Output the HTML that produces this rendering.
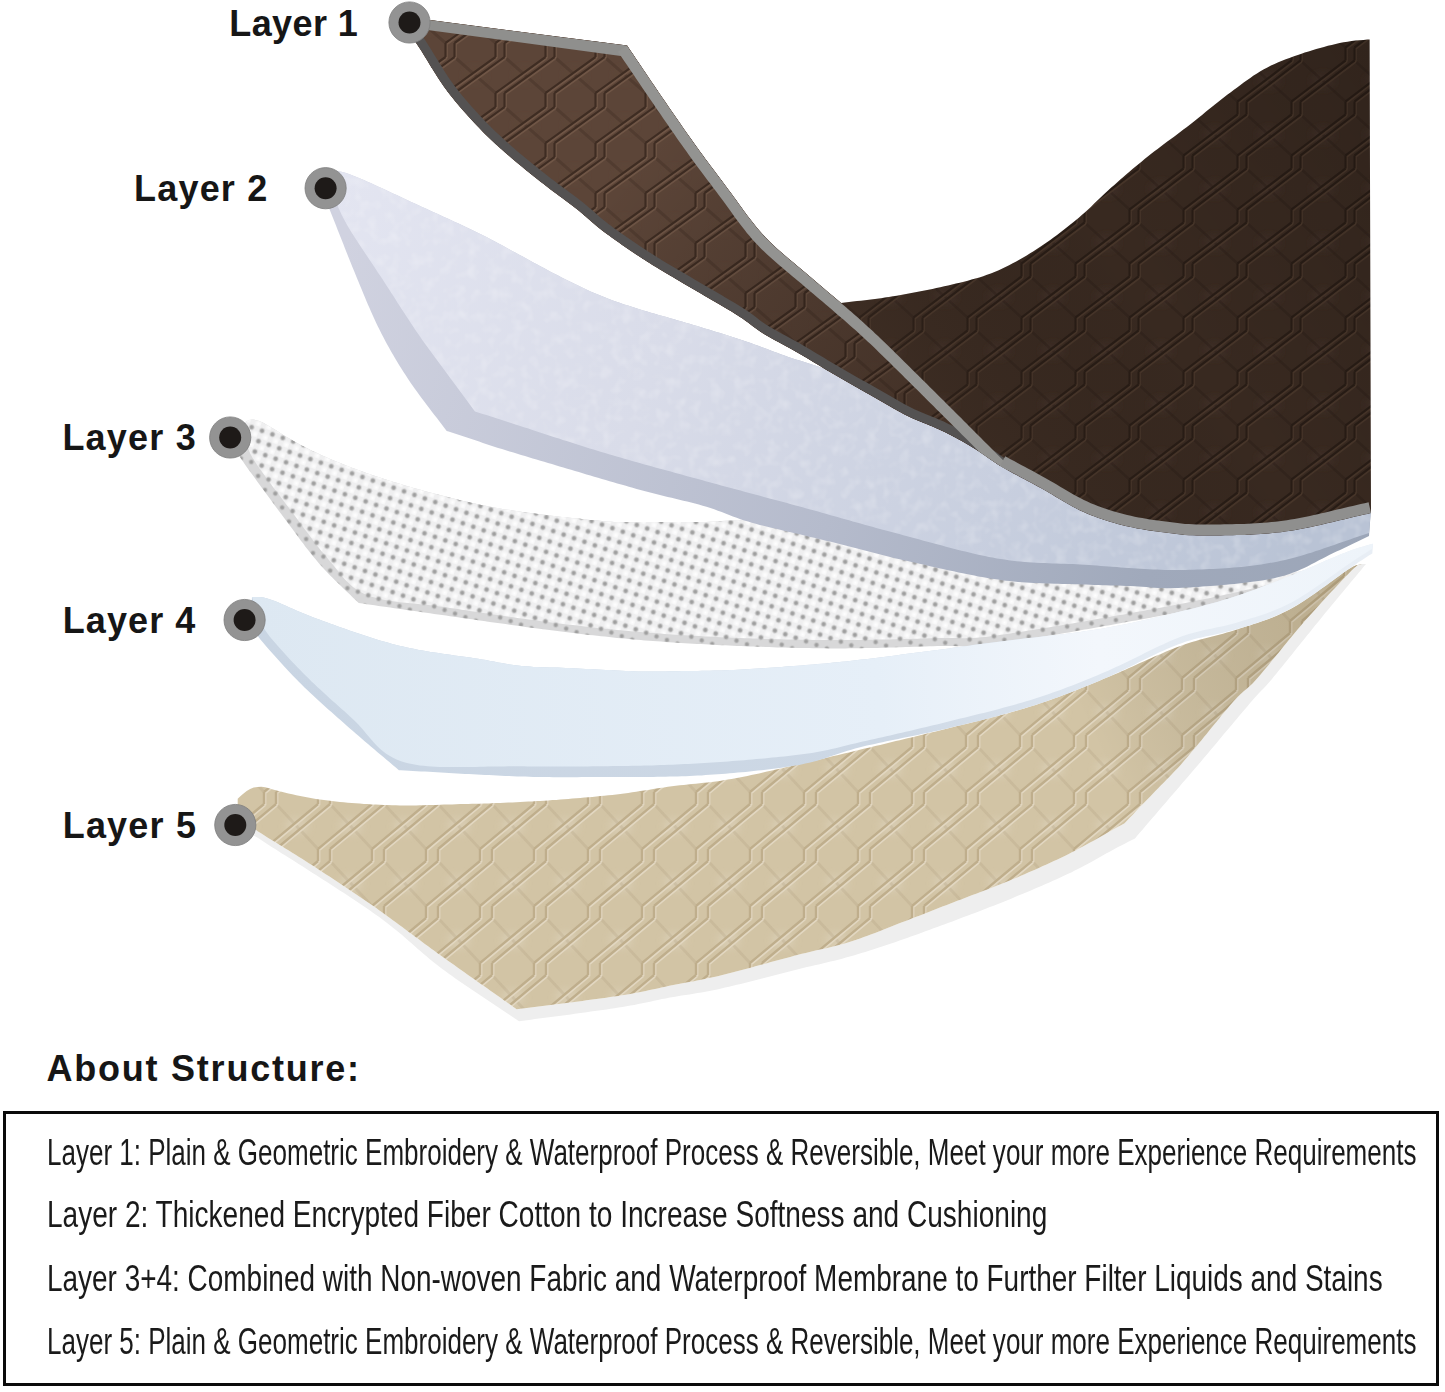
<!DOCTYPE html>
<html><head><meta charset="utf-8"><style>
html,body{margin:0;padding:0;background:#fff;width:1445px;height:1392px;overflow:hidden;position:relative}
.lab{position:absolute;font-family:"Liberation Sans",sans-serif;font-weight:bold;font-size:36px;letter-spacing:0.5px;color:#161616;line-height:1;white-space:nowrap}
.ttl{position:absolute;left:46.5px;top:1050.5px;font-family:"Liberation Sans",sans-serif;font-weight:bold;font-size:36px;letter-spacing:1.77px;color:#161616;line-height:1;white-space:nowrap}
.box{position:absolute;left:2.9px;top:1111.1px;width:1430.5px;height:269.3px;border:3.8px solid #0a0a0a;}
.ln{position:absolute;left:47px;font-family:"Liberation Sans",sans-serif;font-size:36px;color:#1a1a1a;line-height:1;white-space:nowrap;transform-origin:0 0}
</style></head><body>
<svg width="1445" height="1392" viewBox="0 0 1445 1392" style="position:absolute;left:0;top:0"><defs><filter id="blur3" x="-50%" y="-50%" width="200%" height="200%"><feGaussianBlur stdDeviation="3"/></filter><pattern id="qb" width="54" height="54" patternUnits="userSpaceOnUse"><rect width="54" height="54" fill="#382920"/><ellipse cx="27.0" cy="27.0" rx="11.9" ry="8.6" fill="#43322a" opacity="0.5" filter="url(#blur3)"/><path d="M-49.5,-47.5 L-4.5,-6.5 M-49.5,6.5 L-4.5,47.5 M-49.5,60.5 L-4.5,101.5 M4.5,-47.5 L49.5,-6.5 M4.5,6.5 L49.5,47.5 M4.5,60.5 L49.5,101.5 M58.5,-47.5 L103.5,-6.5 M58.5,6.5 L103.5,47.5 M58.5,60.5 L103.5,101.5" stroke="#1e140e" stroke-opacity="0.25" stroke-width="3" fill="none"/><path d="M-58.5,-6.5 L-4.5,-47.5 M-58.5,-60.5 L-58.5,-47.5 M-49.5,-6.5 L4.5,-47.5 M-49.5,-60.5 L-49.5,-47.5 M-58.5,47.5 L-4.5,6.5 M-58.5,-6.5 L-58.5,6.5 M-49.5,47.5 L4.5,6.5 M-49.5,-6.5 L-49.5,6.5 M-58.5,101.5 L-4.5,60.5 M-58.5,47.5 L-58.5,60.5 M-49.5,101.5 L4.5,60.5 M-49.5,47.5 L-49.5,60.5 M-4.5,-6.5 L49.5,-47.5 M-4.5,-60.5 L-4.5,-47.5 M4.5,-6.5 L58.5,-47.5 M4.5,-60.5 L4.5,-47.5 M-4.5,47.5 L49.5,6.5 M-4.5,-6.5 L-4.5,6.5 M4.5,47.5 L58.5,6.5 M4.5,-6.5 L4.5,6.5 M-4.5,101.5 L49.5,60.5 M-4.5,47.5 L-4.5,60.5 M4.5,101.5 L58.5,60.5 M4.5,47.5 L4.5,60.5 M49.5,-6.5 L103.5,-47.5 M49.5,-60.5 L49.5,-47.5 M58.5,-6.5 L112.5,-47.5 M58.5,-60.5 L58.5,-47.5 M49.5,47.5 L103.5,6.5 M49.5,-6.5 L49.5,6.5 M58.5,47.5 L112.5,6.5 M58.5,-6.5 L58.5,6.5 M49.5,101.5 L103.5,60.5 M49.5,47.5 L49.5,60.5 M58.5,101.5 L112.5,60.5 M58.5,47.5 L58.5,60.5" stroke="#473529" stroke-width="2.2" fill="none" transform="translate(1.2,1.2)"/><path d="M-58.5,-6.5 L-4.5,-47.5 M-58.5,-60.5 L-58.5,-47.5 M-49.5,-6.5 L4.5,-47.5 M-49.5,-60.5 L-49.5,-47.5 M-58.5,47.5 L-4.5,6.5 M-58.5,-6.5 L-58.5,6.5 M-49.5,47.5 L4.5,6.5 M-49.5,-6.5 L-49.5,6.5 M-58.5,101.5 L-4.5,60.5 M-58.5,47.5 L-58.5,60.5 M-49.5,101.5 L4.5,60.5 M-49.5,47.5 L-49.5,60.5 M-4.5,-6.5 L49.5,-47.5 M-4.5,-60.5 L-4.5,-47.5 M4.5,-6.5 L58.5,-47.5 M4.5,-60.5 L4.5,-47.5 M-4.5,47.5 L49.5,6.5 M-4.5,-6.5 L-4.5,6.5 M4.5,47.5 L58.5,6.5 M4.5,-6.5 L4.5,6.5 M-4.5,101.5 L49.5,60.5 M-4.5,47.5 L-4.5,60.5 M4.5,101.5 L58.5,60.5 M4.5,47.5 L4.5,60.5 M49.5,-6.5 L103.5,-47.5 M49.5,-60.5 L49.5,-47.5 M58.5,-6.5 L112.5,-47.5 M58.5,-60.5 L58.5,-47.5 M49.5,47.5 L103.5,6.5 M49.5,-6.5 L49.5,6.5 M58.5,47.5 L112.5,6.5 M58.5,-6.5 L58.5,6.5 M49.5,101.5 L103.5,60.5 M49.5,47.5 L49.5,60.5 M58.5,101.5 L112.5,60.5 M58.5,47.5 L58.5,60.5" stroke="#281c15" stroke-width="2.2" fill="none"/></pattern><pattern id="qbn" width="50" height="50" patternUnits="userSpaceOnUse"><rect width="50" height="50" fill="#5c4538"/><ellipse cx="25.0" cy="25.0" rx="11.0" ry="8.0" fill="#5e4637" opacity="0.5" filter="url(#blur3)"/><path d="M-45.5,-43.0 L-4.5,-7.0 M-45.5,7.0 L-4.5,43.0 M-45.5,57.0 L-4.5,93.0 M4.5,-43.0 L45.5,-7.0 M4.5,7.0 L45.5,43.0 M4.5,57.0 L45.5,93.0 M54.5,-43.0 L95.5,-7.0 M54.5,7.0 L95.5,43.0 M54.5,57.0 L95.5,93.0" stroke="#2e2018" stroke-opacity="0.25" stroke-width="3" fill="none"/><path d="M-54.5,-7.0 L-4.5,-43.0 M-54.5,-57.0 L-54.5,-43.0 M-45.5,-7.0 L4.5,-43.0 M-45.5,-57.0 L-45.5,-43.0 M-54.5,43.0 L-4.5,7.0 M-54.5,-7.0 L-54.5,7.0 M-45.5,43.0 L4.5,7.0 M-45.5,-7.0 L-45.5,7.0 M-54.5,93.0 L-4.5,57.0 M-54.5,43.0 L-54.5,57.0 M-45.5,93.0 L4.5,57.0 M-45.5,43.0 L-45.5,57.0 M-4.5,-7.0 L45.5,-43.0 M-4.5,-57.0 L-4.5,-43.0 M4.5,-7.0 L54.5,-43.0 M4.5,-57.0 L4.5,-43.0 M-4.5,43.0 L45.5,7.0 M-4.5,-7.0 L-4.5,7.0 M4.5,43.0 L54.5,7.0 M4.5,-7.0 L4.5,7.0 M-4.5,93.0 L45.5,57.0 M-4.5,43.0 L-4.5,57.0 M4.5,93.0 L54.5,57.0 M4.5,43.0 L4.5,57.0 M45.5,-7.0 L95.5,-43.0 M45.5,-57.0 L45.5,-43.0 M54.5,-7.0 L104.5,-43.0 M54.5,-57.0 L54.5,-43.0 M45.5,43.0 L95.5,7.0 M45.5,-7.0 L45.5,7.0 M54.5,43.0 L104.5,7.0 M54.5,-7.0 L54.5,7.0 M45.5,93.0 L95.5,57.0 M45.5,43.0 L45.5,57.0 M54.5,93.0 L104.5,57.0 M54.5,43.0 L54.5,57.0" stroke="#705646" stroke-width="2.2" fill="none" transform="translate(1.2,1.2)"/><path d="M-54.5,-7.0 L-4.5,-43.0 M-54.5,-57.0 L-54.5,-43.0 M-45.5,-7.0 L4.5,-43.0 M-45.5,-57.0 L-45.5,-43.0 M-54.5,43.0 L-4.5,7.0 M-54.5,-7.0 L-54.5,7.0 M-45.5,43.0 L4.5,7.0 M-45.5,-7.0 L-45.5,7.0 M-54.5,93.0 L-4.5,57.0 M-54.5,43.0 L-54.5,57.0 M-45.5,93.0 L4.5,57.0 M-45.5,43.0 L-45.5,57.0 M-4.5,-7.0 L45.5,-43.0 M-4.5,-57.0 L-4.5,-43.0 M4.5,-7.0 L54.5,-43.0 M4.5,-57.0 L4.5,-43.0 M-4.5,43.0 L45.5,7.0 M-4.5,-7.0 L-4.5,7.0 M4.5,43.0 L54.5,7.0 M4.5,-7.0 L4.5,7.0 M-4.5,93.0 L45.5,57.0 M-4.5,43.0 L-4.5,57.0 M4.5,93.0 L54.5,57.0 M4.5,43.0 L4.5,57.0 M45.5,-7.0 L95.5,-43.0 M45.5,-57.0 L45.5,-43.0 M54.5,-7.0 L104.5,-43.0 M54.5,-57.0 L54.5,-43.0 M45.5,43.0 L95.5,7.0 M45.5,-7.0 L45.5,7.0 M54.5,43.0 L104.5,7.0 M54.5,-7.0 L54.5,7.0 M45.5,93.0 L95.5,57.0 M45.5,43.0 L45.5,57.0 M54.5,93.0 L104.5,57.0 M54.5,43.0 L54.5,57.0" stroke="#3e2c22" stroke-width="2.2" fill="none"/></pattern><pattern id="qt" width="54" height="57" patternUnits="userSpaceOnUse"><rect width="54" height="57" fill="#d2c4a5"/><ellipse cx="27.0" cy="28.5" rx="11.9" ry="9.1" fill="#ddd2bb" opacity="0.5" filter="url(#blur3)"/><path d="M-48.0,-51.0 L-6.0,-6.0 M-48.0,6.0 L-6.0,51.0 M-48.0,63.0 L-6.0,108.0 M6.0,-51.0 L48.0,-6.0 M6.0,6.0 L48.0,51.0 M6.0,63.0 L48.0,108.0 M60.0,-51.0 L102.0,-6.0 M60.0,6.0 L102.0,51.0 M60.0,63.0 L102.0,108.0" stroke="#9c8b6a" stroke-opacity="0.16" stroke-width="3" fill="none"/><path d="M-60.0,-6.0 L-6.0,-51.0 M-60.0,-63.0 L-60.0,-51.0 M-48.0,-6.0 L6.0,-51.0 M-48.0,-63.0 L-48.0,-51.0 M-60.0,51.0 L-6.0,6.0 M-60.0,-6.0 L-60.0,6.0 M-48.0,51.0 L6.0,6.0 M-48.0,-6.0 L-48.0,6.0 M-60.0,108.0 L-6.0,63.0 M-60.0,51.0 L-60.0,63.0 M-48.0,108.0 L6.0,63.0 M-48.0,51.0 L-48.0,63.0 M-6.0,-6.0 L48.0,-51.0 M-6.0,-63.0 L-6.0,-51.0 M6.0,-6.0 L60.0,-51.0 M6.0,-63.0 L6.0,-51.0 M-6.0,51.0 L48.0,6.0 M-6.0,-6.0 L-6.0,6.0 M6.0,51.0 L60.0,6.0 M6.0,-6.0 L6.0,6.0 M-6.0,108.0 L48.0,63.0 M-6.0,51.0 L-6.0,63.0 M6.0,108.0 L60.0,63.0 M6.0,51.0 L6.0,63.0 M48.0,-6.0 L102.0,-51.0 M48.0,-63.0 L48.0,-51.0 M60.0,-6.0 L114.0,-51.0 M60.0,-63.0 L60.0,-51.0 M48.0,51.0 L102.0,6.0 M48.0,-6.0 L48.0,6.0 M60.0,51.0 L114.0,6.0 M60.0,-6.0 L60.0,6.0 M48.0,108.0 L102.0,63.0 M48.0,51.0 L48.0,63.0 M60.0,108.0 L114.0,63.0 M60.0,51.0 L60.0,63.0" stroke="#e2d7c1" stroke-width="2.4" fill="none" transform="translate(1.2,1.2)"/><path d="M-60.0,-6.0 L-6.0,-51.0 M-60.0,-63.0 L-60.0,-51.0 M-48.0,-6.0 L6.0,-51.0 M-48.0,-63.0 L-48.0,-51.0 M-60.0,51.0 L-6.0,6.0 M-60.0,-6.0 L-60.0,6.0 M-48.0,51.0 L6.0,6.0 M-48.0,-6.0 L-48.0,6.0 M-60.0,108.0 L-6.0,63.0 M-60.0,51.0 L-60.0,63.0 M-48.0,108.0 L6.0,63.0 M-48.0,51.0 L-48.0,63.0 M-6.0,-6.0 L48.0,-51.0 M-6.0,-63.0 L-6.0,-51.0 M6.0,-6.0 L60.0,-51.0 M6.0,-63.0 L6.0,-51.0 M-6.0,51.0 L48.0,6.0 M-6.0,-6.0 L-6.0,6.0 M6.0,51.0 L60.0,6.0 M6.0,-6.0 L6.0,6.0 M-6.0,108.0 L48.0,63.0 M-6.0,51.0 L-6.0,63.0 M6.0,108.0 L60.0,63.0 M6.0,51.0 L6.0,63.0 M48.0,-6.0 L102.0,-51.0 M48.0,-63.0 L48.0,-51.0 M60.0,-6.0 L114.0,-51.0 M60.0,-63.0 L60.0,-51.0 M48.0,51.0 L102.0,6.0 M48.0,-6.0 L48.0,6.0 M60.0,51.0 L114.0,6.0 M60.0,-6.0 L60.0,6.0 M48.0,108.0 L102.0,63.0 M48.0,51.0 L48.0,63.0 M60.0,108.0 L114.0,63.0 M60.0,51.0 L60.0,63.0" stroke="#bfae8c" stroke-width="2.4" fill="none"/></pattern><radialGradient id="dotg"><stop offset="0" stop-color="#949494"/><stop offset="0.5" stop-color="#adadad"/><stop offset="1" stop-color="#e0e0e0" stop-opacity="0"/></radialGradient><radialGradient id="hig"><stop offset="0" stop-color="#ffffff"/><stop offset="1" stop-color="#ffffff" stop-opacity="0"/></radialGradient><pattern id="perf" width="11" height="11" patternUnits="userSpaceOnUse" patternTransform="rotate(19)"><rect width="11" height="11" fill="#efeff0"/><circle cx="8.5" cy="8.5" r="4.5" fill="url(#hig)"/><circle cx="3" cy="3" r="3.6" fill="url(#dotg)"/></pattern><pattern id="perf2" width="11" height="11" patternUnits="userSpaceOnUse" patternTransform="rotate(19)"><rect width="11" height="11" fill="#d8d8d9"/><circle cx="3" cy="3" r="3.6" fill="url(#dotg)"/></pattern><clipPath id="c1"><path d="M405.0,16.8 L429.5,20.0 L627.1,45.6 L629.4,48.9 L631.6,52.3 L633.9,55.6 L636.1,59.0 L638.4,62.3 L640.6,65.6 L642.9,69.0 L645.2,72.3 L647.4,75.7 L649.7,79.0 L651.9,82.4 L654.2,85.7 L656.5,89.0 L658.7,92.4 L661.0,95.7 L663.3,99.0 L665.6,102.3 L667.8,105.7 L670.1,109.0 L672.4,112.3 L674.7,115.6 L677.0,119.0 L679.3,122.3 L681.6,125.6 L683.9,128.9 L686.2,132.2 L688.5,135.5 L690.9,138.8 L693.2,142.1 L695.5,145.3 L697.9,148.6 L700.3,151.9 L702.7,155.1 L705.0,158.4 L707.4,161.6 L709.8,164.9 L712.3,168.1 L714.7,171.3 L717.1,174.5 L719.5,177.8 L722.0,181.0 L724.4,184.2 L726.8,187.4 L729.2,190.7 L731.6,193.9 L734.0,197.2 L736.4,200.4 L738.7,203.7 L741.1,207.0 L743.4,210.2 L745.8,213.5 L748.2,216.7 L750.7,219.9 L753.2,223.1 L755.7,226.3 L758.3,229.4 L760.9,232.4 L763.6,235.4 L766.4,238.3 L769.2,241.2 L772.1,244.0 L775.0,246.8 L778.0,249.5 L781.0,252.2 L784.1,254.8 L787.1,257.4 L790.2,260.0 L793.3,262.6 L796.4,265.2 L799.5,267.8 L802.6,270.4 L805.7,273.0 L808.7,275.6 L811.8,278.2 L814.8,280.8 L817.9,283.5 L821.0,286.1 L824.1,288.7 L827.1,291.3 L830.2,293.9 L833.3,296.5 L836.4,299.1 L839.5,301.7 L841.0,303.0 L845.0,302.5 L849.0,302.1 L853.0,301.6 L857.0,301.1 L861.0,300.7 L865.0,300.2 L869.0,299.7 L873.0,299.2 L877.0,298.7 L881.0,298.2 L885.0,297.6 L888.9,297.0 L892.9,296.3 L896.9,295.7 L900.8,295.0 L904.8,294.3 L908.8,293.5 L912.7,292.8 L916.7,292.0 L920.6,291.3 L924.6,290.5 L928.5,289.7 L932.5,288.9 L936.4,288.1 L940.3,287.2 L944.3,286.3 L948.2,285.5 L952.1,284.5 L956.0,283.6 L959.9,282.7 L963.9,281.7 L967.8,280.7 L971.6,279.6 L975.5,278.6 L979.4,277.4 L983.2,276.2 L987.0,274.8 L990.8,273.4 L994.5,271.9 L998.2,270.4 L1001.9,268.7 L1005.5,267.0 L1009.1,265.2 L1012.7,263.3 L1016.2,261.4 L1019.7,259.5 L1023.2,257.5 L1026.7,255.4 L1030.1,253.3 L1033.5,251.2 L1036.9,249.0 L1040.3,246.8 L1043.6,244.5 L1046.9,242.3 L1050.2,239.9 L1053.5,237.6 L1056.7,235.2 L1059.9,232.7 L1063.1,230.3 L1066.3,227.8 L1069.4,225.3 L1072.6,222.8 L1075.7,220.2 L1078.8,217.7 L1081.8,215.0 L1084.8,212.4 L1087.8,209.7 L1090.8,206.9 L1093.7,204.1 L1096.6,201.3 L1099.5,198.5 L1102.4,195.8 L1105.3,193.0 L1108.3,190.3 L1111.2,187.6 L1114.3,184.9 L1117.3,182.2 L1120.3,179.6 L1123.3,176.9 L1126.4,174.3 L1129.4,171.7 L1132.5,169.1 L1135.6,166.5 L1138.7,163.9 L1141.8,161.4 L1144.9,158.8 L1148.1,156.3 L1151.2,153.8 L1154.4,151.3 L1157.6,148.9 L1160.8,146.4 L1164.0,144.0 L1167.3,141.6 L1170.5,139.3 L1173.7,136.9 L1177.0,134.5 L1180.2,132.1 L1183.4,129.6 L1186.6,127.2 L1189.8,124.7 L1193.0,122.2 L1196.1,119.7 L1199.2,117.2 L1202.4,114.7 L1205.5,112.1 L1208.6,109.6 L1211.8,107.1 L1214.9,104.6 L1218.1,102.0 L1221.2,99.6 L1224.4,97.1 L1227.6,94.6 L1230.8,92.2 L1234.0,89.8 L1237.2,87.4 L1240.5,84.9 L1243.7,82.6 L1247.0,80.2 L1250.3,77.9 L1253.6,75.6 L1257.0,73.5 L1260.4,71.3 L1263.9,69.3 L1267.4,67.4 L1271.0,65.6 L1274.6,63.9 L1278.3,62.2 L1282.0,60.7 L1285.8,59.3 L1289.5,57.9 L1293.3,56.5 L1297.1,55.2 L1300.9,53.9 L1304.8,52.6 L1308.6,51.4 L1312.4,50.2 L1316.3,49.1 L1320.2,47.9 L1324.0,46.9 L1327.9,45.8 L1331.8,44.9 L1335.7,43.9 L1339.7,43.1 L1343.6,42.3 L1347.6,41.7 L1351.6,41.1 L1355.6,40.6 L1359.6,40.2 L1363.6,39.9 L1367.6,39.6 L1369.6,39.4 L1371.0,513.0 L1367.1,513.9 L1363.2,514.8 L1359.3,515.7 L1355.4,516.6 L1351.5,517.5 L1347.6,518.4 L1343.7,519.4 L1339.8,520.3 L1335.9,521.3 L1332.0,522.2 L1328.1,523.1 L1324.2,524.0 L1320.3,524.9 L1316.4,525.8 L1312.4,526.7 L1308.5,527.5 L1304.6,528.3 L1300.7,529.0 L1296.7,529.8 L1292.8,530.4 L1288.8,531.1 L1284.8,531.6 L1280.9,532.2 L1276.9,532.6 L1272.9,533.0 L1268.9,533.4 L1264.9,533.7 L1260.9,534.0 L1256.9,534.3 L1252.9,534.5 L1248.9,534.7 L1244.9,534.9 L1240.9,535.0 L1236.9,535.1 L1232.9,535.2 L1228.9,535.3 L1224.9,535.3 L1220.9,535.4 L1216.8,535.4 L1212.8,535.4 L1208.8,535.5 L1204.8,535.5 L1200.8,535.5 L1196.8,535.4 L1192.8,535.3 L1188.8,535.2 L1184.8,534.9 L1180.8,534.6 L1176.8,534.1 L1172.8,533.6 L1168.9,533.1 L1164.9,532.6 L1160.9,532.0 L1157.0,531.5 L1153.0,530.9 L1149.0,530.4 L1145.1,529.7 L1141.1,529.1 L1137.2,528.4 L1133.2,527.6 L1129.3,526.8 L1125.4,525.9 L1121.5,524.9 L1117.6,523.9 L1113.8,522.8 L1109.9,521.7 L1106.1,520.5 L1102.3,519.3 L1098.5,518.0 L1094.7,516.6 L1091.0,515.2 L1087.3,513.7 L1083.6,512.1 L1080.0,510.4 L1076.4,508.6 L1072.9,506.7 L1069.4,504.8 L1065.9,502.8 L1062.4,500.8 L1059.0,498.7 L1055.5,496.7 L1052.1,494.6 L1048.6,492.6 L1045.2,490.6 L1041.7,488.6 L1038.2,486.7 L1034.7,484.7 L1031.1,482.8 L1027.6,481.0 L1024.0,479.1 L1020.5,477.2 L1017.0,475.3 L1013.4,473.4 L1009.9,471.5 L1006.4,469.5 L1002.9,467.5 L999.5,465.5 L996.1,463.3 L992.8,461.1 L989.5,458.8 L986.2,456.5 L982.9,454.2 L979.6,452.0 L976.3,449.8 L972.9,447.6 L969.5,445.5 L966.0,443.5 L962.6,441.5 L959.1,439.5 L955.5,437.6 L952.0,435.7 L948.4,433.9 L944.9,432.1 L941.2,430.4 L937.6,428.7 L933.9,427.1 L930.2,425.6 L926.5,424.1 L922.8,422.6 L919.1,421.1 L915.4,419.6 L911.7,417.9 L908.1,416.2 L904.5,414.4 L901.0,412.5 L897.5,410.6 L894.0,408.6 L890.5,406.6 L887.0,404.6 L883.6,402.6 L880.1,400.6 L876.6,398.6 L873.1,396.6 L869.7,394.6 L866.2,392.7 L862.7,390.7 L859.2,388.7 L855.7,386.8 L852.2,384.8 L848.7,382.8 L845.2,380.8 L841.7,378.8 L838.3,376.8 L834.8,374.8 L831.4,372.8 L827.9,370.7 L824.5,368.7 L821.0,366.6 L817.6,364.5 L814.2,362.4 L810.8,360.4 L807.3,358.3 L803.9,356.3 L800.4,354.2 L796.9,352.2 L793.5,350.3 L789.9,348.3 L786.4,346.4 L782.9,344.5 L779.4,342.6 L775.9,340.7 L772.3,338.7 L768.8,336.8 L765.4,334.8 L762.0,332.7 L758.7,330.4 L755.4,328.1 L752.2,325.7 L749.0,323.3 L745.8,320.9 L742.6,318.6 L739.2,316.4 L735.9,314.2 L732.5,312.1 L729.0,310.0 L725.6,308.0 L722.1,306.0 L718.7,303.9 L715.2,301.9 L711.7,299.9 L708.3,297.9 L704.8,295.9 L701.3,293.8 L697.9,291.8 L694.4,289.8 L691.0,287.7 L687.5,285.7 L684.0,283.7 L680.6,281.7 L677.1,279.7 L673.7,277.6 L670.2,275.6 L666.8,273.6 L663.3,271.5 L659.9,269.4 L656.5,267.3 L653.0,265.2 L649.7,263.1 L646.3,261.0 L642.9,258.8 L639.5,256.6 L636.2,254.4 L632.9,252.2 L629.5,249.9 L626.2,247.7 L622.9,245.4 L619.6,243.1 L616.3,240.8 L613.1,238.5 L609.8,236.1 L606.6,233.8 L603.4,231.4 L600.2,228.9 L597.1,226.4 L594.0,223.8 L591.0,221.2 L588.0,218.5 L585.0,215.9 L581.9,213.3 L578.9,210.8 L575.7,208.3 L572.6,205.8 L569.4,203.4 L566.1,201.0 L562.9,198.6 L559.7,196.2 L556.5,193.8 L553.3,191.4 L550.1,189.0 L546.9,186.6 L543.7,184.1 L540.5,181.7 L537.4,179.2 L534.2,176.7 L531.1,174.2 L528.0,171.7 L524.9,169.2 L521.8,166.6 L518.7,164.1 L515.6,161.5 L512.6,158.9 L509.5,156.3 L506.5,153.7 L503.5,151.0 L500.5,148.4 L497.5,145.7 L494.5,143.0 L491.6,140.3 L488.7,137.5 L485.8,134.7 L483.0,131.9 L480.2,129.0 L477.4,126.1 L474.7,123.2 L471.9,120.2 L469.2,117.3 L466.6,114.3 L463.9,111.3 L461.2,108.3 L458.6,105.3 L456.0,102.2 L453.5,99.1 L451.0,96.0 L448.5,92.8 L446.1,89.6 L443.8,86.4 L441.5,83.1 L439.3,79.7 L437.1,76.4 L435.0,73.0 L432.8,69.6 L430.7,66.2 L428.6,62.8 L426.6,59.3 L424.5,55.9 L422.4,52.5 L420.2,49.1 L418.0,45.8 L415.8,42.4 L413.5,39.2 L411.1,35.9 L408.7,32.7 L406.2,29.6 L405.0,28.0Z"/></clipPath></defs><path d="M240.0,430.0 L241.8,426.7 L243.8,423.7 L246.2,421.4 L249.0,419.9 L252.2,419.5 L255.6,419.9 L259.2,421.0 L262.7,422.6 L266.2,424.5 L269.7,426.5 L273.1,428.5 L276.5,430.6 L279.9,432.8 L283.3,434.9 L286.7,437.0 L290.2,439.0 L293.6,441.1 L297.1,443.0 L300.6,445.0 L304.2,446.8 L307.7,448.6 L311.3,450.4 L314.9,452.1 L318.6,453.8 L322.2,455.5 L325.9,457.1 L329.6,458.7 L333.2,460.3 L336.9,461.8 L340.7,463.3 L344.4,464.8 L348.1,466.3 L351.9,467.7 L355.6,469.1 L359.4,470.5 L363.2,471.8 L366.9,473.2 L370.7,474.5 L374.5,475.8 L378.3,477.1 L382.1,478.3 L385.9,479.6 L389.7,480.8 L393.6,482.0 L397.4,483.1 L401.2,484.3 L405.1,485.4 L408.9,486.6 L412.8,487.7 L416.6,488.7 L420.5,489.8 L424.4,490.9 L428.2,491.9 L432.1,493.0 L436.0,494.0 L439.9,495.0 L443.7,496.1 L447.6,497.1 L451.5,498.1 L455.4,499.0 L459.3,500.0 L463.2,500.9 L467.1,501.8 L471.0,502.7 L474.9,503.6 L478.8,504.4 L482.7,505.2 L486.7,506.0 L490.6,506.7 L494.6,507.5 L498.5,508.2 L502.4,508.9 L506.4,509.5 L510.4,510.1 L514.3,510.7 L518.3,511.3 L522.3,511.9 L526.2,512.4 L530.2,513.0 L534.2,513.5 L538.1,514.0 L542.1,514.5 L546.1,515.0 L550.1,515.5 L554.1,516.0 L558.0,516.4 L562.0,516.9 L566.0,517.3 L570.0,517.8 L574.0,518.2 L578.0,518.6 L581.9,519.1 L585.9,519.5 L589.9,519.9 L593.9,520.2 L597.9,520.6 L601.9,521.0 L605.9,521.3 L609.9,521.6 L613.9,521.9 L617.9,522.1 L621.9,522.2 L625.9,522.3 L629.9,522.3 L633.9,522.2 L637.9,522.2 L641.9,522.1 L645.9,522.1 L649.9,522.1 L653.9,522.0 L658.0,522.1 L662.0,522.1 L666.0,522.1 L670.0,522.1 L674.0,522.1 L678.0,522.1 L682.0,522.1 L686.0,522.1 L690.0,522.1 L694.0,522.1 L698.0,522.1 L702.0,522.0 L706.0,521.9 L710.0,521.8 L714.0,521.6 L718.0,521.3 L722.0,521.1 L726.0,520.8 L730.0,520.5 L734.0,520.4 L738.0,520.3 L742.0,520.5 L746.0,520.7 L750.0,521.1 L753.9,521.7 L757.9,522.3 L761.8,523.1 L765.8,523.9 L769.7,524.7 L773.6,525.6 L777.5,526.6 L781.4,527.5 L785.3,528.4 L789.2,529.4 L793.1,530.3 L797.0,531.3 L800.9,532.2 L804.8,533.1 L808.7,534.0 L812.6,534.9 L816.5,535.9 L820.4,536.8 L824.3,537.7 L828.2,538.7 L832.0,539.6 L835.9,540.6 L839.8,541.5 L843.7,542.5 L847.6,543.4 L851.5,544.4 L855.4,545.3 L859.3,546.3 L863.2,547.3 L867.1,548.2 L871.0,549.2 L874.9,550.2 L878.8,551.1 L882.6,552.1 L886.5,553.0 L890.4,553.9 L894.4,554.8 L898.3,555.7 L902.2,556.6 L906.1,557.5 L910.0,558.4 L913.9,559.3 L917.8,560.3 L921.7,561.2 L925.6,562.1 L929.5,563.1 L933.4,564.0 L937.3,565.0 L941.1,565.9 L945.1,566.8 L949.0,567.7 L952.9,568.6 L956.8,569.5 L960.7,570.3 L964.6,571.1 L968.6,571.9 L972.5,572.7 L976.4,573.4 L980.4,574.1 L984.3,574.7 L988.3,575.3 L992.3,575.9 L996.2,576.5 L1000.2,577.0 L1004.2,577.4 L1008.2,577.9 L1012.2,578.3 L1016.1,578.7 L1020.1,579.1 L1024.1,579.4 L1028.1,579.8 L1032.1,580.1 L1036.1,580.4 L1040.1,580.7 L1044.1,581.0 L1048.1,581.3 L1052.1,581.5 L1056.1,581.8 L1060.1,582.0 L1064.1,582.2 L1068.1,582.4 L1072.1,582.6 L1076.1,582.8 L1080.1,582.9 L1084.1,583.1 L1088.1,583.2 L1092.1,583.4 L1096.1,583.5 L1100.2,583.6 L1104.2,583.7 L1108.2,583.8 L1112.2,583.8 L1116.2,583.9 L1120.2,583.9 L1124.2,584.0 L1128.2,584.0 L1132.2,584.0 L1136.2,584.0 L1140.2,583.9 L1144.2,583.9 L1148.2,583.8 L1152.3,583.7 L1156.3,583.6 L1160.3,583.5 L1164.3,583.4 L1168.3,583.3 L1172.3,583.2 L1176.3,583.0 L1180.3,582.8 L1184.3,582.7 L1188.3,582.5 L1192.3,582.3 L1196.3,582.1 L1200.3,581.8 L1204.3,581.6 L1208.3,581.4 L1212.3,581.1 L1216.3,580.9 L1220.3,580.6 L1224.3,580.3 L1228.3,580.0 L1232.3,579.7 L1236.3,579.4 L1240.3,579.1 L1244.3,578.7 L1248.3,578.4 L1252.3,578.0 L1256.3,577.6 L1260.2,577.2 L1264.2,576.8 L1268.2,576.4 L1272.2,575.9 L1276.2,575.4 L1280.1,574.8 L1284.1,574.2 L1288.1,573.6 L1292.0,572.9 L1295.9,572.2 L1299.9,571.4 L1303.8,570.6 L1307.7,569.8 L1311.7,569.0 L1315.6,568.2 L1319.5,567.3 L1323.4,566.5 L1327.3,565.6 L1331.3,564.8 L1335.2,564.0 L1339.1,563.2 L1343.0,562.4 L1345.0,562.0 L1341.3,567.5 L1337.5,568.9 L1333.8,570.4 L1330.1,571.9 L1326.4,573.4 L1322.6,574.9 L1318.9,576.3 L1315.2,577.8 L1311.4,579.1 L1307.6,580.5 L1303.8,581.7 L1300.0,583.0 L1296.2,584.1 L1292.3,585.3 L1288.5,586.4 L1284.6,587.5 L1280.7,588.5 L1276.9,589.6 L1273.0,590.6 L1269.1,591.6 L1265.2,592.6 L1261.3,593.7 L1257.5,594.6 L1253.6,595.6 L1249.7,596.6 L1245.8,597.5 L1241.9,598.5 L1238.0,599.4 L1234.1,600.3 L1230.2,601.2 L1226.3,602.1 L1222.4,603.0 L1218.4,603.9 L1214.5,604.8 L1210.6,605.6 L1206.7,606.5 L1202.8,607.3 L1198.8,608.1 L1194.9,609.0 L1191.0,609.8 L1187.1,610.6 L1183.1,611.4 L1179.2,612.1 L1175.3,612.9 L1171.3,613.7 L1167.4,614.5 L1163.4,615.2 L1159.5,616.0 L1155.6,616.7 L1151.6,617.5 L1147.7,618.2 L1143.7,618.9 L1139.8,619.7 L1135.9,620.4 L1131.9,621.1 L1128.0,621.8 L1124.0,622.6 L1120.1,623.3 L1116.1,624.0 L1112.2,624.7 L1108.2,625.4 L1104.3,626.1 L1100.3,626.8 L1096.4,627.5 L1092.4,628.2 L1088.5,628.9 L1084.5,629.6 L1080.6,630.3 L1076.6,631.0 L1072.7,631.7 L1068.7,632.4 L1064.8,633.1 L1060.8,633.7 L1056.9,634.4 L1052.9,635.1 L1049.0,635.7 L1045.0,636.4 L1041.1,637.1 L1037.1,637.7 L1033.1,638.4 L1029.2,639.0 L1025.2,639.6 L1021.3,640.3 L1017.3,640.9 L1013.3,641.5 L1009.4,642.1 L1005.4,642.7 L1001.4,643.3 L997.5,643.8 L993.5,644.3 L989.5,644.8 L985.5,645.3 L981.5,645.6 L977.5,646.0 L973.5,646.2 L969.5,646.3 L965.5,646.4 L961.5,646.3 L957.5,646.2 L953.5,646.1 L949.5,646.1 L945.5,646.0 L941.5,646.0 L937.5,646.1 L933.5,646.2 L929.5,646.3 L925.5,646.4 L921.5,646.6 L917.4,646.7 L913.4,646.8 L909.4,647.0 L905.4,647.1 L901.4,647.2 L897.4,647.3 L893.4,647.4 L889.4,647.6 L885.4,647.7 L881.4,647.8 L877.4,647.9 L873.3,648.0 L869.3,648.0 L865.3,648.1 L861.3,648.2 L857.3,648.2 L853.3,648.3 L849.3,648.3 L845.3,648.4 L841.3,648.4 L837.3,648.4 L833.2,648.4 L829.2,648.4 L825.2,648.3 L821.2,648.3 L817.2,648.2 L813.2,648.2 L809.2,648.1 L805.2,648.1 L801.2,648.0 L797.2,647.9 L793.1,647.8 L789.1,647.7 L785.1,647.6 L781.1,647.5 L777.1,647.4 L773.1,647.2 L769.1,647.1 L765.1,647.0 L761.1,646.8 L757.1,646.7 L753.1,646.5 L749.1,646.4 L745.1,646.2 L741.0,646.0 L737.0,645.9 L733.0,645.7 L729.0,645.5 L725.0,645.3 L721.0,645.2 L717.0,645.0 L713.0,644.8 L709.0,644.6 L705.0,644.3 L701.0,644.1 L697.0,643.9 L693.0,643.7 L689.0,643.4 L685.0,643.2 L681.0,643.0 L677.0,642.7 L673.0,642.4 L669.0,642.2 L665.0,641.9 L661.0,641.6 L657.0,641.3 L653.0,641.0 L649.0,640.7 L645.0,640.4 L641.0,640.1 L637.0,639.7 L633.0,639.4 L629.0,639.0 L625.0,638.6 L621.0,638.3 L617.0,637.9 L613.0,637.5 L609.0,637.0 L605.0,636.6 L601.1,636.2 L597.1,635.8 L593.1,635.3 L589.1,634.9 L585.1,634.4 L581.1,633.9 L577.2,633.4 L573.2,633.0 L569.2,632.5 L565.2,632.0 L561.2,631.5 L557.3,631.0 L553.3,630.5 L549.3,630.0 L545.3,629.5 L541.3,629.0 L537.4,628.5 L533.4,627.9 L529.4,627.4 L525.4,626.9 L521.5,626.3 L517.5,625.8 L513.5,625.2 L509.5,624.7 L505.6,624.1 L501.6,623.6 L497.6,623.0 L493.7,622.5 L489.7,621.9 L485.7,621.3 L481.7,620.7 L477.8,620.2 L473.8,619.6 L469.8,619.0 L465.9,618.5 L461.9,617.9 L457.9,617.3 L454.0,616.8 L450.0,616.2 L446.0,615.6 L442.1,615.1 L438.1,614.5 L434.1,613.9 L430.1,613.3 L426.2,612.8 L422.2,612.2 L418.2,611.6 L414.3,611.1 L410.3,610.5 L406.3,609.9 L402.4,609.3 L398.4,608.8 L394.4,608.2 L390.4,607.6 L386.5,607.0 L382.5,606.5 L378.5,605.9 L374.6,605.3 L370.6,604.7 L366.6,604.2 L362.7,603.6 L358.7,603.0 L358.7,603.0 L355.8,600.2 L352.8,597.4 L349.9,594.5 L346.9,591.7 L344.0,588.9 L341.0,586.1 L338.1,583.3 L335.2,580.5 L332.3,577.6 L329.4,574.7 L326.6,571.8 L323.8,568.8 L321.1,565.8 L318.4,562.7 L315.8,559.6 L313.2,556.5 L310.6,553.3 L308.1,550.1 L305.6,546.9 L303.2,543.6 L300.7,540.4 L298.3,537.1 L295.9,533.8 L293.5,530.5 L291.1,527.3 L288.6,524.0 L286.2,520.7 L283.8,517.5 L281.4,514.2 L278.9,510.9 L276.5,507.7 L274.1,504.4 L271.6,501.1 L269.2,497.8 L266.8,494.6 L264.4,491.3 L262.0,488.0 L259.6,484.7 L257.2,481.4 L254.8,478.1 L252.4,474.8 L250.0,471.5 L247.6,468.2 L245.3,464.9 L243.0,461.6 L240.7,458.2 L238.5,454.7 L236.6,451.2 L234.8,447.6 L233.3,443.8 L232.0,440.0 L232.0,440.0Z" fill="url(#perf2)"/><path d="M240.0,430.0 L241.8,426.7 L243.8,423.7 L246.2,421.4 L249.0,419.9 L252.2,419.5 L255.6,419.9 L259.2,421.0 L262.7,422.6 L266.2,424.5 L269.7,426.5 L273.1,428.5 L276.5,430.6 L279.9,432.8 L283.3,434.9 L286.7,437.0 L290.2,439.0 L293.6,441.1 L297.1,443.0 L300.6,445.0 L304.2,446.8 L307.7,448.6 L311.3,450.4 L314.9,452.1 L318.6,453.8 L322.2,455.5 L325.9,457.1 L329.6,458.7 L333.2,460.3 L336.9,461.8 L340.7,463.3 L344.4,464.8 L348.1,466.3 L351.9,467.7 L355.6,469.1 L359.4,470.5 L363.2,471.8 L366.9,473.2 L370.7,474.5 L374.5,475.8 L378.3,477.1 L382.1,478.3 L385.9,479.6 L389.7,480.8 L393.6,482.0 L397.4,483.1 L401.2,484.3 L405.1,485.4 L408.9,486.6 L412.8,487.7 L416.6,488.7 L420.5,489.8 L424.4,490.9 L428.2,491.9 L432.1,493.0 L436.0,494.0 L439.9,495.0 L443.7,496.1 L447.6,497.1 L451.5,498.1 L455.4,499.0 L459.3,500.0 L463.2,500.9 L467.1,501.8 L471.0,502.7 L474.9,503.6 L478.8,504.4 L482.7,505.2 L486.7,506.0 L490.6,506.7 L494.6,507.5 L498.5,508.2 L502.4,508.9 L506.4,509.5 L510.4,510.1 L514.3,510.7 L518.3,511.3 L522.3,511.9 L526.2,512.4 L530.2,513.0 L534.2,513.5 L538.1,514.0 L542.1,514.5 L546.1,515.0 L550.1,515.5 L554.1,516.0 L558.0,516.4 L562.0,516.9 L566.0,517.3 L570.0,517.8 L574.0,518.2 L578.0,518.6 L581.9,519.1 L585.9,519.5 L589.9,519.9 L593.9,520.2 L597.9,520.6 L601.9,521.0 L605.9,521.3 L609.9,521.6 L613.9,521.9 L617.9,522.1 L621.9,522.2 L625.9,522.3 L629.9,522.3 L633.9,522.2 L637.9,522.2 L641.9,522.1 L645.9,522.1 L649.9,522.1 L653.9,522.0 L658.0,522.1 L662.0,522.1 L666.0,522.1 L670.0,522.1 L674.0,522.1 L678.0,522.1 L682.0,522.1 L686.0,522.1 L690.0,522.1 L694.0,522.1 L698.0,522.1 L702.0,522.0 L706.0,521.9 L710.0,521.8 L714.0,521.6 L718.0,521.3 L722.0,521.1 L726.0,520.8 L730.0,520.5 L734.0,520.4 L738.0,520.3 L742.0,520.5 L746.0,520.7 L750.0,521.1 L753.9,521.7 L757.9,522.3 L761.8,523.1 L765.8,523.9 L769.7,524.7 L773.6,525.6 L777.5,526.6 L781.4,527.5 L785.3,528.4 L789.2,529.4 L793.1,530.3 L797.0,531.3 L800.9,532.2 L804.8,533.1 L808.7,534.0 L812.6,534.9 L816.5,535.9 L820.4,536.8 L824.3,537.7 L828.2,538.7 L832.0,539.6 L835.9,540.6 L839.8,541.5 L843.7,542.5 L847.6,543.4 L851.5,544.4 L855.4,545.3 L859.3,546.3 L863.2,547.3 L867.1,548.2 L871.0,549.2 L874.9,550.2 L878.8,551.1 L882.6,552.1 L886.5,553.0 L890.4,553.9 L894.4,554.8 L898.3,555.7 L902.2,556.6 L906.1,557.5 L910.0,558.4 L913.9,559.3 L917.8,560.3 L921.7,561.2 L925.6,562.1 L929.5,563.1 L933.4,564.0 L937.3,565.0 L941.1,565.9 L945.1,566.8 L949.0,567.7 L952.9,568.6 L956.8,569.5 L960.7,570.3 L964.6,571.1 L968.6,571.9 L972.5,572.7 L976.4,573.4 L980.4,574.1 L984.3,574.7 L988.3,575.3 L992.3,575.9 L996.2,576.5 L1000.2,577.0 L1004.2,577.4 L1008.2,577.9 L1012.2,578.3 L1016.1,578.7 L1020.1,579.1 L1024.1,579.4 L1028.1,579.8 L1032.1,580.1 L1036.1,580.4 L1040.1,580.7 L1044.1,581.0 L1048.1,581.3 L1052.1,581.5 L1056.1,581.8 L1060.1,582.0 L1064.1,582.2 L1068.1,582.4 L1072.1,582.6 L1076.1,582.8 L1080.1,582.9 L1084.1,583.1 L1088.1,583.2 L1092.1,583.4 L1096.1,583.5 L1100.2,583.6 L1104.2,583.7 L1108.2,583.8 L1112.2,583.8 L1116.2,583.9 L1120.2,583.9 L1124.2,584.0 L1128.2,584.0 L1132.2,584.0 L1136.2,584.0 L1140.2,583.9 L1144.2,583.9 L1148.2,583.8 L1152.3,583.7 L1156.3,583.6 L1160.3,583.5 L1164.3,583.4 L1168.3,583.3 L1172.3,583.2 L1176.3,583.0 L1180.3,582.8 L1184.3,582.7 L1188.3,582.5 L1192.3,582.3 L1196.3,582.1 L1200.3,581.8 L1204.3,581.6 L1208.3,581.4 L1212.3,581.1 L1216.3,580.9 L1220.3,580.6 L1224.3,580.3 L1228.3,580.0 L1232.3,579.7 L1236.3,579.4 L1240.3,579.1 L1244.3,578.7 L1248.3,578.4 L1252.3,578.0 L1256.3,577.6 L1260.2,577.2 L1264.2,576.8 L1268.2,576.4 L1272.2,575.9 L1276.2,575.4 L1280.1,574.8 L1284.1,574.2 L1288.1,573.6 L1292.0,572.9 L1295.9,572.2 L1299.9,571.4 L1303.8,570.6 L1307.7,569.8 L1311.7,569.0 L1315.6,568.2 L1319.5,567.3 L1323.4,566.5 L1327.3,565.6 L1331.3,564.8 L1335.2,564.0 L1339.1,563.2 L1343.0,562.4 L1345.0,562.0 L1345.0,560.0 L1341.2,561.4 L1337.5,562.8 L1333.7,564.2 L1330.0,565.6 L1326.2,567.1 L1322.5,568.5 L1318.7,569.9 L1315.0,571.3 L1311.2,572.6 L1307.4,573.8 L1303.6,575.0 L1299.7,576.2 L1295.9,577.3 L1292.0,578.4 L1288.2,579.5 L1284.3,580.5 L1280.4,581.5 L1276.5,582.5 L1272.7,583.5 L1268.8,584.5 L1264.9,585.5 L1261.0,586.4 L1257.1,587.4 L1253.2,588.3 L1249.3,589.2 L1245.4,590.1 L1241.5,591.0 L1237.6,591.9 L1233.7,592.8 L1229.8,593.7 L1225.8,594.6 L1221.9,595.4 L1218.0,596.3 L1214.1,597.1 L1210.2,597.9 L1206.2,598.7 L1202.3,599.5 L1198.4,600.3 L1194.5,601.1 L1190.5,601.9 L1186.6,602.7 L1182.7,603.5 L1178.7,604.2 L1174.8,605.0 L1170.9,605.7 L1166.9,606.5 L1163.0,607.2 L1159.0,608.0 L1155.1,608.7 L1151.2,609.4 L1147.2,610.1 L1143.3,610.9 L1139.3,611.6 L1135.4,612.3 L1131.4,613.0 L1127.5,613.7 L1123.6,614.4 L1119.6,615.1 L1115.7,615.8 L1111.7,616.5 L1107.8,617.2 L1103.8,617.9 L1099.9,618.6 L1095.9,619.3 L1092.0,620.0 L1088.0,620.7 L1084.1,621.4 L1080.1,622.0 L1076.2,622.7 L1072.2,623.4 L1068.3,624.1 L1064.3,624.7 L1060.4,625.4 L1056.4,626.1 L1052.5,626.7 L1048.5,627.4 L1044.6,628.0 L1040.6,628.7 L1036.7,629.3 L1032.7,630.0 L1028.7,630.6 L1024.8,631.2 L1020.8,631.9 L1016.9,632.5 L1012.9,633.1 L1008.9,633.7 L1005.0,634.3 L1001.0,634.8 L997.0,635.4 L993.1,635.9 L989.1,636.4 L985.1,636.9 L981.1,637.3 L977.1,637.7 L973.1,637.9 L969.1,638.1 L965.1,638.2 L961.1,638.2 L957.1,638.1 L953.1,638.0 L949.1,637.9 L945.1,637.9 L941.1,638.0 L937.1,638.1 L933.1,638.2 L929.1,638.3 L925.1,638.4 L921.1,638.5 L917.1,638.7 L913.1,638.8 L909.0,638.9 L905.0,639.0 L901.0,639.1 L897.0,639.2 L893.0,639.3 L889.0,639.4 L885.0,639.4 L881.0,639.5 L877.0,639.6 L873.0,639.7 L869.0,639.7 L865.0,639.8 L861.0,639.9 L857.0,639.9 L852.9,639.9 L848.9,640.0 L844.9,640.0 L840.9,640.0 L836.9,640.0 L832.9,640.0 L828.9,640.0 L824.9,640.0 L820.9,639.9 L816.9,639.9 L812.9,639.9 L808.9,639.8 L804.9,639.8 L800.8,639.7 L796.8,639.6 L792.8,639.6 L788.8,639.5 L784.8,639.4 L780.8,639.3 L776.8,639.2 L772.8,639.1 L768.8,639.0 L764.8,638.9 L760.8,638.7 L756.8,638.6 L752.8,638.5 L748.8,638.3 L744.8,638.2 L740.7,638.0 L736.7,637.9 L732.7,637.7 L728.7,637.5 L724.7,637.4 L720.7,637.2 L716.7,637.0 L712.7,636.8 L708.7,636.6 L704.7,636.4 L700.7,636.1 L696.7,635.9 L692.7,635.7 L688.7,635.5 L684.7,635.2 L680.7,635.0 L676.7,634.7 L672.7,634.4 L668.7,634.2 L664.7,633.9 L660.7,633.6 L656.7,633.3 L652.7,633.0 L648.7,632.7 L644.7,632.4 L640.7,632.1 L636.7,631.7 L632.8,631.4 L628.8,631.0 L624.8,630.7 L620.8,630.3 L616.8,629.9 L612.8,629.5 L608.8,629.1 L604.8,628.7 L600.8,628.3 L596.9,627.9 L592.9,627.4 L588.9,627.0 L584.9,626.5 L580.9,626.1 L576.9,625.6 L573.0,625.1 L569.0,624.7 L565.0,624.2 L561.0,623.7 L557.0,623.2 L553.1,622.7 L549.1,622.2 L545.1,621.7 L541.1,621.2 L537.2,620.6 L533.2,620.1 L529.2,619.6 L525.3,619.0 L521.3,618.4 L517.3,617.9 L513.4,617.3 L509.4,616.8 L505.4,616.2 L501.5,615.6 L497.5,615.0 L493.5,614.4 L489.6,613.8 L485.6,613.3 L481.6,612.7 L477.7,612.1 L473.7,611.5 L469.7,610.9 L465.8,610.3 L461.8,609.7 L457.8,609.1 L453.9,608.5 L449.9,607.9 L446.0,607.3 L442.0,606.8 L438.0,606.2 L434.0,605.7 L430.1,605.3 L426.1,604.8 L422.1,604.4 L418.1,604.0 L414.1,603.6 L410.1,603.2 L406.1,602.8 L402.2,602.4 L398.2,601.9 L394.2,601.4 L390.2,600.8 L386.3,600.2 L382.3,599.5 L378.4,598.6 L374.6,597.6 L370.7,596.4 L367.0,595.1 L363.3,593.5 L359.8,591.6 L356.4,589.5 L353.2,587.2 L350.2,584.6 L347.3,581.8 L344.5,578.9 L341.9,575.9 L339.4,572.8 L336.9,569.7 L334.4,566.6 L331.8,563.5 L329.3,560.4 L326.7,557.3 L324.1,554.3 L321.5,551.2 L319.0,548.1 L316.5,544.9 L314.1,541.7 L311.7,538.6 L309.3,535.3 L306.9,532.1 L304.5,528.9 L302.1,525.7 L299.7,522.4 L297.4,519.2 L295.0,516.0 L292.6,512.8 L290.2,509.6 L287.8,506.4 L285.3,503.2 L282.9,500.0 L280.5,496.8 L278.1,493.6 L275.7,490.4 L273.2,487.2 L270.9,484.0 L268.5,480.8 L266.1,477.5 L263.7,474.3 L261.4,471.0 L259.1,467.8 L256.8,464.5 L254.6,461.1 L252.5,457.7 L250.6,454.2 L248.9,450.6 L247.7,446.9 L247.2,443.2 L247.4,439.4 L248.2,435.6 L249.4,431.9 L250.0,430.0Z" fill="url(#perf)"/><path d="M1362.0,564.0 L1359.8,564.0 L1357.1,565.5 L1354.2,568.0 L1351.3,570.8 L1348.5,573.7 L1345.7,576.6 L1342.9,579.5 L1340.1,582.5 L1337.3,585.4 L1334.5,588.4 L1331.8,591.3 L1329.0,594.3 L1326.3,597.2 L1323.5,600.2 L1320.8,603.2 L1318.1,606.2 L1315.4,609.2 L1312.7,612.2 L1310.0,615.2 L1307.3,618.2 L1304.6,621.3 L1302.0,624.3 L1299.3,627.4 L1296.7,630.5 L1294.2,633.6 L1291.6,636.7 L1289.0,639.8 L1286.4,643.0 L1283.9,646.1 L1281.3,649.2 L1278.8,652.4 L1276.2,655.5 L1273.7,658.6 L1271.1,661.8 L1268.6,664.9 L1266.0,668.0 L1263.4,671.1 L1260.8,674.2 L1258.2,677.3 L1255.5,680.3 L1252.8,683.3 L1249.9,686.1 L1246.8,688.7 L1243.7,691.3 L1240.7,694.0 L1237.8,696.8 L1235.0,699.7 L1232.3,702.8 L1229.7,705.8 L1227.1,708.9 L1224.5,712.0 L1221.9,715.1 L1219.4,718.2 L1216.8,721.4 L1214.2,724.5 L1211.7,727.6 L1209.1,730.8 L1206.6,733.9 L1204.0,737.0 L1201.5,740.2 L1198.9,743.3 L1196.3,746.4 L1193.7,749.5 L1191.2,752.6 L1188.5,755.7 L1185.9,758.8 L1183.3,761.8 L1180.6,764.9 L1177.9,767.9 L1175.1,770.8 L1172.3,773.8 L1169.5,776.7 L1166.7,779.6 L1163.9,782.4 L1161.0,785.3 L1158.2,788.2 L1155.4,791.1 L1152.6,794.0 L1149.8,796.9 L1147.0,799.8 L1144.1,802.7 L1141.3,805.6 L1138.5,808.6 L1135.7,811.5 L1133.0,814.4 L1130.2,817.3 L1127.4,820.3 L1124.6,823.2 L1124.6,823.2 L1121.1,825.2 L1117.6,827.1 L1114.1,829.1 L1110.6,831.1 L1107.1,833.0 L1103.6,835.0 L1100.1,837.0 L1096.6,838.9 L1093.1,840.9 L1089.6,842.8 L1086.1,844.7 L1082.5,846.7 L1079.0,848.6 L1075.5,850.5 L1071.9,852.3 L1068.3,854.2 L1064.8,856.0 L1061.1,857.7 L1057.5,859.4 L1053.9,861.1 L1050.2,862.8 L1046.6,864.5 L1042.9,866.1 L1039.3,867.8 L1035.6,869.4 L1031.9,871.0 L1028.2,872.6 L1024.6,874.2 L1020.9,875.8 L1017.2,877.4 L1013.5,878.9 L1009.8,880.5 L1006.1,882.0 L1002.4,883.5 L998.6,885.0 L994.9,886.5 L991.2,887.9 L987.4,889.4 L983.7,890.8 L979.9,892.2 L976.2,893.7 L972.4,895.1 L968.6,896.5 L964.9,897.9 L961.2,899.4 L957.4,900.8 L953.7,902.3 L949.9,903.7 L946.2,905.2 L942.4,906.6 L938.7,908.1 L935.0,909.5 L931.2,911.0 L927.5,912.5 L923.7,913.9 L920.0,915.4 L916.3,916.8 L912.5,918.3 L908.8,919.7 L905.0,921.2 L901.3,922.6 L897.5,924.1 L893.8,925.5 L890.1,927.0 L886.3,928.4 L882.6,929.9 L878.9,931.4 L875.1,932.9 L871.4,934.3 L867.6,935.7 L863.9,937.1 L860.1,938.5 L856.3,939.8 L852.5,941.1 L848.7,942.3 L844.8,943.5 L841.0,944.6 L837.1,945.6 L833.2,946.6 L829.3,947.5 L825.4,948.4 L821.5,949.3 L817.6,950.1 L813.6,951.0 L809.7,951.9 L805.8,952.9 L801.9,953.8 L798.1,954.8 L794.2,955.8 L790.3,956.9 L786.4,957.9 L782.5,959.0 L778.7,960.0 L774.8,961.1 L770.9,962.1 L767.0,963.2 L763.2,964.2 L759.3,965.3 L755.4,966.3 L751.6,967.4 L747.7,968.4 L743.8,969.5 L739.9,970.5 L736.0,971.5 L732.2,972.5 L728.3,973.5 L724.4,974.5 L720.5,975.5 L716.6,976.4 L712.7,977.3 L708.7,978.1 L704.8,979.0 L700.9,979.8 L697.0,980.6 L693.0,981.4 L689.1,982.1 L685.1,982.8 L681.2,983.6 L677.2,984.3 L673.3,985.1 L669.4,985.8 L665.4,986.7 L661.5,987.5 L657.6,988.4 L653.7,989.2 L649.7,990.1 L645.8,991.0 L641.9,991.8 L638.0,992.6 L634.0,993.3 L630.1,994.0 L626.1,994.7 L622.1,995.3 L618.2,995.9 L614.2,996.5 L610.2,997.1 L606.3,997.7 L602.3,998.2 L598.3,998.8 L594.3,999.3 L590.4,999.8 L586.4,1000.3 L582.4,1000.9 L578.4,1001.4 L574.4,1001.9 L570.5,1002.4 L566.5,1002.9 L562.5,1003.4 L558.5,1003.9 L554.5,1004.4 L550.5,1004.9 L546.6,1005.4 L542.6,1005.9 L538.6,1006.4 L534.6,1006.9 L530.6,1007.4 L526.7,1007.9 L522.7,1008.4 L518.7,1008.9 L516.7,1009.2 L513.4,1006.9 L510.1,1004.6 L506.8,1002.2 L503.5,999.9 L500.2,997.6 L496.9,995.3 L493.7,993.0 L490.4,990.7 L487.1,988.3 L483.8,986.0 L480.5,983.7 L477.2,981.4 L473.9,979.1 L470.6,976.8 L467.3,974.4 L464.0,972.1 L460.7,969.8 L457.5,967.5 L454.2,965.1 L450.9,962.8 L447.6,960.5 L444.3,958.1 L441.1,955.8 L437.8,953.4 L434.6,951.0 L431.3,948.7 L428.1,946.3 L424.8,943.9 L421.6,941.5 L418.4,939.1 L415.1,936.7 L411.9,934.3 L408.7,931.9 L405.4,929.5 L402.2,927.1 L399.0,924.7 L395.7,922.3 L392.5,919.9 L389.2,917.5 L386.0,915.2 L382.7,912.8 L379.4,910.5 L376.2,908.1 L372.9,905.8 L369.6,903.5 L366.2,901.2 L362.9,899.0 L359.6,896.7 L356.3,894.4 L352.9,892.2 L349.6,889.9 L346.2,887.7 L342.9,885.5 L339.5,883.2 L336.2,881.0 L332.8,878.8 L329.5,876.6 L326.1,874.4 L322.7,872.2 L319.3,870.0 L316.0,867.8 L312.6,865.6 L309.2,863.4 L305.8,861.2 L302.4,859.1 L299.0,856.9 L295.6,854.8 L292.2,852.7 L288.8,850.6 L285.3,848.4 L281.9,846.3 L278.5,844.2 L275.0,842.1 L271.6,840.0 L268.2,837.9 L264.8,835.8 L261.4,833.6 L258.0,831.4 L254.7,829.1 L251.4,826.8 L248.2,824.3 L245.2,821.7 L242.2,819.1 L239.2,816.4 L237.7,815.0 L240.0,826.0 L241.6,827.1 L244.7,829.3 L248.0,831.5 L251.3,833.7 L254.7,835.9 L258.1,838.1 L261.5,840.3 L264.9,842.5 L268.3,844.7 L271.7,846.9 L275.1,849.0 L278.5,851.2 L281.9,853.4 L285.4,855.5 L288.8,857.7 L292.2,859.8 L295.6,862.0 L299.0,864.2 L302.4,866.3 L305.8,868.5 L309.2,870.7 L312.6,872.9 L316.0,875.0 L319.4,877.2 L322.8,879.4 L326.2,881.6 L329.6,883.8 L333.0,886.0 L336.4,888.2 L339.8,890.4 L343.2,892.6 L346.6,894.8 L349.9,897.0 L353.3,899.2 L356.7,901.5 L360.0,903.7 L363.4,906.0 L366.7,908.3 L370.0,910.6 L373.3,912.9 L376.6,915.2 L379.9,917.6 L383.1,920.0 L386.4,922.4 L389.6,924.9 L392.7,927.4 L395.9,930.0 L399.0,932.5 L402.1,935.1 L405.1,937.8 L408.2,940.4 L411.2,943.1 L414.3,945.8 L417.3,948.4 L420.3,951.1 L423.4,953.7 L426.5,956.3 L429.6,958.9 L432.7,961.5 L435.9,964.0 L439.1,966.5 L442.3,968.9 L445.5,971.3 L448.8,973.7 L452.1,976.0 L455.4,978.4 L458.7,980.7 L462.0,983.0 L465.3,985.3 L468.7,987.5 L472.0,989.8 L475.4,992.1 L478.7,994.3 L482.1,996.6 L485.4,998.8 L488.8,1001.1 L492.2,1003.3 L495.5,1005.5 L498.9,1007.8 L502.2,1010.0 L505.6,1012.3 L509.0,1014.5 L512.3,1016.8 L515.7,1019.0 L519.0,1021.3 L519.0,1021.3 L523.0,1020.8 L527.0,1020.2 L530.9,1019.7 L534.9,1019.1 L538.9,1018.6 L542.9,1018.1 L546.9,1017.5 L550.9,1017.0 L554.8,1016.5 L558.8,1015.9 L562.8,1015.4 L566.8,1014.9 L570.8,1014.4 L574.7,1013.8 L578.7,1013.3 L582.7,1012.7 L586.7,1012.2 L590.7,1011.6 L594.6,1011.1 L598.6,1010.5 L602.6,1010.0 L606.6,1009.4 L610.6,1008.8 L614.5,1008.2 L618.5,1007.6 L622.5,1007.0 L626.4,1006.3 L630.4,1005.6 L634.3,1004.9 L638.3,1004.1 L642.2,1003.3 L646.1,1002.5 L650.1,1001.7 L654.0,1000.8 L657.9,1000.0 L661.9,999.1 L665.8,998.4 L669.7,997.6 L673.7,996.9 L677.7,996.2 L681.6,995.6 L685.6,995.0 L689.6,994.4 L693.5,993.7 L697.5,993.1 L701.5,992.4 L705.4,991.7 L709.4,991.0 L713.3,990.2 L717.2,989.4 L721.2,988.5 L725.1,987.6 L729.0,986.7 L732.9,985.8 L736.8,984.8 L740.7,983.9 L744.6,982.9 L748.5,981.9 L752.4,981.0 L756.3,980.0 L760.2,979.0 L764.1,978.0 L768.0,977.0 L771.9,976.0 L775.7,975.0 L779.6,974.0 L783.5,973.0 L787.4,972.0 L791.3,971.0 L795.2,970.0 L799.1,969.0 L803.0,968.1 L806.9,967.1 L810.8,966.2 L814.7,965.3 L818.6,964.4 L822.6,963.5 L826.5,962.6 L830.4,961.6 L834.3,960.7 L838.2,959.7 L842.1,958.7 L845.9,957.6 L849.8,956.6 L853.7,955.4 L857.5,954.3 L861.4,953.1 L865.2,951.9 L869.0,950.7 L872.9,949.5 L876.7,948.3 L880.5,947.0 L884.3,945.7 L888.1,944.5 L891.9,943.2 L895.7,941.9 L899.5,940.6 L903.3,939.2 L907.1,937.9 L910.9,936.6 L914.7,935.2 L918.4,933.9 L922.2,932.5 L926.0,931.1 L929.8,929.7 L933.5,928.3 L937.3,927.0 L941.1,925.6 L944.8,924.2 L948.6,922.8 L952.4,921.4 L956.1,919.9 L959.9,918.5 L963.7,917.1 L967.4,915.7 L971.2,914.3 L974.9,912.9 L978.7,911.5 L982.5,910.0 L986.2,908.6 L989.9,907.1 L993.7,905.7 L997.4,904.2 L1001.2,902.7 L1004.9,901.2 L1008.6,899.7 L1012.3,898.2 L1016.0,896.6 L1019.7,895.1 L1023.5,893.6 L1027.2,892.0 L1030.9,890.4 L1034.6,888.8 L1038.2,887.3 L1041.9,885.7 L1045.6,884.1 L1049.3,882.5 L1053.0,880.8 L1056.6,879.2 L1060.3,877.5 L1063.9,875.8 L1067.6,874.1 L1071.2,872.4 L1074.8,870.6 L1078.4,868.8 L1081.9,866.9 L1085.5,865.1 L1089.0,863.2 L1092.6,861.3 L1096.1,859.3 L1099.6,857.3 L1103.1,855.3 L1106.5,853.3 L1110.1,851.4 L1113.6,849.5 L1117.1,847.6 L1120.7,845.7 L1124.3,843.9 L1127.8,842.1 L1131.4,840.2 L1135.0,838.4 L1135.0,838.4 L1137.6,835.3 L1140.2,832.3 L1142.9,829.2 L1145.5,826.1 L1148.1,823.1 L1150.7,820.0 L1153.3,817.0 L1156.0,813.9 L1158.6,810.8 L1161.2,807.8 L1163.8,804.7 L1166.5,801.7 L1169.1,798.6 L1171.7,795.6 L1174.4,792.5 L1177.0,789.4 L1179.6,786.4 L1182.2,783.3 L1184.9,780.3 L1187.5,777.2 L1190.1,774.2 L1192.8,771.1 L1195.4,768.0 L1198.0,765.0 L1200.6,761.9 L1203.2,758.8 L1205.8,755.7 L1208.4,752.7 L1211.0,749.6 L1213.6,746.5 L1216.2,743.4 L1218.8,740.3 L1221.3,737.2 L1223.9,734.1 L1226.5,731.0 L1229.1,727.9 L1231.7,724.9 L1234.3,721.8 L1236.9,718.7 L1239.5,715.6 L1242.1,712.5 L1244.7,709.4 L1247.3,706.4 L1249.9,703.3 L1252.5,700.2 L1255.2,697.2 L1257.9,694.2 L1260.7,691.3 L1263.5,688.4 L1266.3,685.5 L1268.9,682.5 L1271.6,679.4 L1274.1,676.3 L1276.7,673.2 L1279.2,670.1 L1281.8,667.0 L1284.3,663.8 L1286.8,660.7 L1289.4,657.5 L1291.9,654.4 L1294.4,651.2 L1296.9,648.1 L1299.4,645.0 L1302.0,641.8 L1304.5,638.7 L1307.0,635.5 L1309.6,632.4 L1312.1,629.3 L1314.6,626.1 L1317.2,623.0 L1319.7,619.9 L1322.3,616.8 L1324.8,613.6 L1327.4,610.5 L1329.9,607.4 L1332.5,604.3 L1335.1,601.2 L1337.7,598.1 L1340.2,595.0 L1342.8,591.9 L1345.4,588.8 L1348.0,585.7 L1350.5,582.6 L1353.1,579.5 L1355.7,576.4 L1358.3,573.3 L1360.9,570.2 L1363.4,567.1 L1366.0,564.0Z" fill="#eeeeee"/><path d="M237.7,798.8 L240.6,796.0 L243.6,793.4 L246.7,791.0 L250.1,789.0 L253.7,787.6 L257.5,786.9 L261.4,786.8 L265.2,787.3 L269.1,788.2 L272.9,789.4 L276.7,790.5 L280.6,791.6 L284.5,792.6 L288.4,793.5 L292.3,794.3 L296.3,795.2 L300.2,796.0 L304.1,796.7 L308.1,797.5 L312.0,798.2 L316.0,798.9 L319.9,799.5 L323.9,800.1 L327.9,800.6 L331.9,801.1 L335.9,801.5 L339.9,801.9 L343.8,802.3 L347.8,802.7 L351.8,803.0 L355.8,803.3 L359.8,803.6 L363.9,803.9 L367.9,804.1 L371.9,804.4 L375.9,804.6 L379.9,804.8 L383.9,804.9 L387.9,805.1 L391.9,805.2 L395.9,805.3 L399.9,805.4 L403.9,805.5 L408.0,805.5 L412.0,805.4 L416.0,805.4 L420.0,805.3 L424.0,805.2 L428.0,805.1 L432.0,805.0 L436.0,804.9 L440.1,804.8 L444.1,804.6 L448.1,804.5 L452.1,804.4 L456.1,804.2 L460.1,804.1 L464.1,804.0 L468.1,803.9 L472.1,803.8 L476.2,803.7 L480.2,803.7 L484.2,803.6 L488.2,803.4 L492.2,803.3 L496.2,803.1 L500.2,803.0 L504.2,802.8 L508.2,802.6 L512.3,802.4 L516.3,802.2 L520.3,802.0 L524.3,801.8 L528.3,801.6 L532.3,801.4 L536.3,801.1 L540.3,800.9 L544.3,800.7 L548.3,800.4 L552.3,800.1 L556.3,799.9 L560.3,799.6 L564.3,799.3 L568.3,798.9 L572.3,798.6 L576.3,798.3 L580.3,798.0 L584.3,797.6 L588.3,797.3 L592.3,796.9 L596.3,796.5 L600.3,796.1 L604.3,795.7 L608.3,795.3 L612.3,794.9 L616.3,794.4 L620.3,793.9 L624.2,793.4 L628.2,792.9 L632.2,792.3 L636.2,791.7 L640.1,791.1 L644.1,790.5 L648.0,789.9 L652.0,789.2 L656.0,788.6 L659.9,788.0 L663.9,787.4 L667.9,786.8 L671.9,786.3 L675.8,785.8 L679.8,785.3 L683.8,784.9 L687.8,784.5 L691.8,784.1 L695.8,783.7 L699.8,783.3 L703.8,782.8 L707.8,782.4 L711.8,781.9 L715.7,781.4 L719.7,780.9 L723.7,780.3 L727.6,779.6 L731.6,779.0 L735.5,778.3 L739.5,777.5 L743.4,776.7 L747.4,775.9 L751.3,775.1 L755.2,774.3 L759.1,773.4 L763.0,772.5 L767.0,771.6 L770.9,770.7 L774.8,769.8 L778.7,768.9 L782.6,768.0 L786.5,767.1 L790.4,766.2 L794.3,765.3 L798.2,764.4 L802.2,763.5 L806.1,762.6 L810.0,761.7 L813.9,760.8 L817.8,759.9 L821.7,758.9 L825.6,758.0 L829.5,757.1 L833.4,756.1 L837.3,755.2 L841.2,754.2 L845.1,753.3 L849.0,752.4 L852.9,751.4 L856.8,750.5 L860.7,749.5 L864.6,748.6 L868.5,747.7 L872.4,746.7 L876.3,745.8 L880.2,744.9 L884.1,743.9 L888.0,743.0 L891.9,742.1 L895.8,741.1 L899.7,740.2 L903.6,739.3 L907.5,738.3 L911.4,737.4 L915.3,736.4 L919.2,735.5 L923.1,734.5 L927.0,733.6 L930.9,732.6 L934.8,731.7 L938.7,730.7 L942.6,729.7 L946.5,728.8 L950.4,727.8 L954.3,726.8 L958.2,725.8 L962.1,724.8 L966.0,723.9 L969.9,722.9 L973.8,721.9 L977.7,720.9 L981.6,720.0 L985.4,719.0 L989.3,718.0 L993.2,717.0 L997.1,716.0 L1001.0,714.9 L1004.9,713.9 L1008.7,712.9 L1012.6,711.8 L1016.5,710.7 L1020.3,709.6 L1024.2,708.4 L1028.0,707.3 L1031.8,706.1 L1035.7,704.9 L1039.5,703.6 L1043.3,702.3 L1047.1,701.0 L1050.9,699.7 L1054.6,698.3 L1058.4,696.9 L1062.2,695.5 L1065.9,694.1 L1069.6,692.7 L1073.4,691.2 L1077.1,689.7 L1080.8,688.2 L1084.6,686.7 L1088.3,685.2 L1092.0,683.7 L1095.7,682.2 L1099.4,680.7 L1103.1,679.1 L1106.8,677.6 L1110.6,676.0 L1114.2,674.5 L1117.9,672.9 L1121.6,671.3 L1125.3,669.7 L1128.9,668.0 L1132.6,666.4 L1136.3,664.8 L1139.9,663.1 L1143.6,661.5 L1147.3,659.8 L1150.9,658.2 L1154.6,656.6 L1158.3,654.9 L1161.9,653.4 L1165.6,651.8 L1169.3,650.2 L1173.1,648.7 L1176.8,647.3 L1180.6,645.9 L1184.3,644.5 L1188.1,643.2 L1192.0,642.0 L1195.8,640.9 L1199.7,639.8 L1203.5,638.7 L1207.4,637.7 L1211.3,636.7 L1215.2,635.7 L1219.1,634.7 L1223.0,633.7 L1226.8,632.6 L1230.7,631.4 L1234.5,630.3 L1238.3,629.0 L1242.1,627.8 L1246.0,626.6 L1249.8,625.4 L1253.6,624.1 L1257.4,622.9 L1261.2,621.6 L1265.0,620.3 L1268.8,618.9 L1272.5,617.4 L1276.2,615.9 L1279.9,614.3 L1283.5,612.6 L1287.1,610.8 L1290.6,608.9 L1294.1,606.9 L1297.6,604.9 L1301.0,602.7 L1304.4,600.6 L1307.7,598.3 L1311.0,596.1 L1314.3,593.8 L1317.6,591.5 L1320.8,589.1 L1324.1,586.8 L1327.3,584.4 L1330.6,582.0 L1333.8,579.7 L1337.1,577.3 L1340.3,574.9 L1343.6,572.6 L1346.8,570.3 L1350.2,568.2 L1353.6,566.3 L1357.0,565.0 L1360.3,564.2 L1362.0,564.0 L1359.8,564.0 L1357.1,565.5 L1354.2,568.0 L1351.3,570.8 L1348.5,573.7 L1345.7,576.6 L1342.9,579.5 L1340.1,582.5 L1337.3,585.4 L1334.5,588.4 L1331.8,591.3 L1329.0,594.3 L1326.3,597.2 L1323.5,600.2 L1320.8,603.2 L1318.1,606.2 L1315.4,609.2 L1312.7,612.2 L1310.0,615.2 L1307.3,618.2 L1304.6,621.3 L1302.0,624.3 L1299.3,627.4 L1296.7,630.5 L1294.2,633.6 L1291.6,636.7 L1289.0,639.8 L1286.4,643.0 L1283.9,646.1 L1281.3,649.2 L1278.8,652.4 L1276.2,655.5 L1273.7,658.6 L1271.1,661.8 L1268.6,664.9 L1266.0,668.0 L1263.4,671.1 L1260.8,674.2 L1258.2,677.3 L1255.5,680.3 L1252.8,683.3 L1249.9,686.1 L1246.8,688.7 L1243.7,691.3 L1240.7,694.0 L1237.8,696.8 L1235.0,699.7 L1232.3,702.8 L1229.7,705.8 L1227.1,708.9 L1224.5,712.0 L1221.9,715.1 L1219.4,718.2 L1216.8,721.4 L1214.2,724.5 L1211.7,727.6 L1209.1,730.8 L1206.6,733.9 L1204.0,737.0 L1201.5,740.2 L1198.9,743.3 L1196.3,746.4 L1193.7,749.5 L1191.2,752.6 L1188.5,755.7 L1185.9,758.8 L1183.3,761.8 L1180.6,764.9 L1177.9,767.9 L1175.1,770.8 L1172.3,773.8 L1169.5,776.7 L1166.7,779.6 L1163.9,782.4 L1161.0,785.3 L1158.2,788.2 L1155.4,791.1 L1152.6,794.0 L1149.8,796.9 L1147.0,799.8 L1144.1,802.7 L1141.3,805.6 L1138.5,808.6 L1135.7,811.5 L1133.0,814.4 L1130.2,817.3 L1127.4,820.3 L1124.6,823.2 L1124.6,823.2 L1121.1,825.2 L1117.6,827.1 L1114.1,829.1 L1110.6,831.1 L1107.1,833.0 L1103.6,835.0 L1100.1,837.0 L1096.6,838.9 L1093.1,840.9 L1089.6,842.8 L1086.1,844.7 L1082.5,846.7 L1079.0,848.6 L1075.5,850.5 L1071.9,852.3 L1068.3,854.2 L1064.8,856.0 L1061.1,857.7 L1057.5,859.4 L1053.9,861.1 L1050.2,862.8 L1046.6,864.5 L1042.9,866.1 L1039.3,867.8 L1035.6,869.4 L1031.9,871.0 L1028.2,872.6 L1024.6,874.2 L1020.9,875.8 L1017.2,877.4 L1013.5,878.9 L1009.8,880.5 L1006.1,882.0 L1002.4,883.5 L998.6,885.0 L994.9,886.5 L991.2,887.9 L987.4,889.4 L983.7,890.8 L979.9,892.2 L976.2,893.7 L972.4,895.1 L968.6,896.5 L964.9,897.9 L961.2,899.4 L957.4,900.8 L953.7,902.3 L949.9,903.7 L946.2,905.2 L942.4,906.6 L938.7,908.1 L935.0,909.5 L931.2,911.0 L927.5,912.5 L923.7,913.9 L920.0,915.4 L916.3,916.8 L912.5,918.3 L908.8,919.7 L905.0,921.2 L901.3,922.6 L897.5,924.1 L893.8,925.5 L890.1,927.0 L886.3,928.4 L882.6,929.9 L878.9,931.4 L875.1,932.9 L871.4,934.3 L867.6,935.7 L863.9,937.1 L860.1,938.5 L856.3,939.8 L852.5,941.1 L848.7,942.3 L844.8,943.5 L841.0,944.6 L837.1,945.6 L833.2,946.6 L829.3,947.5 L825.4,948.4 L821.5,949.3 L817.6,950.1 L813.6,951.0 L809.7,951.9 L805.8,952.9 L801.9,953.8 L798.1,954.8 L794.2,955.8 L790.3,956.9 L786.4,957.9 L782.5,959.0 L778.7,960.0 L774.8,961.1 L770.9,962.1 L767.0,963.2 L763.2,964.2 L759.3,965.3 L755.4,966.3 L751.6,967.4 L747.7,968.4 L743.8,969.5 L739.9,970.5 L736.0,971.5 L732.2,972.5 L728.3,973.5 L724.4,974.5 L720.5,975.5 L716.6,976.4 L712.7,977.3 L708.7,978.1 L704.8,979.0 L700.9,979.8 L697.0,980.6 L693.0,981.4 L689.1,982.1 L685.1,982.8 L681.2,983.6 L677.2,984.3 L673.3,985.1 L669.4,985.8 L665.4,986.7 L661.5,987.5 L657.6,988.4 L653.7,989.2 L649.7,990.1 L645.8,991.0 L641.9,991.8 L638.0,992.6 L634.0,993.3 L630.1,994.0 L626.1,994.7 L622.1,995.3 L618.2,995.9 L614.2,996.5 L610.2,997.1 L606.3,997.7 L602.3,998.2 L598.3,998.8 L594.3,999.3 L590.4,999.8 L586.4,1000.3 L582.4,1000.9 L578.4,1001.4 L574.4,1001.9 L570.5,1002.4 L566.5,1002.9 L562.5,1003.4 L558.5,1003.9 L554.5,1004.4 L550.5,1004.9 L546.6,1005.4 L542.6,1005.9 L538.6,1006.4 L534.6,1006.9 L530.6,1007.4 L526.7,1007.9 L522.7,1008.4 L518.7,1008.9 L516.7,1009.2 L513.4,1006.9 L510.1,1004.6 L506.8,1002.2 L503.5,999.9 L500.2,997.6 L496.9,995.3 L493.7,993.0 L490.4,990.7 L487.1,988.3 L483.8,986.0 L480.5,983.7 L477.2,981.4 L473.9,979.1 L470.6,976.8 L467.3,974.4 L464.0,972.1 L460.7,969.8 L457.5,967.5 L454.2,965.1 L450.9,962.8 L447.6,960.5 L444.3,958.1 L441.1,955.8 L437.8,953.4 L434.6,951.0 L431.3,948.7 L428.1,946.3 L424.8,943.9 L421.6,941.5 L418.4,939.1 L415.1,936.7 L411.9,934.3 L408.7,931.9 L405.4,929.5 L402.2,927.1 L399.0,924.7 L395.7,922.3 L392.5,919.9 L389.2,917.5 L386.0,915.2 L382.7,912.8 L379.4,910.5 L376.2,908.1 L372.9,905.8 L369.6,903.5 L366.2,901.2 L362.9,899.0 L359.6,896.7 L356.3,894.4 L352.9,892.2 L349.6,889.9 L346.2,887.7 L342.9,885.5 L339.5,883.2 L336.2,881.0 L332.8,878.8 L329.5,876.6 L326.1,874.4 L322.7,872.2 L319.3,870.0 L316.0,867.8 L312.6,865.6 L309.2,863.4 L305.8,861.2 L302.4,859.1 L299.0,856.9 L295.6,854.8 L292.2,852.7 L288.8,850.6 L285.3,848.4 L281.9,846.3 L278.5,844.2 L275.0,842.1 L271.6,840.0 L268.2,837.9 L264.8,835.8 L261.4,833.6 L258.0,831.4 L254.7,829.1 L251.4,826.8 L248.2,824.3 L245.2,821.7 L242.2,819.1 L239.2,816.4 L237.7,815.0Z" fill="url(#qt)"/><linearGradient id="g5" gradientUnits="userSpaceOnUse" x1="700" y1="900" x2="1340" y2="600"><stop offset="0" stop-color="#000" stop-opacity="0"/><stop offset="0.6" stop-color="#000" stop-opacity="0"/><stop offset="1" stop-color="#5a4a2a" stop-opacity="0.18"/></linearGradient><path d="M237.7,798.8 L240.6,796.0 L243.6,793.4 L246.7,791.0 L250.1,789.0 L253.7,787.6 L257.5,786.9 L261.4,786.8 L265.2,787.3 L269.1,788.2 L272.9,789.4 L276.7,790.5 L280.6,791.6 L284.5,792.6 L288.4,793.5 L292.3,794.3 L296.3,795.2 L300.2,796.0 L304.1,796.7 L308.1,797.5 L312.0,798.2 L316.0,798.9 L319.9,799.5 L323.9,800.1 L327.9,800.6 L331.9,801.1 L335.9,801.5 L339.9,801.9 L343.8,802.3 L347.8,802.7 L351.8,803.0 L355.8,803.3 L359.8,803.6 L363.9,803.9 L367.9,804.1 L371.9,804.4 L375.9,804.6 L379.9,804.8 L383.9,804.9 L387.9,805.1 L391.9,805.2 L395.9,805.3 L399.9,805.4 L403.9,805.5 L408.0,805.5 L412.0,805.4 L416.0,805.4 L420.0,805.3 L424.0,805.2 L428.0,805.1 L432.0,805.0 L436.0,804.9 L440.1,804.8 L444.1,804.6 L448.1,804.5 L452.1,804.4 L456.1,804.2 L460.1,804.1 L464.1,804.0 L468.1,803.9 L472.1,803.8 L476.2,803.7 L480.2,803.7 L484.2,803.6 L488.2,803.4 L492.2,803.3 L496.2,803.1 L500.2,803.0 L504.2,802.8 L508.2,802.6 L512.3,802.4 L516.3,802.2 L520.3,802.0 L524.3,801.8 L528.3,801.6 L532.3,801.4 L536.3,801.1 L540.3,800.9 L544.3,800.7 L548.3,800.4 L552.3,800.1 L556.3,799.9 L560.3,799.6 L564.3,799.3 L568.3,798.9 L572.3,798.6 L576.3,798.3 L580.3,798.0 L584.3,797.6 L588.3,797.3 L592.3,796.9 L596.3,796.5 L600.3,796.1 L604.3,795.7 L608.3,795.3 L612.3,794.9 L616.3,794.4 L620.3,793.9 L624.2,793.4 L628.2,792.9 L632.2,792.3 L636.2,791.7 L640.1,791.1 L644.1,790.5 L648.0,789.9 L652.0,789.2 L656.0,788.6 L659.9,788.0 L663.9,787.4 L667.9,786.8 L671.9,786.3 L675.8,785.8 L679.8,785.3 L683.8,784.9 L687.8,784.5 L691.8,784.1 L695.8,783.7 L699.8,783.3 L703.8,782.8 L707.8,782.4 L711.8,781.9 L715.7,781.4 L719.7,780.9 L723.7,780.3 L727.6,779.6 L731.6,779.0 L735.5,778.3 L739.5,777.5 L743.4,776.7 L747.4,775.9 L751.3,775.1 L755.2,774.3 L759.1,773.4 L763.0,772.5 L767.0,771.6 L770.9,770.7 L774.8,769.8 L778.7,768.9 L782.6,768.0 L786.5,767.1 L790.4,766.2 L794.3,765.3 L798.2,764.4 L802.2,763.5 L806.1,762.6 L810.0,761.7 L813.9,760.8 L817.8,759.9 L821.7,758.9 L825.6,758.0 L829.5,757.1 L833.4,756.1 L837.3,755.2 L841.2,754.2 L845.1,753.3 L849.0,752.4 L852.9,751.4 L856.8,750.5 L860.7,749.5 L864.6,748.6 L868.5,747.7 L872.4,746.7 L876.3,745.8 L880.2,744.9 L884.1,743.9 L888.0,743.0 L891.9,742.1 L895.8,741.1 L899.7,740.2 L903.6,739.3 L907.5,738.3 L911.4,737.4 L915.3,736.4 L919.2,735.5 L923.1,734.5 L927.0,733.6 L930.9,732.6 L934.8,731.7 L938.7,730.7 L942.6,729.7 L946.5,728.8 L950.4,727.8 L954.3,726.8 L958.2,725.8 L962.1,724.8 L966.0,723.9 L969.9,722.9 L973.8,721.9 L977.7,720.9 L981.6,720.0 L985.4,719.0 L989.3,718.0 L993.2,717.0 L997.1,716.0 L1001.0,714.9 L1004.9,713.9 L1008.7,712.9 L1012.6,711.8 L1016.5,710.7 L1020.3,709.6 L1024.2,708.4 L1028.0,707.3 L1031.8,706.1 L1035.7,704.9 L1039.5,703.6 L1043.3,702.3 L1047.1,701.0 L1050.9,699.7 L1054.6,698.3 L1058.4,696.9 L1062.2,695.5 L1065.9,694.1 L1069.6,692.7 L1073.4,691.2 L1077.1,689.7 L1080.8,688.2 L1084.6,686.7 L1088.3,685.2 L1092.0,683.7 L1095.7,682.2 L1099.4,680.7 L1103.1,679.1 L1106.8,677.6 L1110.6,676.0 L1114.2,674.5 L1117.9,672.9 L1121.6,671.3 L1125.3,669.7 L1128.9,668.0 L1132.6,666.4 L1136.3,664.8 L1139.9,663.1 L1143.6,661.5 L1147.3,659.8 L1150.9,658.2 L1154.6,656.6 L1158.3,654.9 L1161.9,653.4 L1165.6,651.8 L1169.3,650.2 L1173.1,648.7 L1176.8,647.3 L1180.6,645.9 L1184.3,644.5 L1188.1,643.2 L1192.0,642.0 L1195.8,640.9 L1199.7,639.8 L1203.5,638.7 L1207.4,637.7 L1211.3,636.7 L1215.2,635.7 L1219.1,634.7 L1223.0,633.7 L1226.8,632.6 L1230.7,631.4 L1234.5,630.3 L1238.3,629.0 L1242.1,627.8 L1246.0,626.6 L1249.8,625.4 L1253.6,624.1 L1257.4,622.9 L1261.2,621.6 L1265.0,620.3 L1268.8,618.9 L1272.5,617.4 L1276.2,615.9 L1279.9,614.3 L1283.5,612.6 L1287.1,610.8 L1290.6,608.9 L1294.1,606.9 L1297.6,604.9 L1301.0,602.7 L1304.4,600.6 L1307.7,598.3 L1311.0,596.1 L1314.3,593.8 L1317.6,591.5 L1320.8,589.1 L1324.1,586.8 L1327.3,584.4 L1330.6,582.0 L1333.8,579.7 L1337.1,577.3 L1340.3,574.9 L1343.6,572.6 L1346.8,570.3 L1350.2,568.2 L1353.6,566.3 L1357.0,565.0 L1360.3,564.2 L1362.0,564.0 L1359.8,564.0 L1357.1,565.5 L1354.2,568.0 L1351.3,570.8 L1348.5,573.7 L1345.7,576.6 L1342.9,579.5 L1340.1,582.5 L1337.3,585.4 L1334.5,588.4 L1331.8,591.3 L1329.0,594.3 L1326.3,597.2 L1323.5,600.2 L1320.8,603.2 L1318.1,606.2 L1315.4,609.2 L1312.7,612.2 L1310.0,615.2 L1307.3,618.2 L1304.6,621.3 L1302.0,624.3 L1299.3,627.4 L1296.7,630.5 L1294.2,633.6 L1291.6,636.7 L1289.0,639.8 L1286.4,643.0 L1283.9,646.1 L1281.3,649.2 L1278.8,652.4 L1276.2,655.5 L1273.7,658.6 L1271.1,661.8 L1268.6,664.9 L1266.0,668.0 L1263.4,671.1 L1260.8,674.2 L1258.2,677.3 L1255.5,680.3 L1252.8,683.3 L1249.9,686.1 L1246.8,688.7 L1243.7,691.3 L1240.7,694.0 L1237.8,696.8 L1235.0,699.7 L1232.3,702.8 L1229.7,705.8 L1227.1,708.9 L1224.5,712.0 L1221.9,715.1 L1219.4,718.2 L1216.8,721.4 L1214.2,724.5 L1211.7,727.6 L1209.1,730.8 L1206.6,733.9 L1204.0,737.0 L1201.5,740.2 L1198.9,743.3 L1196.3,746.4 L1193.7,749.5 L1191.2,752.6 L1188.5,755.7 L1185.9,758.8 L1183.3,761.8 L1180.6,764.9 L1177.9,767.9 L1175.1,770.8 L1172.3,773.8 L1169.5,776.7 L1166.7,779.6 L1163.9,782.4 L1161.0,785.3 L1158.2,788.2 L1155.4,791.1 L1152.6,794.0 L1149.8,796.9 L1147.0,799.8 L1144.1,802.7 L1141.3,805.6 L1138.5,808.6 L1135.7,811.5 L1133.0,814.4 L1130.2,817.3 L1127.4,820.3 L1124.6,823.2 L1124.6,823.2 L1121.1,825.2 L1117.6,827.1 L1114.1,829.1 L1110.6,831.1 L1107.1,833.0 L1103.6,835.0 L1100.1,837.0 L1096.6,838.9 L1093.1,840.9 L1089.6,842.8 L1086.1,844.7 L1082.5,846.7 L1079.0,848.6 L1075.5,850.5 L1071.9,852.3 L1068.3,854.2 L1064.8,856.0 L1061.1,857.7 L1057.5,859.4 L1053.9,861.1 L1050.2,862.8 L1046.6,864.5 L1042.9,866.1 L1039.3,867.8 L1035.6,869.4 L1031.9,871.0 L1028.2,872.6 L1024.6,874.2 L1020.9,875.8 L1017.2,877.4 L1013.5,878.9 L1009.8,880.5 L1006.1,882.0 L1002.4,883.5 L998.6,885.0 L994.9,886.5 L991.2,887.9 L987.4,889.4 L983.7,890.8 L979.9,892.2 L976.2,893.7 L972.4,895.1 L968.6,896.5 L964.9,897.9 L961.2,899.4 L957.4,900.8 L953.7,902.3 L949.9,903.7 L946.2,905.2 L942.4,906.6 L938.7,908.1 L935.0,909.5 L931.2,911.0 L927.5,912.5 L923.7,913.9 L920.0,915.4 L916.3,916.8 L912.5,918.3 L908.8,919.7 L905.0,921.2 L901.3,922.6 L897.5,924.1 L893.8,925.5 L890.1,927.0 L886.3,928.4 L882.6,929.9 L878.9,931.4 L875.1,932.9 L871.4,934.3 L867.6,935.7 L863.9,937.1 L860.1,938.5 L856.3,939.8 L852.5,941.1 L848.7,942.3 L844.8,943.5 L841.0,944.6 L837.1,945.6 L833.2,946.6 L829.3,947.5 L825.4,948.4 L821.5,949.3 L817.6,950.1 L813.6,951.0 L809.7,951.9 L805.8,952.9 L801.9,953.8 L798.1,954.8 L794.2,955.8 L790.3,956.9 L786.4,957.9 L782.5,959.0 L778.7,960.0 L774.8,961.1 L770.9,962.1 L767.0,963.2 L763.2,964.2 L759.3,965.3 L755.4,966.3 L751.6,967.4 L747.7,968.4 L743.8,969.5 L739.9,970.5 L736.0,971.5 L732.2,972.5 L728.3,973.5 L724.4,974.5 L720.5,975.5 L716.6,976.4 L712.7,977.3 L708.7,978.1 L704.8,979.0 L700.9,979.8 L697.0,980.6 L693.0,981.4 L689.1,982.1 L685.1,982.8 L681.2,983.6 L677.2,984.3 L673.3,985.1 L669.4,985.8 L665.4,986.7 L661.5,987.5 L657.6,988.4 L653.7,989.2 L649.7,990.1 L645.8,991.0 L641.9,991.8 L638.0,992.6 L634.0,993.3 L630.1,994.0 L626.1,994.7 L622.1,995.3 L618.2,995.9 L614.2,996.5 L610.2,997.1 L606.3,997.7 L602.3,998.2 L598.3,998.8 L594.3,999.3 L590.4,999.8 L586.4,1000.3 L582.4,1000.9 L578.4,1001.4 L574.4,1001.9 L570.5,1002.4 L566.5,1002.9 L562.5,1003.4 L558.5,1003.9 L554.5,1004.4 L550.5,1004.9 L546.6,1005.4 L542.6,1005.9 L538.6,1006.4 L534.6,1006.9 L530.6,1007.4 L526.7,1007.9 L522.7,1008.4 L518.7,1008.9 L516.7,1009.2 L513.4,1006.9 L510.1,1004.6 L506.8,1002.2 L503.5,999.9 L500.2,997.6 L496.9,995.3 L493.7,993.0 L490.4,990.7 L487.1,988.3 L483.8,986.0 L480.5,983.7 L477.2,981.4 L473.9,979.1 L470.6,976.8 L467.3,974.4 L464.0,972.1 L460.7,969.8 L457.5,967.5 L454.2,965.1 L450.9,962.8 L447.6,960.5 L444.3,958.1 L441.1,955.8 L437.8,953.4 L434.6,951.0 L431.3,948.7 L428.1,946.3 L424.8,943.9 L421.6,941.5 L418.4,939.1 L415.1,936.7 L411.9,934.3 L408.7,931.9 L405.4,929.5 L402.2,927.1 L399.0,924.7 L395.7,922.3 L392.5,919.9 L389.2,917.5 L386.0,915.2 L382.7,912.8 L379.4,910.5 L376.2,908.1 L372.9,905.8 L369.6,903.5 L366.2,901.2 L362.9,899.0 L359.6,896.7 L356.3,894.4 L352.9,892.2 L349.6,889.9 L346.2,887.7 L342.9,885.5 L339.5,883.2 L336.2,881.0 L332.8,878.8 L329.5,876.6 L326.1,874.4 L322.7,872.2 L319.3,870.0 L316.0,867.8 L312.6,865.6 L309.2,863.4 L305.8,861.2 L302.4,859.1 L299.0,856.9 L295.6,854.8 L292.2,852.7 L288.8,850.6 L285.3,848.4 L281.9,846.3 L278.5,844.2 L275.0,842.1 L271.6,840.0 L268.2,837.9 L264.8,835.8 L261.4,833.6 L258.0,831.4 L254.7,829.1 L251.4,826.8 L248.2,824.3 L245.2,821.7 L242.2,819.1 L239.2,816.4 L237.7,815.0Z" fill="url(#g5)"/><linearGradient id="g4b" gradientUnits="userSpaceOnUse" x1="260" y1="700" x2="1370" y2="560"><stop offset="0" stop-color="#c9d5e3"/><stop offset="0.55" stop-color="#cdd8e5"/><stop offset="0.8" stop-color="#e4ebf3"/><stop offset="1" stop-color="#e8eef5"/></linearGradient><path d="M252.0,597.0 L255.9,596.9 L259.7,597.0 L263.6,597.6 L267.3,598.5 L271.1,599.7 L274.8,601.1 L278.5,602.6 L282.2,604.2 L285.9,605.8 L289.5,607.5 L293.2,609.1 L296.9,610.7 L300.6,612.2 L304.3,613.8 L308.0,615.3 L311.7,616.7 L315.5,618.2 L319.2,619.6 L323.0,621.0 L326.7,622.3 L330.5,623.7 L334.3,625.1 L338.0,626.4 L341.8,627.8 L345.6,629.1 L349.4,630.4 L353.2,631.7 L357.0,633.0 L360.8,634.3 L364.6,635.5 L368.4,636.8 L372.2,638.0 L376.0,639.2 L379.9,640.4 L383.7,641.5 L387.6,642.6 L391.4,643.7 L395.3,644.7 L399.2,645.7 L403.1,646.6 L407.0,647.5 L410.9,648.3 L414.8,649.1 L418.8,649.9 L422.7,650.6 L426.7,651.3 L430.6,651.9 L434.6,652.5 L438.5,653.1 L442.5,653.7 L446.5,654.3 L450.4,654.8 L454.4,655.4 L458.4,655.9 L462.4,656.4 L466.3,657.0 L470.3,657.6 L474.3,658.2 L478.2,658.8 L482.2,659.4 L486.1,660.1 L490.1,660.9 L494.0,661.6 L497.9,662.4 L501.9,663.1 L505.8,663.8 L509.8,664.5 L513.7,665.1 L517.7,665.6 L521.7,666.0 L525.7,666.3 L529.7,666.6 L533.7,666.9 L537.7,667.0 L541.7,667.2 L545.7,667.3 L549.7,667.4 L553.7,667.5 L557.7,667.6 L561.7,667.8 L565.7,667.9 L569.7,668.1 L573.7,668.3 L577.7,668.5 L581.7,668.7 L585.7,668.9 L589.7,669.1 L593.7,669.3 L597.7,669.5 L601.7,669.7 L605.7,669.9 L609.7,670.1 L613.7,670.3 L617.7,670.5 L621.7,670.7 L625.7,670.9 L629.8,671.1 L633.8,671.2 L637.8,671.4 L641.8,671.5 L645.8,671.6 L649.8,671.6 L653.8,671.6 L657.8,671.6 L661.8,671.5 L665.8,671.4 L669.8,671.3 L673.8,671.2 L677.8,671.2 L681.8,671.1 L685.8,671.1 L689.9,671.0 L693.9,671.0 L697.9,670.9 L701.9,670.8 L705.9,670.8 L709.9,670.7 L713.9,670.6 L717.9,670.5 L721.9,670.4 L725.9,670.2 L729.9,670.0 L733.9,669.9 L737.9,669.7 L741.9,669.5 L745.9,669.2 L749.9,669.0 L753.9,668.8 L757.9,668.5 L761.9,668.3 L765.9,668.0 L769.9,667.7 L773.9,667.5 L777.9,667.2 L781.9,666.9 L785.9,666.6 L789.9,666.3 L793.9,666.0 L797.9,665.7 L801.9,665.4 L805.9,665.1 L809.9,664.8 L813.9,664.4 L817.9,664.1 L821.9,663.7 L825.9,663.4 L829.9,663.0 L833.9,662.6 L837.8,662.2 L841.8,661.8 L845.8,661.4 L849.8,661.0 L853.8,660.5 L857.8,660.1 L861.8,659.6 L865.7,659.2 L869.7,658.7 L873.7,658.2 L877.7,657.7 L881.6,657.2 L885.6,656.7 L889.6,656.2 L893.6,655.7 L897.5,655.2 L901.5,654.6 L905.5,654.1 L909.5,653.6 L913.4,653.1 L917.4,652.5 L921.4,652.0 L925.4,651.5 L929.3,651.0 L933.3,650.4 L937.3,649.9 L941.3,649.4 L945.2,648.9 L949.2,648.4 L953.2,647.8 L957.2,647.3 L961.1,646.8 L965.1,646.2 L969.1,645.7 L973.0,645.1 L977.0,644.6 L981.0,644.0 L984.9,643.5 L988.9,643.0 L992.9,642.4 L996.9,641.9 L1000.8,641.4 L1004.8,640.9 L1008.8,640.4 L1012.8,640.0 L1016.8,639.5 L1020.7,639.0 L1024.7,638.6 L1028.7,638.1 L1032.7,637.7 L1036.7,637.2 L1040.7,636.8 L1044.6,636.3 L1048.6,635.8 L1052.6,635.4 L1056.6,634.9 L1060.6,634.4 L1064.5,633.9 L1068.5,633.4 L1072.5,632.9 L1076.5,632.4 L1080.4,631.9 L1084.4,631.3 L1088.4,630.8 L1092.3,630.2 L1096.3,629.5 L1100.3,628.9 L1104.2,628.2 L1108.2,627.5 L1112.1,626.8 L1116.0,626.1 L1120.0,625.3 L1123.9,624.5 L1127.8,623.7 L1131.7,622.9 L1135.7,622.1 L1139.6,621.2 L1143.5,620.3 L1147.4,619.4 L1151.3,618.5 L1155.2,617.6 L1159.1,616.7 L1163.0,615.8 L1166.9,614.9 L1170.8,613.9 L1174.7,613.0 L1178.6,612.0 L1182.5,611.1 L1186.4,610.1 L1190.3,609.2 L1194.2,608.2 L1198.0,607.2 L1201.9,606.2 L1205.8,605.1 L1209.7,604.1 L1213.5,603.0 L1217.4,601.9 L1221.2,600.8 L1225.1,599.6 L1228.9,598.4 L1232.7,597.2 L1236.5,596.0 L1240.3,594.7 L1244.1,593.4 L1247.9,592.1 L1251.7,590.7 L1255.4,589.4 L1259.2,588.0 L1262.9,586.6 L1266.7,585.1 L1270.4,583.7 L1274.2,582.3 L1277.9,580.8 L1281.6,579.3 L1285.3,577.8 L1289.1,576.3 L1292.8,574.8 L1296.5,573.3 L1300.2,571.7 L1303.9,570.2 L1307.5,568.6 L1311.2,567.0 L1314.9,565.4 L1318.6,563.8 L1322.2,562.2 L1325.9,560.6 L1329.6,559.0 L1333.3,557.4 L1337.0,555.9 L1340.7,554.3 L1344.4,552.9 L1348.1,551.4 L1351.9,550.1 L1355.7,548.8 L1359.5,547.6 L1363.4,546.5 L1367.2,545.3 L1371.1,544.2 L1373.0,543.7 L1372.3,553.4 L1368.9,555.6 L1365.5,557.7 L1362.2,559.9 L1358.8,562.1 L1355.5,564.4 L1352.2,566.7 L1348.9,568.9 L1345.6,571.3 L1342.4,573.6 L1339.1,576.0 L1335.9,578.3 L1332.6,580.7 L1329.4,583.1 L1326.2,585.4 L1322.9,587.8 L1319.6,590.1 L1316.3,592.4 L1313.0,594.7 L1309.7,596.9 L1306.4,599.2 L1303.0,601.4 L1299.6,603.5 L1296.2,605.6 L1292.7,607.6 L1289.2,609.5 L1285.6,611.3 L1282.0,613.1 L1278.4,614.7 L1274.7,616.3 L1271.0,617.9 L1267.3,619.3 L1263.5,620.7 L1259.7,622.0 L1255.9,623.3 L1252.1,624.5 L1248.3,625.7 L1244.4,626.9 L1240.6,628.1 L1236.7,629.2 L1232.9,630.3 L1229.0,631.3 L1225.1,632.3 L1221.2,633.2 L1217.3,634.0 L1213.3,634.9 L1209.4,635.7 L1205.5,636.5 L1201.6,637.4 L1197.7,638.3 L1193.8,639.3 L1189.9,640.4 L1186.1,641.6 L1182.3,642.9 L1178.5,644.3 L1174.8,645.7 L1171.1,647.2 L1167.4,648.8 L1163.8,650.5 L1160.1,652.1 L1156.5,653.8 L1152.9,655.6 L1149.2,657.3 L1145.6,659.1 L1142.0,660.8 L1138.4,662.6 L1134.8,664.4 L1131.2,666.2 L1127.6,667.9 L1124.0,669.7 L1120.4,671.4 L1116.7,673.1 L1113.1,674.7 L1109.4,676.4 L1105.8,678.0 L1102.1,679.6 L1098.4,681.2 L1094.7,682.7 L1091.0,684.2 L1087.3,685.8 L1083.5,687.3 L1079.8,688.8 L1076.1,690.3 L1072.4,691.7 L1068.6,693.2 L1064.9,694.6 L1061.1,696.0 L1057.3,697.4 L1053.6,698.8 L1049.8,700.1 L1046.0,701.4 L1042.2,702.7 L1038.4,704.0 L1034.6,705.2 L1030.7,706.4 L1026.9,707.6 L1023.1,708.8 L1019.2,709.9 L1015.4,711.0 L1011.5,712.1 L1007.6,713.2 L1003.8,714.3 L999.9,715.3 L996.0,716.4 L992.1,717.4 L988.3,718.4 L984.4,719.4 L980.5,720.4 L976.6,721.4 L972.7,722.3 L968.8,723.3 L964.9,724.3 L961.0,725.2 L957.1,726.1 L953.2,727.1 L949.3,728.0 L945.4,728.9 L941.5,729.8 L937.5,730.7 L933.6,731.5 L929.7,732.4 L925.8,733.2 L921.9,734.0 L917.9,734.9 L914.0,735.7 L910.1,736.5 L906.1,737.3 L902.2,738.1 L898.3,738.9 L894.3,739.7 L890.4,740.5 L886.5,741.3 L882.5,742.2 L878.6,743.0 L874.7,743.9 L870.8,744.7 L866.9,745.6 L863.0,746.6 L859.1,747.5 L855.2,748.6 L851.3,749.7 L847.5,750.8 L843.7,752.0 L839.9,753.3 L836.1,754.6 L832.3,755.8 L828.5,757.1 L824.6,758.4 L820.8,759.6 L817.0,760.7 L813.1,761.8 L809.2,762.7 L805.3,763.6 L801.4,764.4 L797.4,765.2 L793.5,765.8 L789.5,766.5 L785.5,767.1 L781.6,767.7 L777.6,768.2 L773.6,768.7 L769.6,769.2 L765.7,769.7 L761.7,770.2 L757.7,770.6 L753.7,771.1 L749.7,771.5 L745.7,771.9 L741.7,772.2 L737.7,772.6 L733.7,773.0 L729.7,773.3 L725.7,773.7 L721.7,774.0 L717.7,774.3 L713.7,774.6 L709.7,774.8 L705.7,775.1 L701.7,775.4 L697.7,775.6 L693.7,775.8 L689.7,776.0 L685.7,776.2 L681.7,776.3 L677.6,776.4 L673.6,776.5 L669.6,776.6 L665.6,776.7 L661.6,776.8 L657.6,776.8 L653.6,776.9 L649.6,776.9 L645.5,776.9 L641.5,777.0 L637.5,777.0 L633.5,777.0 L629.5,777.0 L625.5,777.0 L621.5,777.0 L617.5,777.0 L613.4,777.0 L609.4,777.0 L605.4,777.0 L601.4,777.0 L597.4,777.0 L593.4,777.0 L589.4,777.1 L585.3,777.1 L581.3,777.1 L577.3,777.2 L573.3,777.2 L569.3,777.2 L565.3,777.2 L561.3,777.2 L557.3,777.2 L553.2,777.2 L549.2,777.1 L545.2,777.1 L541.2,777.0 L537.2,777.0 L533.2,776.9 L529.2,776.8 L525.2,776.6 L521.1,776.5 L517.1,776.4 L513.1,776.2 L509.1,776.1 L505.1,775.9 L501.1,775.7 L497.1,775.5 L493.1,775.3 L489.1,775.1 L485.1,774.9 L481.0,774.7 L477.0,774.5 L473.0,774.3 L469.0,774.1 L465.0,773.9 L461.0,773.7 L457.0,773.4 L453.0,773.2 L449.0,773.0 L445.0,772.8 L441.0,772.5 L437.0,772.3 L433.0,772.1 L429.0,771.8 L424.9,771.6 L420.9,771.4 L416.9,771.2 L412.9,771.0 L408.9,770.7 L404.9,770.5 L400.9,770.3 L398.9,770.2 L395.8,767.6 L392.7,765.0 L389.6,762.3 L386.5,759.7 L383.4,757.1 L380.3,754.5 L377.2,751.9 L374.2,749.3 L371.1,746.7 L368.0,744.0 L364.9,741.4 L361.8,738.8 L358.7,736.1 L355.7,733.5 L352.6,730.8 L349.6,728.2 L346.5,725.5 L343.5,722.8 L340.4,720.1 L337.4,717.5 L334.4,714.8 L331.4,712.1 L328.3,709.4 L325.3,706.7 L322.3,703.9 L319.3,701.2 L316.3,698.5 L313.4,695.7 L310.4,693.0 L307.5,690.2 L304.5,687.4 L301.6,684.5 L298.8,681.7 L295.9,678.8 L293.1,675.9 L290.3,673.0 L287.5,670.0 L284.7,667.1 L282.0,664.1 L279.3,661.1 L276.6,658.1 L273.9,655.1 L271.2,652.0 L268.5,649.0 L265.9,645.9 L263.2,642.8 L260.6,639.7 L258.1,636.6 L255.6,633.4 L253.3,630.1 L251.1,626.7 L250.0,625.0Z" fill="url(#g4b)"/><linearGradient id="g4" gradientUnits="userSpaceOnUse" x1="260" y1="650" x2="1370" y2="560"><stop offset="0" stop-color="#dde8f2"/><stop offset="0.55" stop-color="#e6eff8"/><stop offset="0.75" stop-color="#f3f7fc"/><stop offset="1" stop-color="#eef4fa"/></linearGradient><path d="M252.0,597.0 L255.9,596.9 L259.7,597.0 L263.6,597.6 L267.3,598.5 L271.1,599.7 L274.8,601.1 L278.5,602.6 L282.2,604.2 L285.9,605.8 L289.5,607.5 L293.2,609.1 L296.9,610.7 L300.6,612.2 L304.3,613.8 L308.0,615.3 L311.7,616.7 L315.5,618.2 L319.2,619.6 L323.0,621.0 L326.7,622.3 L330.5,623.7 L334.3,625.1 L338.0,626.4 L341.8,627.8 L345.6,629.1 L349.4,630.4 L353.2,631.7 L357.0,633.0 L360.8,634.3 L364.6,635.5 L368.4,636.8 L372.2,638.0 L376.0,639.2 L379.9,640.4 L383.7,641.5 L387.6,642.6 L391.4,643.7 L395.3,644.7 L399.2,645.7 L403.1,646.6 L407.0,647.5 L410.9,648.3 L414.8,649.1 L418.8,649.9 L422.7,650.6 L426.7,651.3 L430.6,651.9 L434.6,652.5 L438.5,653.1 L442.5,653.7 L446.5,654.3 L450.4,654.8 L454.4,655.4 L458.4,655.9 L462.4,656.4 L466.3,657.0 L470.3,657.6 L474.3,658.2 L478.2,658.8 L482.2,659.4 L486.1,660.1 L490.1,660.9 L494.0,661.6 L497.9,662.4 L501.9,663.1 L505.8,663.8 L509.8,664.5 L513.7,665.1 L517.7,665.6 L521.7,666.0 L525.7,666.3 L529.7,666.6 L533.7,666.9 L537.7,667.0 L541.7,667.2 L545.7,667.3 L549.7,667.4 L553.7,667.5 L557.7,667.6 L561.7,667.8 L565.7,667.9 L569.7,668.1 L573.7,668.3 L577.7,668.5 L581.7,668.7 L585.7,668.9 L589.7,669.1 L593.7,669.3 L597.7,669.5 L601.7,669.7 L605.7,669.9 L609.7,670.1 L613.7,670.3 L617.7,670.5 L621.7,670.7 L625.7,670.9 L629.8,671.1 L633.8,671.2 L637.8,671.4 L641.8,671.5 L645.8,671.6 L649.8,671.6 L653.8,671.6 L657.8,671.6 L661.8,671.5 L665.8,671.4 L669.8,671.3 L673.8,671.2 L677.8,671.2 L681.8,671.1 L685.8,671.1 L689.9,671.0 L693.9,671.0 L697.9,670.9 L701.9,670.8 L705.9,670.8 L709.9,670.7 L713.9,670.6 L717.9,670.5 L721.9,670.4 L725.9,670.2 L729.9,670.0 L733.9,669.9 L737.9,669.7 L741.9,669.5 L745.9,669.2 L749.9,669.0 L753.9,668.8 L757.9,668.5 L761.9,668.3 L765.9,668.0 L769.9,667.7 L773.9,667.5 L777.9,667.2 L781.9,666.9 L785.9,666.6 L789.9,666.3 L793.9,666.0 L797.9,665.7 L801.9,665.4 L805.9,665.1 L809.9,664.8 L813.9,664.4 L817.9,664.1 L821.9,663.7 L825.9,663.4 L829.9,663.0 L833.9,662.6 L837.8,662.2 L841.8,661.8 L845.8,661.4 L849.8,661.0 L853.8,660.5 L857.8,660.1 L861.8,659.6 L865.7,659.2 L869.7,658.7 L873.7,658.2 L877.7,657.7 L881.6,657.2 L885.6,656.7 L889.6,656.2 L893.6,655.7 L897.5,655.2 L901.5,654.6 L905.5,654.1 L909.5,653.6 L913.4,653.1 L917.4,652.5 L921.4,652.0 L925.4,651.5 L929.3,651.0 L933.3,650.4 L937.3,649.9 L941.3,649.4 L945.2,648.9 L949.2,648.4 L953.2,647.8 L957.2,647.3 L961.1,646.8 L965.1,646.2 L969.1,645.7 L973.0,645.1 L977.0,644.6 L981.0,644.0 L984.9,643.5 L988.9,643.0 L992.9,642.4 L996.9,641.9 L1000.8,641.4 L1004.8,640.9 L1008.8,640.4 L1012.8,640.0 L1016.8,639.5 L1020.7,639.0 L1024.7,638.6 L1028.7,638.1 L1032.7,637.7 L1036.7,637.2 L1040.7,636.8 L1044.6,636.3 L1048.6,635.8 L1052.6,635.4 L1056.6,634.9 L1060.6,634.4 L1064.5,633.9 L1068.5,633.4 L1072.5,632.9 L1076.5,632.4 L1080.4,631.9 L1084.4,631.3 L1088.4,630.8 L1092.3,630.2 L1096.3,629.5 L1100.3,628.9 L1104.2,628.2 L1108.2,627.5 L1112.1,626.8 L1116.0,626.1 L1120.0,625.3 L1123.9,624.5 L1127.8,623.7 L1131.7,622.9 L1135.7,622.1 L1139.6,621.2 L1143.5,620.3 L1147.4,619.4 L1151.3,618.5 L1155.2,617.6 L1159.1,616.7 L1163.0,615.8 L1166.9,614.9 L1170.8,613.9 L1174.7,613.0 L1178.6,612.0 L1182.5,611.1 L1186.4,610.1 L1190.3,609.2 L1194.2,608.2 L1198.0,607.2 L1201.9,606.2 L1205.8,605.1 L1209.7,604.1 L1213.5,603.0 L1217.4,601.9 L1221.2,600.8 L1225.1,599.6 L1228.9,598.4 L1232.7,597.2 L1236.5,596.0 L1240.3,594.7 L1244.1,593.4 L1247.9,592.1 L1251.7,590.7 L1255.4,589.4 L1259.2,588.0 L1262.9,586.6 L1266.7,585.1 L1270.4,583.7 L1274.2,582.3 L1277.9,580.8 L1281.6,579.3 L1285.3,577.8 L1289.1,576.3 L1292.8,574.8 L1296.5,573.3 L1300.2,571.7 L1303.9,570.2 L1307.5,568.6 L1311.2,567.0 L1314.9,565.4 L1318.6,563.8 L1322.2,562.2 L1325.9,560.6 L1329.6,559.0 L1333.3,557.4 L1337.0,555.9 L1340.7,554.3 L1344.4,552.9 L1348.1,551.4 L1351.9,550.1 L1355.7,548.8 L1359.5,547.6 L1363.4,546.5 L1367.2,545.3 L1371.1,544.2 L1373.0,543.7 L1372.0,549.0 L1368.6,551.1 L1365.2,553.2 L1361.8,555.3 L1358.4,557.5 L1355.1,559.7 L1351.7,561.9 L1348.4,564.2 L1345.1,566.5 L1341.9,568.8 L1338.6,571.1 L1335.4,573.5 L1332.1,575.8 L1328.8,578.1 L1325.6,580.5 L1322.3,582.8 L1319.0,585.1 L1315.7,587.3 L1312.4,589.6 L1309.1,591.8 L1305.7,594.0 L1302.3,596.1 L1298.9,598.2 L1295.4,600.2 L1291.9,602.2 L1288.4,604.1 L1284.8,605.8 L1281.2,607.5 L1277.5,609.1 L1273.8,610.6 L1270.0,612.1 L1266.3,613.4 L1262.5,614.7 L1258.7,616.0 L1254.9,617.2 L1251.0,618.3 L1247.2,619.5 L1243.3,620.6 L1239.5,621.8 L1235.6,622.9 L1231.8,623.9 L1227.9,625.0 L1224.0,625.9 L1220.1,626.8 L1216.2,627.6 L1212.3,628.4 L1208.3,629.2 L1204.4,630.1 L1200.5,631.0 L1196.6,631.9 L1192.8,633.0 L1188.9,634.1 L1185.1,635.3 L1181.3,636.6 L1177.6,638.1 L1173.9,639.5 L1170.2,641.1 L1166.5,642.7 L1162.9,644.4 L1159.2,646.1 L1155.6,647.8 L1152.0,649.6 L1148.4,651.3 L1144.8,653.1 L1141.2,654.9 L1137.6,656.7 L1134.0,658.4 L1130.4,660.2 L1126.8,662.0 L1123.2,663.7 L1119.6,665.4 L1116.0,667.1 L1112.3,668.8 L1108.7,670.4 L1105.0,672.0 L1101.3,673.6 L1097.6,675.2 L1093.9,676.7 L1090.2,678.2 L1086.5,679.8 L1082.8,681.3 L1079.1,682.8 L1075.4,684.2 L1071.6,685.7 L1067.9,687.1 L1064.1,688.5 L1060.4,689.9 L1056.6,691.3 L1052.8,692.6 L1049.0,693.9 L1045.2,695.2 L1041.4,696.5 L1037.6,697.7 L1033.8,699.0 L1030.0,700.2 L1026.2,701.3 L1022.3,702.5 L1018.5,703.6 L1014.6,704.7 L1010.8,705.8 L1006.9,706.8 L1003.0,707.8 L999.1,708.9 L995.3,709.9 L991.4,710.9 L987.5,711.9 L983.6,712.9 L979.7,713.8 L975.8,714.8 L971.9,715.8 L968.1,716.7 L964.2,717.7 L960.3,718.6 L956.4,719.6 L952.5,720.6 L948.6,721.5 L944.7,722.5 L940.8,723.4 L936.9,724.4 L933.0,725.3 L929.1,726.3 L925.2,727.2 L921.3,728.1 L917.4,729.0 L913.5,730.0 L909.6,730.9 L905.7,731.8 L901.8,732.7 L897.9,733.6 L894.0,734.5 L890.1,735.4 L886.2,736.3 L882.3,737.2 L878.4,738.1 L874.5,739.0 L870.6,739.8 L866.7,740.7 L862.7,741.6 L858.8,742.5 L854.9,743.4 L851.0,744.3 L847.1,745.3 L843.2,746.2 L839.4,747.2 L835.5,748.2 L831.6,749.1 L827.7,750.0 L823.7,750.8 L819.8,751.6 L815.9,752.3 L811.9,752.9 L807.9,753.5 L804.0,754.0 L800.0,754.5 L796.0,755.0 L792.0,755.5 L788.1,755.9 L784.1,756.4 L780.1,756.8 L776.1,757.2 L772.1,757.6 L768.1,758.0 L764.1,758.4 L760.1,758.8 L756.2,759.1 L752.2,759.5 L748.2,759.8 L744.2,760.2 L740.2,760.5 L736.2,760.8 L732.2,761.1 L728.2,761.4 L724.2,761.7 L720.2,762.0 L716.2,762.3 L712.2,762.6 L708.2,762.8 L704.2,763.1 L700.2,763.3 L696.2,763.5 L692.2,763.7 L688.2,763.9 L684.2,764.1 L680.2,764.3 L676.2,764.5 L672.2,764.7 L668.2,764.8 L664.2,765.0 L660.2,765.1 L656.2,765.2 L652.2,765.4 L648.1,765.5 L644.1,765.6 L640.1,765.7 L636.1,765.7 L632.1,765.8 L628.1,765.9 L624.1,766.0 L620.1,766.0 L616.1,766.1 L612.1,766.1 L608.1,766.2 L604.1,766.2 L600.1,766.3 L596.1,766.3 L592.0,766.3 L588.0,766.4 L584.0,766.4 L580.0,766.4 L576.0,766.4 L572.0,766.4 L568.0,766.5 L564.0,766.5 L560.0,766.5 L556.0,766.5 L552.0,766.5 L548.0,766.4 L544.0,766.4 L539.9,766.4 L535.9,766.4 L531.9,766.4 L527.9,766.4 L523.9,766.3 L519.9,766.3 L515.9,766.3 L511.9,766.3 L507.9,766.3 L503.9,766.4 L499.9,766.4 L495.9,766.5 L491.9,766.5 L487.8,766.6 L483.8,766.7 L479.8,766.8 L475.8,766.9 L471.8,767.0 L467.8,767.0 L463.8,767.1 L459.8,767.1 L455.8,767.1 L451.8,767.1 L447.8,767.1 L443.8,767.0 L439.8,766.9 L435.8,766.7 L431.8,766.5 L427.8,766.2 L423.8,765.8 L419.8,765.4 L415.8,764.8 L411.9,764.1 L408.0,763.2 L404.1,762.2 L400.3,760.9 L396.6,759.5 L393.0,757.8 L389.5,755.8 L386.2,753.7 L383.0,751.3 L380.0,748.7 L377.1,745.9 L374.3,743.0 L371.7,740.0 L369.1,737.0 L366.5,733.9 L363.9,730.8 L361.3,727.8 L358.6,724.8 L355.9,721.9 L353.0,719.2 L350.0,716.4 L347.1,713.8 L344.1,711.1 L341.1,708.4 L338.1,705.8 L335.1,703.1 L332.1,700.4 L329.1,697.7 L326.2,695.1 L323.2,692.3 L320.3,689.6 L317.3,686.9 L314.4,684.1 L311.5,681.4 L308.7,678.6 L305.8,675.7 L303.0,672.9 L300.2,670.1 L297.4,667.2 L294.6,664.3 L291.9,661.4 L289.1,658.4 L286.4,655.5 L283.7,652.5 L281.0,649.6 L278.3,646.6 L275.7,643.6 L273.1,640.5 L270.5,637.4 L268.0,634.3 L265.7,631.1 L263.5,627.7 L261.6,624.3 L260.1,620.6 L258.7,616.9 L258.0,615.0Z" fill="url(#g4)"/><linearGradient id="g2b" gradientUnits="userSpaceOnUse" x1="330" y1="300" x2="1370" y2="560"><stop offset="0" stop-color="#d0d2e0"/><stop offset="0.5" stop-color="#b5bbcc"/><stop offset="0.8" stop-color="#a0a9bb"/><stop offset="1" stop-color="#9ca6b8"/></linearGradient><linearGradient id="g2f" gradientUnits="userSpaceOnUse" x1="340" y1="180" x2="1300" y2="560"><stop offset="0" stop-color="#e3e5f1"/><stop offset="0.35" stop-color="#d9dce9"/><stop offset="0.7" stop-color="#c8cfdf"/><stop offset="1" stop-color="#b9c3d5"/></linearGradient><filter id="mottle" x="0" y="0" width="100%" height="100%"><feTurbulence type="fractalNoise" baseFrequency="0.09" numOctaves="2" seed="7"/><feColorMatrix values="0 0 0 0 1  0 0 0 0 1  0 0 0 0 1  0 0 0 -2.2 1.25"/></filter><clipPath id="c2f"><path d="M322.0,172.0 L325.9,171.4 L329.8,170.9 L333.7,170.8 L337.5,171.1 L341.4,171.8 L345.2,172.8 L349.0,174.1 L352.7,175.4 L356.5,176.9 L360.2,178.5 L363.8,180.1 L367.5,181.7 L371.2,183.3 L374.8,185.0 L378.5,186.7 L382.1,188.3 L385.8,190.0 L389.4,191.7 L393.0,193.4 L396.7,195.1 L400.3,196.8 L403.9,198.5 L407.6,200.2 L411.2,201.9 L414.8,203.5 L418.5,205.2 L422.1,206.9 L425.8,208.6 L429.4,210.2 L433.1,211.9 L436.7,213.5 L440.4,215.2 L444.0,216.9 L447.7,218.5 L451.3,220.2 L454.9,221.9 L458.6,223.6 L462.2,225.3 L465.8,227.0 L469.5,228.7 L473.1,230.5 L476.7,232.2 L480.3,234.0 L483.9,235.8 L487.4,237.6 L491.0,239.5 L494.5,241.3 L498.1,243.2 L501.6,245.1 L505.1,247.0 L508.6,249.0 L512.2,250.9 L515.7,252.8 L519.2,254.7 L522.7,256.6 L526.2,258.6 L529.8,260.5 L533.3,262.4 L536.8,264.3 L540.4,266.2 L543.9,268.1 L547.4,270.0 L551.0,271.9 L554.5,273.7 L558.1,275.6 L561.7,277.4 L565.2,279.2 L568.8,281.0 L572.4,282.8 L576.0,284.5 L579.6,286.3 L583.2,288.0 L586.9,289.7 L590.5,291.4 L594.2,293.0 L597.9,294.6 L601.6,296.1 L605.3,297.6 L609.0,299.1 L612.8,300.5 L616.5,301.8 L620.3,303.1 L624.1,304.4 L628.0,305.6 L631.8,306.8 L635.6,308.0 L639.4,309.2 L643.3,310.4 L647.1,311.6 L650.9,312.7 L654.8,313.8 L658.6,314.9 L662.5,316.0 L666.4,317.1 L670.2,318.2 L674.1,319.3 L677.9,320.4 L681.8,321.5 L685.6,322.7 L689.5,323.8 L693.3,325.0 L697.1,326.1 L701.0,327.3 L704.8,328.4 L708.7,329.6 L712.5,330.8 L716.3,331.9 L720.2,333.1 L724.0,334.3 L727.8,335.5 L731.7,336.7 L735.5,337.9 L739.3,339.2 L743.1,340.5 L746.9,341.8 L750.7,343.1 L754.4,344.4 L758.2,345.8 L762.0,347.2 L765.7,348.6 L769.5,350.0 L773.2,351.4 L777.0,352.8 L780.7,354.2 L784.5,355.6 L788.3,356.9 L792.1,358.2 L795.9,359.4 L799.7,360.6 L803.6,361.8 L807.4,363.0 L811.2,364.2 L815.0,365.4 L818.8,366.8 L822.6,368.1 L826.3,369.6 L830.0,371.1 L833.7,372.7 L837.4,374.3 L841.0,375.9 L844.7,377.6 L848.3,379.3 L851.9,381.1 L855.5,382.9 L859.0,384.8 L862.5,386.7 L866.0,388.6 L869.5,390.6 L873.0,392.6 L876.5,394.5 L880.0,396.5 L883.5,398.5 L887.0,400.5 L890.4,402.5 L893.9,404.5 L897.4,406.5 L900.9,408.4 L904.5,410.2 L908.1,412.1 L911.7,413.8 L915.3,415.4 L919.0,417.0 L922.7,418.5 L926.4,420.0 L930.1,421.5 L933.8,423.1 L937.5,424.7 L941.2,426.3 L944.8,428.1 L948.4,429.9 L951.9,431.7 L955.5,433.6 L959.0,435.5 L962.5,437.5 L966.0,439.4 L969.4,441.5 L972.8,443.6 L976.2,445.7 L979.6,447.9 L982.9,450.2 L986.1,452.5 L989.4,454.8 L992.7,457.1 L996.1,459.3 L999.4,461.4 L1002.9,463.5 L1006.3,465.5 L1009.8,467.5 L1013.4,469.4 L1016.9,471.3 L1020.4,473.2 L1024.0,475.0 L1027.5,476.9 L1031.1,478.8 L1034.6,480.7 L1038.1,482.6 L1041.6,484.6 L1045.1,486.5 L1048.6,488.6 L1052.0,490.6 L1055.5,492.6 L1058.9,494.7 L1062.4,496.7 L1065.8,498.8 L1069.3,500.7 L1072.8,502.7 L1076.4,504.5 L1079.9,506.3 L1083.6,508.0 L1087.2,509.6 L1090.9,511.2 L1094.7,512.6 L1098.4,514.0 L1102.2,515.3 L1106.0,516.5 L1109.9,517.7 L1113.7,518.8 L1117.6,519.9 L1121.5,520.9 L1125.4,521.8 L1129.3,522.7 L1133.2,523.6 L1137.1,524.4 L1141.1,525.1 L1145.0,525.7 L1149.0,526.3 L1152.9,526.9 L1156.9,527.5 L1160.9,528.0 L1164.9,528.6 L1168.8,529.1 L1172.8,529.6 L1176.8,530.1 L1180.8,530.6 L1184.8,530.9 L1188.8,531.2 L1192.8,531.3 L1196.8,531.4 L1200.8,531.5 L1204.8,531.5 L1208.8,531.5 L1212.8,531.4 L1216.8,531.4 L1220.8,531.4 L1224.8,531.3 L1228.8,531.3 L1232.8,531.2 L1236.9,531.1 L1240.9,531.0 L1244.9,530.9 L1248.9,530.7 L1252.9,530.5 L1256.9,530.3 L1260.9,530.0 L1264.9,529.7 L1268.9,529.4 L1272.9,529.0 L1276.9,528.6 L1280.8,528.2 L1284.8,527.6 L1288.8,527.1 L1292.7,526.4 L1296.7,525.8 L1300.6,525.0 L1304.6,524.3 L1308.5,523.5 L1312.4,522.7 L1316.3,521.8 L1320.3,520.9 L1324.2,520.0 L1328.1,519.1 L1332.0,518.2 L1335.9,517.3 L1339.8,516.3 L1343.7,515.4 L1347.6,514.4 L1351.5,513.5 L1355.4,512.6 L1359.3,511.7 L1363.2,510.8 L1367.1,509.9 L1371.0,509.0 L1371.0,509.0 L1369.0,533.0 L1369.0,533.0 L1365.2,534.2 L1361.4,535.5 L1357.6,536.8 L1353.8,538.1 L1350.0,539.4 L1346.2,540.7 L1342.4,542.0 L1338.6,543.3 L1334.8,544.7 L1331.0,546.0 L1327.2,547.3 L1323.4,548.6 L1319.6,549.9 L1315.8,551.1 L1312.0,552.4 L1308.1,553.6 L1304.3,554.8 L1300.4,555.9 L1296.6,557.0 L1292.7,558.0 L1288.8,559.0 L1284.9,560.0 L1281.0,560.8 L1277.0,561.7 L1273.1,562.4 L1269.1,563.1 L1265.2,563.8 L1261.2,564.4 L1257.2,565.0 L1253.3,565.5 L1249.3,566.0 L1245.3,566.5 L1241.3,566.9 L1237.3,567.3 L1233.3,567.6 L1229.3,567.9 L1225.3,568.2 L1221.3,568.5 L1217.3,568.7 L1213.3,569.0 L1209.2,569.1 L1205.2,569.3 L1201.2,569.5 L1197.2,569.6 L1193.2,569.7 L1189.2,569.8 L1185.1,569.9 L1181.1,569.9 L1177.1,570.0 L1173.1,570.0 L1169.1,569.9 L1165.1,569.9 L1161.1,569.8 L1157.0,569.6 L1153.0,569.5 L1149.0,569.3 L1145.0,569.1 L1141.0,568.8 L1137.0,568.6 L1133.0,568.3 L1129.0,568.0 L1125.0,567.7 L1121.0,567.4 L1116.9,567.1 L1112.9,566.8 L1108.9,566.5 L1104.9,566.2 L1100.9,565.9 L1096.9,565.6 L1092.9,565.3 L1088.9,565.0 L1084.9,564.8 L1080.9,564.5 L1076.9,564.3 L1072.9,564.1 L1068.9,563.9 L1064.8,563.8 L1060.8,563.7 L1056.8,563.5 L1052.8,563.4 L1048.8,563.2 L1044.8,563.1 L1040.8,562.9 L1036.7,562.7 L1032.7,562.5 L1028.7,562.2 L1024.7,561.9 L1020.7,561.6 L1016.7,561.2 L1012.7,560.7 L1008.8,560.2 L1004.8,559.6 L1000.8,559.0 L996.8,558.4 L992.9,557.6 L989.0,556.9 L985.0,556.1 L981.1,555.3 L977.2,554.4 L973.2,553.5 L969.3,552.6 L965.4,551.6 L961.5,550.7 L957.6,549.7 L953.7,548.7 L949.9,547.7 L946.0,546.7 L942.1,545.6 L938.2,544.6 L934.3,543.6 L930.5,542.5 L926.6,541.5 L922.7,540.4 L918.8,539.3 L914.9,538.3 L911.1,537.3 L907.2,536.2 L903.3,535.2 L899.4,534.1 L895.5,533.1 L891.7,532.1 L887.8,531.0 L883.9,530.0 L880.0,528.9 L876.2,527.9 L872.3,526.8 L868.4,525.7 L864.5,524.7 L860.7,523.6 L856.8,522.5 L852.9,521.4 L849.1,520.3 L845.2,519.2 L841.3,518.2 L837.5,517.1 L833.6,516.0 L829.7,514.9 L825.9,513.8 L822.0,512.7 L818.1,511.6 L814.3,510.5 L810.4,509.5 L806.5,508.4 L802.6,507.3 L798.8,506.3 L794.9,505.2 L791.0,504.2 L787.1,503.1 L783.3,502.1 L779.4,501.0 L775.5,500.0 L771.6,498.9 L767.7,497.9 L763.9,496.9 L760.0,495.8 L756.1,494.8 L752.2,493.7 L748.3,492.7 L744.5,491.7 L740.6,490.6 L736.7,489.6 L732.8,488.5 L728.9,487.5 L725.1,486.5 L721.2,485.4 L717.3,484.3 L713.4,483.3 L709.6,482.2 L705.7,481.2 L701.8,480.1 L697.9,479.1 L694.1,478.0 L690.2,476.9 L686.3,475.9 L682.4,474.8 L678.6,473.8 L674.7,472.7 L670.8,471.6 L666.9,470.6 L663.1,469.5 L659.2,468.5 L655.3,467.4 L651.4,466.3 L647.6,465.2 L643.7,464.2 L639.8,463.1 L636.0,462.0 L632.1,460.9 L628.2,459.8 L624.4,458.7 L620.5,457.6 L616.7,456.5 L612.8,455.3 L608.9,454.2 L605.1,453.1 L601.3,451.9 L597.4,450.7 L593.6,449.6 L589.7,448.4 L585.9,447.2 L582.1,446.0 L578.2,444.8 L574.4,443.6 L570.6,442.3 L566.7,441.1 L562.9,439.9 L559.1,438.6 L555.3,437.4 L551.5,436.2 L547.6,434.9 L543.8,433.7 L540.0,432.4 L536.2,431.2 L532.4,429.9 L528.6,428.6 L524.7,427.4 L520.9,426.2 L517.1,424.9 L513.3,423.7 L509.5,422.4 L505.6,421.2 L501.8,420.0 L498.0,418.8 L494.2,417.6 L490.3,416.3 L486.5,415.1 L482.7,413.9 L478.8,412.7 L475.0,411.5 L475.0,411.5 L472.6,408.2 L470.2,405.0 L467.8,401.7 L465.4,398.5 L463.0,395.2 L460.6,392.0 L458.2,388.7 L455.8,385.5 L453.4,382.2 L451.0,379.0 L448.6,375.7 L446.2,372.5 L443.8,369.2 L441.4,366.0 L439.0,362.7 L436.6,359.5 L434.2,356.2 L431.8,353.0 L429.4,349.7 L427.1,346.4 L424.7,343.2 L422.3,339.9 L420.0,336.6 L417.7,333.3 L415.4,329.9 L413.2,326.6 L410.9,323.2 L408.7,319.8 L406.5,316.5 L404.3,313.1 L402.1,309.7 L399.9,306.3 L397.7,302.9 L395.6,299.5 L393.4,296.1 L391.2,292.7 L389.0,289.3 L386.8,285.9 L384.6,282.5 L382.4,279.1 L380.2,275.7 L377.9,272.4 L375.7,269.0 L373.4,265.6 L371.2,262.3 L369.0,258.9 L366.7,255.6 L364.5,252.2 L362.2,248.8 L360.0,245.5 L357.8,242.1 L355.6,238.7 L353.4,235.3 L351.3,231.9 L349.2,228.4 L347.1,224.9 L345.2,221.4 L343.3,217.9 L341.4,214.3 L339.7,210.6 L338.1,207.0 L336.5,203.3 L335.0,199.5 L333.5,195.8 L332.0,192.0Z"/></clipPath><path d="M322.0,172.0 L325.9,171.4 L329.8,170.9 L333.7,170.8 L337.5,171.1 L341.4,171.8 L345.2,172.8 L349.0,174.1 L352.7,175.4 L356.5,176.9 L360.2,178.5 L363.8,180.1 L367.5,181.7 L371.2,183.3 L374.8,185.0 L378.5,186.7 L382.1,188.3 L385.8,190.0 L389.4,191.7 L393.0,193.4 L396.7,195.1 L400.3,196.8 L403.9,198.5 L407.6,200.2 L411.2,201.9 L414.8,203.5 L418.5,205.2 L422.1,206.9 L425.8,208.6 L429.4,210.2 L433.1,211.9 L436.7,213.5 L440.4,215.2 L444.0,216.9 L447.7,218.5 L451.3,220.2 L454.9,221.9 L458.6,223.6 L462.2,225.3 L465.8,227.0 L469.5,228.7 L473.1,230.5 L476.7,232.2 L480.3,234.0 L483.9,235.8 L487.4,237.6 L491.0,239.5 L494.5,241.3 L498.1,243.2 L501.6,245.1 L505.1,247.0 L508.6,249.0 L512.2,250.9 L515.7,252.8 L519.2,254.7 L522.7,256.6 L526.2,258.6 L529.8,260.5 L533.3,262.4 L536.8,264.3 L540.4,266.2 L543.9,268.1 L547.4,270.0 L551.0,271.9 L554.5,273.7 L558.1,275.6 L561.7,277.4 L565.2,279.2 L568.8,281.0 L572.4,282.8 L576.0,284.5 L579.6,286.3 L583.2,288.0 L586.9,289.7 L590.5,291.4 L594.2,293.0 L597.9,294.6 L601.6,296.1 L605.3,297.6 L609.0,299.1 L612.8,300.5 L616.5,301.8 L620.3,303.1 L624.1,304.4 L628.0,305.6 L631.8,306.8 L635.6,308.0 L639.4,309.2 L643.3,310.4 L647.1,311.6 L650.9,312.7 L654.8,313.8 L658.6,314.9 L662.5,316.0 L666.4,317.1 L670.2,318.2 L674.1,319.3 L677.9,320.4 L681.8,321.5 L685.6,322.7 L689.5,323.8 L693.3,325.0 L697.1,326.1 L701.0,327.3 L704.8,328.4 L708.7,329.6 L712.5,330.8 L716.3,331.9 L720.2,333.1 L724.0,334.3 L727.8,335.5 L731.7,336.7 L735.5,337.9 L739.3,339.2 L743.1,340.5 L746.9,341.8 L750.7,343.1 L754.4,344.4 L758.2,345.8 L762.0,347.2 L765.7,348.6 L769.5,350.0 L773.2,351.4 L777.0,352.8 L780.7,354.2 L784.5,355.6 L788.3,356.9 L792.1,358.2 L795.9,359.4 L799.7,360.6 L803.6,361.8 L807.4,363.0 L811.2,364.2 L815.0,365.4 L818.8,366.8 L822.6,368.1 L826.3,369.6 L830.0,371.1 L833.7,372.7 L837.4,374.3 L841.0,375.9 L844.7,377.6 L848.3,379.3 L851.9,381.1 L855.5,382.9 L859.0,384.8 L862.5,386.7 L866.0,388.6 L869.5,390.6 L873.0,392.6 L876.5,394.5 L880.0,396.5 L883.5,398.5 L887.0,400.5 L890.4,402.5 L893.9,404.5 L897.4,406.5 L900.9,408.4 L904.5,410.2 L908.1,412.1 L911.7,413.8 L915.3,415.4 L919.0,417.0 L922.7,418.5 L926.4,420.0 L930.1,421.5 L933.8,423.1 L937.5,424.7 L941.2,426.3 L944.8,428.1 L948.4,429.9 L951.9,431.7 L955.5,433.6 L959.0,435.5 L962.5,437.5 L966.0,439.4 L969.4,441.5 L972.8,443.6 L976.2,445.7 L979.6,447.9 L982.9,450.2 L986.1,452.5 L989.4,454.8 L992.7,457.1 L996.1,459.3 L999.4,461.4 L1002.9,463.5 L1006.3,465.5 L1009.8,467.5 L1013.4,469.4 L1016.9,471.3 L1020.4,473.2 L1024.0,475.0 L1027.5,476.9 L1031.1,478.8 L1034.6,480.7 L1038.1,482.6 L1041.6,484.6 L1045.1,486.5 L1048.6,488.6 L1052.0,490.6 L1055.5,492.6 L1058.9,494.7 L1062.4,496.7 L1065.8,498.8 L1069.3,500.7 L1072.8,502.7 L1076.4,504.5 L1079.9,506.3 L1083.6,508.0 L1087.2,509.6 L1090.9,511.2 L1094.7,512.6 L1098.4,514.0 L1102.2,515.3 L1106.0,516.5 L1109.9,517.7 L1113.7,518.8 L1117.6,519.9 L1121.5,520.9 L1125.4,521.8 L1129.3,522.7 L1133.2,523.6 L1137.1,524.4 L1141.1,525.1 L1145.0,525.7 L1149.0,526.3 L1152.9,526.9 L1156.9,527.5 L1160.9,528.0 L1164.9,528.6 L1168.8,529.1 L1172.8,529.6 L1176.8,530.1 L1180.8,530.6 L1184.8,530.9 L1188.8,531.2 L1192.8,531.3 L1196.8,531.4 L1200.8,531.5 L1204.8,531.5 L1208.8,531.5 L1212.8,531.4 L1216.8,531.4 L1220.8,531.4 L1224.8,531.3 L1228.8,531.3 L1232.8,531.2 L1236.9,531.1 L1240.9,531.0 L1244.9,530.9 L1248.9,530.7 L1252.9,530.5 L1256.9,530.3 L1260.9,530.0 L1264.9,529.7 L1268.9,529.4 L1272.9,529.0 L1276.9,528.6 L1280.8,528.2 L1284.8,527.6 L1288.8,527.1 L1292.7,526.4 L1296.7,525.8 L1300.6,525.0 L1304.6,524.3 L1308.5,523.5 L1312.4,522.7 L1316.3,521.8 L1320.3,520.9 L1324.2,520.0 L1328.1,519.1 L1332.0,518.2 L1335.9,517.3 L1339.8,516.3 L1343.7,515.4 L1347.6,514.4 L1351.5,513.5 L1355.4,512.6 L1359.3,511.7 L1363.2,510.8 L1367.1,509.9 L1371.0,509.0 L1371.0,509.0 L1369.0,536.0 L1365.4,537.7 L1361.8,539.5 L1358.2,541.2 L1354.5,543.0 L1350.9,544.7 L1347.3,546.4 L1343.7,548.2 L1340.1,549.9 L1336.4,551.6 L1332.8,553.3 L1329.2,555.1 L1325.6,556.9 L1322.1,558.7 L1318.5,560.6 L1315.0,562.5 L1311.4,564.3 L1307.9,566.2 L1304.2,567.9 L1300.6,569.6 L1296.9,571.2 L1293.2,572.6 L1289.4,574.0 L1285.6,575.2 L1281.8,576.3 L1277.9,577.3 L1274.0,578.2 L1270.1,579.0 L1266.1,579.8 L1262.2,580.4 L1258.2,581.0 L1254.2,581.6 L1250.3,582.1 L1246.3,582.6 L1242.3,583.1 L1238.3,583.5 L1234.3,583.9 L1230.3,584.3 L1226.3,584.7 L1222.3,585.0 L1218.3,585.4 L1214.3,585.7 L1210.3,586.0 L1206.3,586.3 L1202.3,586.6 L1198.3,586.9 L1194.3,587.1 L1190.3,587.4 L1186.3,587.6 L1182.3,587.8 L1178.3,588.0 L1174.3,588.1 L1170.3,588.2 L1166.3,588.2 L1162.3,588.1 L1158.3,588.0 L1154.3,587.7 L1150.3,587.4 L1146.3,587.1 L1142.3,586.8 L1138.3,586.5 L1134.3,586.3 L1130.3,586.0 L1126.2,585.9 L1122.2,585.7 L1118.2,585.6 L1114.2,585.5 L1110.2,585.4 L1106.2,585.3 L1102.2,585.2 L1098.2,585.1 L1094.2,584.9 L1090.2,584.8 L1086.1,584.6 L1082.1,584.5 L1078.1,584.3 L1074.1,584.2 L1070.1,584.1 L1066.1,584.0 L1062.1,583.9 L1058.1,583.8 L1054.1,583.7 L1050.1,583.6 L1046.0,583.5 L1042.0,583.3 L1038.0,583.1 L1034.0,583.0 L1030.0,582.7 L1026.0,582.5 L1022.0,582.2 L1018.0,581.9 L1014.0,581.5 L1010.0,581.1 L1006.0,580.7 L1002.1,580.2 L998.1,579.6 L994.1,579.1 L990.2,578.4 L986.2,577.8 L982.3,577.1 L978.3,576.4 L974.4,575.6 L970.4,574.8 L966.5,574.1 L962.6,573.3 L958.6,572.4 L954.7,571.6 L950.8,570.8 L946.9,569.9 L942.9,569.1 L939.0,568.2 L935.1,567.3 L931.2,566.4 L927.3,565.5 L923.4,564.6 L919.5,563.7 L915.6,562.8 L911.6,562.0 L907.7,561.1 L903.8,560.2 L899.9,559.3 L896.0,558.4 L892.1,557.4 L888.2,556.5 L884.3,555.5 L880.4,554.6 L876.5,553.6 L872.7,552.5 L868.8,551.5 L864.9,550.5 L861.0,549.4 L857.2,548.4 L853.3,547.4 L849.4,546.4 L845.5,545.4 L841.6,544.4 L837.7,543.5 L833.8,542.5 L829.9,541.6 L826.0,540.7 L822.1,539.7 L818.2,538.8 L814.3,537.8 L810.4,536.9 L806.5,536.0 L802.6,535.0 L798.7,534.1 L794.8,533.2 L790.9,532.3 L787.0,531.4 L783.1,530.5 L779.2,529.5 L775.3,528.6 L771.3,527.7 L767.4,526.8 L763.5,525.8 L759.7,524.9 L755.8,523.8 L751.9,522.8 L748.1,521.6 L744.2,520.4 L740.4,519.2 L736.7,517.8 L732.9,516.4 L729.2,515.0 L725.4,513.5 L721.7,512.1 L717.9,510.7 L714.2,509.3 L710.4,508.0 L706.5,506.8 L702.7,505.7 L698.8,504.6 L695.0,503.6 L691.1,502.6 L687.2,501.6 L683.3,500.7 L679.4,499.7 L675.5,498.8 L671.6,497.8 L667.7,496.9 L663.8,495.9 L659.9,495.0 L656.0,494.0 L652.1,493.0 L648.2,492.0 L644.3,491.0 L640.5,489.9 L636.6,488.9 L632.7,487.8 L628.9,486.7 L625.0,485.6 L621.2,484.5 L617.3,483.4 L613.4,482.3 L609.6,481.2 L605.7,480.1 L601.9,478.9 L598.0,477.8 L594.2,476.7 L590.4,475.5 L586.5,474.4 L582.7,473.3 L578.8,472.1 L575.0,471.0 L571.1,469.8 L567.3,468.7 L563.4,467.5 L559.6,466.4 L555.7,465.3 L551.9,464.1 L548.0,463.0 L544.2,461.8 L540.4,460.7 L536.5,459.5 L532.7,458.4 L528.8,457.2 L525.0,456.1 L521.1,454.9 L517.3,453.7 L513.5,452.6 L509.6,451.4 L505.8,450.3 L502.0,449.1 L498.1,447.9 L494.3,446.7 L490.5,445.5 L486.7,444.2 L482.9,442.9 L479.1,441.6 L475.3,440.3 L471.5,439.0 L467.7,437.7 L463.9,436.5 L460.1,435.2 L456.2,434.0 L452.4,432.7 L448.6,431.5 L446.7,430.9 L444.2,427.7 L441.8,424.5 L439.3,421.3 L436.9,418.1 L434.4,414.9 L431.9,411.7 L429.5,408.5 L427.0,405.3 L424.6,402.0 L422.1,398.8 L419.7,395.5 L417.4,392.3 L415.0,389.0 L412.7,385.7 L410.4,382.4 L408.1,379.0 L405.9,375.6 L403.7,372.2 L401.5,368.8 L399.4,365.4 L397.3,361.9 L395.2,358.5 L393.2,355.0 L391.1,351.5 L389.2,348.0 L387.2,344.4 L385.3,340.9 L383.4,337.3 L381.5,333.7 L379.7,330.1 L377.9,326.5 L376.2,322.9 L374.5,319.2 L372.8,315.5 L371.1,311.8 L369.5,308.1 L367.9,304.4 L366.3,300.7 L364.8,297.0 L363.2,293.2 L361.7,289.5 L360.1,285.8 L358.6,282.0 L357.0,278.3 L355.5,274.6 L354.0,270.8 L352.4,267.1 L350.9,263.3 L349.4,259.6 L347.9,255.8 L346.4,252.1 L344.9,248.3 L343.5,244.5 L342.0,240.8 L340.5,237.0 L339.0,233.3 L337.5,229.5 L336.1,225.7 L334.6,222.0 L333.1,218.2 L331.6,214.5 L330.1,210.7 L328.6,206.9 L327.2,203.2 L325.7,199.4 L324.2,195.6 L322.7,191.9 L322.0,190.0Z" fill="url(#g2b)"/><path d="M322.0,172.0 L325.9,171.4 L329.8,170.9 L333.7,170.8 L337.5,171.1 L341.4,171.8 L345.2,172.8 L349.0,174.1 L352.7,175.4 L356.5,176.9 L360.2,178.5 L363.8,180.1 L367.5,181.7 L371.2,183.3 L374.8,185.0 L378.5,186.7 L382.1,188.3 L385.8,190.0 L389.4,191.7 L393.0,193.4 L396.7,195.1 L400.3,196.8 L403.9,198.5 L407.6,200.2 L411.2,201.9 L414.8,203.5 L418.5,205.2 L422.1,206.9 L425.8,208.6 L429.4,210.2 L433.1,211.9 L436.7,213.5 L440.4,215.2 L444.0,216.9 L447.7,218.5 L451.3,220.2 L454.9,221.9 L458.6,223.6 L462.2,225.3 L465.8,227.0 L469.5,228.7 L473.1,230.5 L476.7,232.2 L480.3,234.0 L483.9,235.8 L487.4,237.6 L491.0,239.5 L494.5,241.3 L498.1,243.2 L501.6,245.1 L505.1,247.0 L508.6,249.0 L512.2,250.9 L515.7,252.8 L519.2,254.7 L522.7,256.6 L526.2,258.6 L529.8,260.5 L533.3,262.4 L536.8,264.3 L540.4,266.2 L543.9,268.1 L547.4,270.0 L551.0,271.9 L554.5,273.7 L558.1,275.6 L561.7,277.4 L565.2,279.2 L568.8,281.0 L572.4,282.8 L576.0,284.5 L579.6,286.3 L583.2,288.0 L586.9,289.7 L590.5,291.4 L594.2,293.0 L597.9,294.6 L601.6,296.1 L605.3,297.6 L609.0,299.1 L612.8,300.5 L616.5,301.8 L620.3,303.1 L624.1,304.4 L628.0,305.6 L631.8,306.8 L635.6,308.0 L639.4,309.2 L643.3,310.4 L647.1,311.6 L650.9,312.7 L654.8,313.8 L658.6,314.9 L662.5,316.0 L666.4,317.1 L670.2,318.2 L674.1,319.3 L677.9,320.4 L681.8,321.5 L685.6,322.7 L689.5,323.8 L693.3,325.0 L697.1,326.1 L701.0,327.3 L704.8,328.4 L708.7,329.6 L712.5,330.8 L716.3,331.9 L720.2,333.1 L724.0,334.3 L727.8,335.5 L731.7,336.7 L735.5,337.9 L739.3,339.2 L743.1,340.5 L746.9,341.8 L750.7,343.1 L754.4,344.4 L758.2,345.8 L762.0,347.2 L765.7,348.6 L769.5,350.0 L773.2,351.4 L777.0,352.8 L780.7,354.2 L784.5,355.6 L788.3,356.9 L792.1,358.2 L795.9,359.4 L799.7,360.6 L803.6,361.8 L807.4,363.0 L811.2,364.2 L815.0,365.4 L818.8,366.8 L822.6,368.1 L826.3,369.6 L830.0,371.1 L833.7,372.7 L837.4,374.3 L841.0,375.9 L844.7,377.6 L848.3,379.3 L851.9,381.1 L855.5,382.9 L859.0,384.8 L862.5,386.7 L866.0,388.6 L869.5,390.6 L873.0,392.6 L876.5,394.5 L880.0,396.5 L883.5,398.5 L887.0,400.5 L890.4,402.5 L893.9,404.5 L897.4,406.5 L900.9,408.4 L904.5,410.2 L908.1,412.1 L911.7,413.8 L915.3,415.4 L919.0,417.0 L922.7,418.5 L926.4,420.0 L930.1,421.5 L933.8,423.1 L937.5,424.7 L941.2,426.3 L944.8,428.1 L948.4,429.9 L951.9,431.7 L955.5,433.6 L959.0,435.5 L962.5,437.5 L966.0,439.4 L969.4,441.5 L972.8,443.6 L976.2,445.7 L979.6,447.9 L982.9,450.2 L986.1,452.5 L989.4,454.8 L992.7,457.1 L996.1,459.3 L999.4,461.4 L1002.9,463.5 L1006.3,465.5 L1009.8,467.5 L1013.4,469.4 L1016.9,471.3 L1020.4,473.2 L1024.0,475.0 L1027.5,476.9 L1031.1,478.8 L1034.6,480.7 L1038.1,482.6 L1041.6,484.6 L1045.1,486.5 L1048.6,488.6 L1052.0,490.6 L1055.5,492.6 L1058.9,494.7 L1062.4,496.7 L1065.8,498.8 L1069.3,500.7 L1072.8,502.7 L1076.4,504.5 L1079.9,506.3 L1083.6,508.0 L1087.2,509.6 L1090.9,511.2 L1094.7,512.6 L1098.4,514.0 L1102.2,515.3 L1106.0,516.5 L1109.9,517.7 L1113.7,518.8 L1117.6,519.9 L1121.5,520.9 L1125.4,521.8 L1129.3,522.7 L1133.2,523.6 L1137.1,524.4 L1141.1,525.1 L1145.0,525.7 L1149.0,526.3 L1152.9,526.9 L1156.9,527.5 L1160.9,528.0 L1164.9,528.6 L1168.8,529.1 L1172.8,529.6 L1176.8,530.1 L1180.8,530.6 L1184.8,530.9 L1188.8,531.2 L1192.8,531.3 L1196.8,531.4 L1200.8,531.5 L1204.8,531.5 L1208.8,531.5 L1212.8,531.4 L1216.8,531.4 L1220.8,531.4 L1224.8,531.3 L1228.8,531.3 L1232.8,531.2 L1236.9,531.1 L1240.9,531.0 L1244.9,530.9 L1248.9,530.7 L1252.9,530.5 L1256.9,530.3 L1260.9,530.0 L1264.9,529.7 L1268.9,529.4 L1272.9,529.0 L1276.9,528.6 L1280.8,528.2 L1284.8,527.6 L1288.8,527.1 L1292.7,526.4 L1296.7,525.8 L1300.6,525.0 L1304.6,524.3 L1308.5,523.5 L1312.4,522.7 L1316.3,521.8 L1320.3,520.9 L1324.2,520.0 L1328.1,519.1 L1332.0,518.2 L1335.9,517.3 L1339.8,516.3 L1343.7,515.4 L1347.6,514.4 L1351.5,513.5 L1355.4,512.6 L1359.3,511.7 L1363.2,510.8 L1367.1,509.9 L1371.0,509.0 L1371.0,509.0 L1369.0,533.0 L1369.0,533.0 L1365.2,534.2 L1361.4,535.5 L1357.6,536.8 L1353.8,538.1 L1350.0,539.4 L1346.2,540.7 L1342.4,542.0 L1338.6,543.3 L1334.8,544.7 L1331.0,546.0 L1327.2,547.3 L1323.4,548.6 L1319.6,549.9 L1315.8,551.1 L1312.0,552.4 L1308.1,553.6 L1304.3,554.8 L1300.4,555.9 L1296.6,557.0 L1292.7,558.0 L1288.8,559.0 L1284.9,560.0 L1281.0,560.8 L1277.0,561.7 L1273.1,562.4 L1269.1,563.1 L1265.2,563.8 L1261.2,564.4 L1257.2,565.0 L1253.3,565.5 L1249.3,566.0 L1245.3,566.5 L1241.3,566.9 L1237.3,567.3 L1233.3,567.6 L1229.3,567.9 L1225.3,568.2 L1221.3,568.5 L1217.3,568.7 L1213.3,569.0 L1209.2,569.1 L1205.2,569.3 L1201.2,569.5 L1197.2,569.6 L1193.2,569.7 L1189.2,569.8 L1185.1,569.9 L1181.1,569.9 L1177.1,570.0 L1173.1,570.0 L1169.1,569.9 L1165.1,569.9 L1161.1,569.8 L1157.0,569.6 L1153.0,569.5 L1149.0,569.3 L1145.0,569.1 L1141.0,568.8 L1137.0,568.6 L1133.0,568.3 L1129.0,568.0 L1125.0,567.7 L1121.0,567.4 L1116.9,567.1 L1112.9,566.8 L1108.9,566.5 L1104.9,566.2 L1100.9,565.9 L1096.9,565.6 L1092.9,565.3 L1088.9,565.0 L1084.9,564.8 L1080.9,564.5 L1076.9,564.3 L1072.9,564.1 L1068.9,563.9 L1064.8,563.8 L1060.8,563.7 L1056.8,563.5 L1052.8,563.4 L1048.8,563.2 L1044.8,563.1 L1040.8,562.9 L1036.7,562.7 L1032.7,562.5 L1028.7,562.2 L1024.7,561.9 L1020.7,561.6 L1016.7,561.2 L1012.7,560.7 L1008.8,560.2 L1004.8,559.6 L1000.8,559.0 L996.8,558.4 L992.9,557.6 L989.0,556.9 L985.0,556.1 L981.1,555.3 L977.2,554.4 L973.2,553.5 L969.3,552.6 L965.4,551.6 L961.5,550.7 L957.6,549.7 L953.7,548.7 L949.9,547.7 L946.0,546.7 L942.1,545.6 L938.2,544.6 L934.3,543.6 L930.5,542.5 L926.6,541.5 L922.7,540.4 L918.8,539.3 L914.9,538.3 L911.1,537.3 L907.2,536.2 L903.3,535.2 L899.4,534.1 L895.5,533.1 L891.7,532.1 L887.8,531.0 L883.9,530.0 L880.0,528.9 L876.2,527.9 L872.3,526.8 L868.4,525.7 L864.5,524.7 L860.7,523.6 L856.8,522.5 L852.9,521.4 L849.1,520.3 L845.2,519.2 L841.3,518.2 L837.5,517.1 L833.6,516.0 L829.7,514.9 L825.9,513.8 L822.0,512.7 L818.1,511.6 L814.3,510.5 L810.4,509.5 L806.5,508.4 L802.6,507.3 L798.8,506.3 L794.9,505.2 L791.0,504.2 L787.1,503.1 L783.3,502.1 L779.4,501.0 L775.5,500.0 L771.6,498.9 L767.7,497.9 L763.9,496.9 L760.0,495.8 L756.1,494.8 L752.2,493.7 L748.3,492.7 L744.5,491.7 L740.6,490.6 L736.7,489.6 L732.8,488.5 L728.9,487.5 L725.1,486.5 L721.2,485.4 L717.3,484.3 L713.4,483.3 L709.6,482.2 L705.7,481.2 L701.8,480.1 L697.9,479.1 L694.1,478.0 L690.2,476.9 L686.3,475.9 L682.4,474.8 L678.6,473.8 L674.7,472.7 L670.8,471.6 L666.9,470.6 L663.1,469.5 L659.2,468.5 L655.3,467.4 L651.4,466.3 L647.6,465.2 L643.7,464.2 L639.8,463.1 L636.0,462.0 L632.1,460.9 L628.2,459.8 L624.4,458.7 L620.5,457.6 L616.7,456.5 L612.8,455.3 L608.9,454.2 L605.1,453.1 L601.3,451.9 L597.4,450.7 L593.6,449.6 L589.7,448.4 L585.9,447.2 L582.1,446.0 L578.2,444.8 L574.4,443.6 L570.6,442.3 L566.7,441.1 L562.9,439.9 L559.1,438.6 L555.3,437.4 L551.5,436.2 L547.6,434.9 L543.8,433.7 L540.0,432.4 L536.2,431.2 L532.4,429.9 L528.6,428.6 L524.7,427.4 L520.9,426.2 L517.1,424.9 L513.3,423.7 L509.5,422.4 L505.6,421.2 L501.8,420.0 L498.0,418.8 L494.2,417.6 L490.3,416.3 L486.5,415.1 L482.7,413.9 L478.8,412.7 L475.0,411.5 L475.0,411.5 L472.6,408.2 L470.2,405.0 L467.8,401.7 L465.4,398.5 L463.0,395.2 L460.6,392.0 L458.2,388.7 L455.8,385.5 L453.4,382.2 L451.0,379.0 L448.6,375.7 L446.2,372.5 L443.8,369.2 L441.4,366.0 L439.0,362.7 L436.6,359.5 L434.2,356.2 L431.8,353.0 L429.4,349.7 L427.1,346.4 L424.7,343.2 L422.3,339.9 L420.0,336.6 L417.7,333.3 L415.4,329.9 L413.2,326.6 L410.9,323.2 L408.7,319.8 L406.5,316.5 L404.3,313.1 L402.1,309.7 L399.9,306.3 L397.7,302.9 L395.6,299.5 L393.4,296.1 L391.2,292.7 L389.0,289.3 L386.8,285.9 L384.6,282.5 L382.4,279.1 L380.2,275.7 L377.9,272.4 L375.7,269.0 L373.4,265.6 L371.2,262.3 L369.0,258.9 L366.7,255.6 L364.5,252.2 L362.2,248.8 L360.0,245.5 L357.8,242.1 L355.6,238.7 L353.4,235.3 L351.3,231.9 L349.2,228.4 L347.1,224.9 L345.2,221.4 L343.3,217.9 L341.4,214.3 L339.7,210.6 L338.1,207.0 L336.5,203.3 L335.0,199.5 L333.5,195.8 L332.0,192.0Z" fill="url(#g2f)"/><g clip-path="url(#c2f)"><rect x="320" y="160" width="1060" height="420" filter="url(#mottle)" opacity="0.22"/></g><path d="M405.0,16.8 L429.5,20.0 L627.1,45.6 L629.4,48.9 L631.6,52.3 L633.9,55.6 L636.1,59.0 L638.4,62.3 L640.6,65.6 L642.9,69.0 L645.2,72.3 L647.4,75.7 L649.7,79.0 L651.9,82.4 L654.2,85.7 L656.5,89.0 L658.7,92.4 L661.0,95.7 L663.3,99.0 L665.6,102.3 L667.8,105.7 L670.1,109.0 L672.4,112.3 L674.7,115.6 L677.0,119.0 L679.3,122.3 L681.6,125.6 L683.9,128.9 L686.2,132.2 L688.5,135.5 L690.9,138.8 L693.2,142.1 L695.5,145.3 L697.9,148.6 L700.3,151.9 L702.7,155.1 L705.0,158.4 L707.4,161.6 L709.8,164.9 L712.3,168.1 L714.7,171.3 L717.1,174.5 L719.5,177.8 L722.0,181.0 L724.4,184.2 L726.8,187.4 L729.2,190.7 L731.6,193.9 L734.0,197.2 L736.4,200.4 L738.7,203.7 L741.1,207.0 L743.4,210.2 L745.8,213.5 L748.2,216.7 L750.7,219.9 L753.2,223.1 L755.7,226.3 L758.3,229.4 L760.9,232.4 L763.6,235.4 L766.4,238.3 L769.2,241.2 L772.1,244.0 L775.0,246.8 L778.0,249.5 L781.0,252.2 L784.1,254.8 L787.1,257.4 L790.2,260.0 L793.3,262.6 L796.4,265.2 L799.5,267.8 L802.6,270.4 L805.7,273.0 L808.7,275.6 L811.8,278.2 L814.8,280.8 L817.9,283.5 L821.0,286.1 L824.1,288.7 L827.1,291.3 L830.2,293.9 L833.3,296.5 L836.4,299.1 L839.5,301.7 L841.0,303.0 L845.0,302.5 L849.0,302.1 L853.0,301.6 L857.0,301.1 L861.0,300.7 L865.0,300.2 L869.0,299.7 L873.0,299.2 L877.0,298.7 L881.0,298.2 L885.0,297.6 L888.9,297.0 L892.9,296.3 L896.9,295.7 L900.8,295.0 L904.8,294.3 L908.8,293.5 L912.7,292.8 L916.7,292.0 L920.6,291.3 L924.6,290.5 L928.5,289.7 L932.5,288.9 L936.4,288.1 L940.3,287.2 L944.3,286.3 L948.2,285.5 L952.1,284.5 L956.0,283.6 L959.9,282.7 L963.9,281.7 L967.8,280.7 L971.6,279.6 L975.5,278.6 L979.4,277.4 L983.2,276.2 L987.0,274.8 L990.8,273.4 L994.5,271.9 L998.2,270.4 L1001.9,268.7 L1005.5,267.0 L1009.1,265.2 L1012.7,263.3 L1016.2,261.4 L1019.7,259.5 L1023.2,257.5 L1026.7,255.4 L1030.1,253.3 L1033.5,251.2 L1036.9,249.0 L1040.3,246.8 L1043.6,244.5 L1046.9,242.3 L1050.2,239.9 L1053.5,237.6 L1056.7,235.2 L1059.9,232.7 L1063.1,230.3 L1066.3,227.8 L1069.4,225.3 L1072.6,222.8 L1075.7,220.2 L1078.8,217.7 L1081.8,215.0 L1084.8,212.4 L1087.8,209.7 L1090.8,206.9 L1093.7,204.1 L1096.6,201.3 L1099.5,198.5 L1102.4,195.8 L1105.3,193.0 L1108.3,190.3 L1111.2,187.6 L1114.3,184.9 L1117.3,182.2 L1120.3,179.6 L1123.3,176.9 L1126.4,174.3 L1129.4,171.7 L1132.5,169.1 L1135.6,166.5 L1138.7,163.9 L1141.8,161.4 L1144.9,158.8 L1148.1,156.3 L1151.2,153.8 L1154.4,151.3 L1157.6,148.9 L1160.8,146.4 L1164.0,144.0 L1167.3,141.6 L1170.5,139.3 L1173.7,136.9 L1177.0,134.5 L1180.2,132.1 L1183.4,129.6 L1186.6,127.2 L1189.8,124.7 L1193.0,122.2 L1196.1,119.7 L1199.2,117.2 L1202.4,114.7 L1205.5,112.1 L1208.6,109.6 L1211.8,107.1 L1214.9,104.6 L1218.1,102.0 L1221.2,99.6 L1224.4,97.1 L1227.6,94.6 L1230.8,92.2 L1234.0,89.8 L1237.2,87.4 L1240.5,84.9 L1243.7,82.6 L1247.0,80.2 L1250.3,77.9 L1253.6,75.6 L1257.0,73.5 L1260.4,71.3 L1263.9,69.3 L1267.4,67.4 L1271.0,65.6 L1274.6,63.9 L1278.3,62.2 L1282.0,60.7 L1285.8,59.3 L1289.5,57.9 L1293.3,56.5 L1297.1,55.2 L1300.9,53.9 L1304.8,52.6 L1308.6,51.4 L1312.4,50.2 L1316.3,49.1 L1320.2,47.9 L1324.0,46.9 L1327.9,45.8 L1331.8,44.9 L1335.7,43.9 L1339.7,43.1 L1343.6,42.3 L1347.6,41.7 L1351.6,41.1 L1355.6,40.6 L1359.6,40.2 L1363.6,39.9 L1367.6,39.6 L1369.6,39.4 L1371.0,513.0 L1367.1,513.9 L1363.2,514.8 L1359.3,515.7 L1355.4,516.6 L1351.5,517.5 L1347.6,518.4 L1343.7,519.4 L1339.8,520.3 L1335.9,521.3 L1332.0,522.2 L1328.1,523.1 L1324.2,524.0 L1320.3,524.9 L1316.4,525.8 L1312.4,526.7 L1308.5,527.5 L1304.6,528.3 L1300.7,529.0 L1296.7,529.8 L1292.8,530.4 L1288.8,531.1 L1284.8,531.6 L1280.9,532.2 L1276.9,532.6 L1272.9,533.0 L1268.9,533.4 L1264.9,533.7 L1260.9,534.0 L1256.9,534.3 L1252.9,534.5 L1248.9,534.7 L1244.9,534.9 L1240.9,535.0 L1236.9,535.1 L1232.9,535.2 L1228.9,535.3 L1224.9,535.3 L1220.9,535.4 L1216.8,535.4 L1212.8,535.4 L1208.8,535.5 L1204.8,535.5 L1200.8,535.5 L1196.8,535.4 L1192.8,535.3 L1188.8,535.2 L1184.8,534.9 L1180.8,534.6 L1176.8,534.1 L1172.8,533.6 L1168.9,533.1 L1164.9,532.6 L1160.9,532.0 L1157.0,531.5 L1153.0,530.9 L1149.0,530.4 L1145.1,529.7 L1141.1,529.1 L1137.2,528.4 L1133.2,527.6 L1129.3,526.8 L1125.4,525.9 L1121.5,524.9 L1117.6,523.9 L1113.8,522.8 L1109.9,521.7 L1106.1,520.5 L1102.3,519.3 L1098.5,518.0 L1094.7,516.6 L1091.0,515.2 L1087.3,513.7 L1083.6,512.1 L1080.0,510.4 L1076.4,508.6 L1072.9,506.7 L1069.4,504.8 L1065.9,502.8 L1062.4,500.8 L1059.0,498.7 L1055.5,496.7 L1052.1,494.6 L1048.6,492.6 L1045.2,490.6 L1041.7,488.6 L1038.2,486.7 L1034.7,484.7 L1031.1,482.8 L1027.6,481.0 L1024.0,479.1 L1020.5,477.2 L1017.0,475.3 L1013.4,473.4 L1009.9,471.5 L1006.4,469.5 L1002.9,467.5 L999.5,465.5 L996.1,463.3 L992.8,461.1 L989.5,458.8 L986.2,456.5 L982.9,454.2 L979.6,452.0 L976.3,449.8 L972.9,447.6 L969.5,445.5 L966.0,443.5 L962.6,441.5 L959.1,439.5 L955.5,437.6 L952.0,435.7 L948.4,433.9 L944.9,432.1 L941.2,430.4 L937.6,428.7 L933.9,427.1 L930.2,425.6 L926.5,424.1 L922.8,422.6 L919.1,421.1 L915.4,419.6 L911.7,417.9 L908.1,416.2 L904.5,414.4 L901.0,412.5 L897.5,410.6 L894.0,408.6 L890.5,406.6 L887.0,404.6 L883.6,402.6 L880.1,400.6 L876.6,398.6 L873.1,396.6 L869.7,394.6 L866.2,392.7 L862.7,390.7 L859.2,388.7 L855.7,386.8 L852.2,384.8 L848.7,382.8 L845.2,380.8 L841.7,378.8 L838.3,376.8 L834.8,374.8 L831.4,372.8 L827.9,370.7 L824.5,368.7 L821.0,366.6 L817.6,364.5 L814.2,362.4 L810.8,360.4 L807.3,358.3 L803.9,356.3 L800.4,354.2 L796.9,352.2 L793.5,350.3 L789.9,348.3 L786.4,346.4 L782.9,344.5 L779.4,342.6 L775.9,340.7 L772.3,338.7 L768.8,336.8 L765.4,334.8 L762.0,332.7 L758.7,330.4 L755.4,328.1 L752.2,325.7 L749.0,323.3 L745.8,320.9 L742.6,318.6 L739.2,316.4 L735.9,314.2 L732.5,312.1 L729.0,310.0 L725.6,308.0 L722.1,306.0 L718.7,303.9 L715.2,301.9 L711.7,299.9 L708.3,297.9 L704.8,295.9 L701.3,293.8 L697.9,291.8 L694.4,289.8 L691.0,287.7 L687.5,285.7 L684.0,283.7 L680.6,281.7 L677.1,279.7 L673.7,277.6 L670.2,275.6 L666.8,273.6 L663.3,271.5 L659.9,269.4 L656.5,267.3 L653.0,265.2 L649.7,263.1 L646.3,261.0 L642.9,258.8 L639.5,256.6 L636.2,254.4 L632.9,252.2 L629.5,249.9 L626.2,247.7 L622.9,245.4 L619.6,243.1 L616.3,240.8 L613.1,238.5 L609.8,236.1 L606.6,233.8 L603.4,231.4 L600.2,228.9 L597.1,226.4 L594.0,223.8 L591.0,221.2 L588.0,218.5 L585.0,215.9 L581.9,213.3 L578.9,210.8 L575.7,208.3 L572.6,205.8 L569.4,203.4 L566.1,201.0 L562.9,198.6 L559.7,196.2 L556.5,193.8 L553.3,191.4 L550.1,189.0 L546.9,186.6 L543.7,184.1 L540.5,181.7 L537.4,179.2 L534.2,176.7 L531.1,174.2 L528.0,171.7 L524.9,169.2 L521.8,166.6 L518.7,164.1 L515.6,161.5 L512.6,158.9 L509.5,156.3 L506.5,153.7 L503.5,151.0 L500.5,148.4 L497.5,145.7 L494.5,143.0 L491.6,140.3 L488.7,137.5 L485.8,134.7 L483.0,131.9 L480.2,129.0 L477.4,126.1 L474.7,123.2 L471.9,120.2 L469.2,117.3 L466.6,114.3 L463.9,111.3 L461.2,108.3 L458.6,105.3 L456.0,102.2 L453.5,99.1 L451.0,96.0 L448.5,92.8 L446.1,89.6 L443.8,86.4 L441.5,83.1 L439.3,79.7 L437.1,76.4 L435.0,73.0 L432.8,69.6 L430.7,66.2 L428.6,62.8 L426.6,59.3 L424.5,55.9 L422.4,52.5 L420.2,49.1 L418.0,45.8 L415.8,42.4 L413.5,39.2 L411.1,35.9 L408.7,32.7 L406.2,29.6 L405.0,28.0Z" fill="url(#qb)"/><linearGradient id="g1big" gradientUnits="userSpaceOnUse" x1="850" y1="420" x2="1370" y2="60"><stop offset="0" stop-color="#6a5040" stop-opacity="0.18"/><stop offset="0.5" stop-color="#000" stop-opacity="0"/><stop offset="1" stop-color="#000" stop-opacity="0.12"/></linearGradient><path d="M405.0,16.8 L429.5,20.0 L627.1,45.6 L629.4,48.9 L631.6,52.3 L633.9,55.6 L636.1,59.0 L638.4,62.3 L640.6,65.6 L642.9,69.0 L645.2,72.3 L647.4,75.7 L649.7,79.0 L651.9,82.4 L654.2,85.7 L656.5,89.0 L658.7,92.4 L661.0,95.7 L663.3,99.0 L665.6,102.3 L667.8,105.7 L670.1,109.0 L672.4,112.3 L674.7,115.6 L677.0,119.0 L679.3,122.3 L681.6,125.6 L683.9,128.9 L686.2,132.2 L688.5,135.5 L690.9,138.8 L693.2,142.1 L695.5,145.3 L697.9,148.6 L700.3,151.9 L702.7,155.1 L705.0,158.4 L707.4,161.6 L709.8,164.9 L712.3,168.1 L714.7,171.3 L717.1,174.5 L719.5,177.8 L722.0,181.0 L724.4,184.2 L726.8,187.4 L729.2,190.7 L731.6,193.9 L734.0,197.2 L736.4,200.4 L738.7,203.7 L741.1,207.0 L743.4,210.2 L745.8,213.5 L748.2,216.7 L750.7,219.9 L753.2,223.1 L755.7,226.3 L758.3,229.4 L760.9,232.4 L763.6,235.4 L766.4,238.3 L769.2,241.2 L772.1,244.0 L775.0,246.8 L778.0,249.5 L781.0,252.2 L784.1,254.8 L787.1,257.4 L790.2,260.0 L793.3,262.6 L796.4,265.2 L799.5,267.8 L802.6,270.4 L805.7,273.0 L808.7,275.6 L811.8,278.2 L814.8,280.8 L817.9,283.5 L821.0,286.1 L824.1,288.7 L827.1,291.3 L830.2,293.9 L833.3,296.5 L836.4,299.1 L839.5,301.7 L841.0,303.0 L845.0,302.5 L849.0,302.1 L853.0,301.6 L857.0,301.1 L861.0,300.7 L865.0,300.2 L869.0,299.7 L873.0,299.2 L877.0,298.7 L881.0,298.2 L885.0,297.6 L888.9,297.0 L892.9,296.3 L896.9,295.7 L900.8,295.0 L904.8,294.3 L908.8,293.5 L912.7,292.8 L916.7,292.0 L920.6,291.3 L924.6,290.5 L928.5,289.7 L932.5,288.9 L936.4,288.1 L940.3,287.2 L944.3,286.3 L948.2,285.5 L952.1,284.5 L956.0,283.6 L959.9,282.7 L963.9,281.7 L967.8,280.7 L971.6,279.6 L975.5,278.6 L979.4,277.4 L983.2,276.2 L987.0,274.8 L990.8,273.4 L994.5,271.9 L998.2,270.4 L1001.9,268.7 L1005.5,267.0 L1009.1,265.2 L1012.7,263.3 L1016.2,261.4 L1019.7,259.5 L1023.2,257.5 L1026.7,255.4 L1030.1,253.3 L1033.5,251.2 L1036.9,249.0 L1040.3,246.8 L1043.6,244.5 L1046.9,242.3 L1050.2,239.9 L1053.5,237.6 L1056.7,235.2 L1059.9,232.7 L1063.1,230.3 L1066.3,227.8 L1069.4,225.3 L1072.6,222.8 L1075.7,220.2 L1078.8,217.7 L1081.8,215.0 L1084.8,212.4 L1087.8,209.7 L1090.8,206.9 L1093.7,204.1 L1096.6,201.3 L1099.5,198.5 L1102.4,195.8 L1105.3,193.0 L1108.3,190.3 L1111.2,187.6 L1114.3,184.9 L1117.3,182.2 L1120.3,179.6 L1123.3,176.9 L1126.4,174.3 L1129.4,171.7 L1132.5,169.1 L1135.6,166.5 L1138.7,163.9 L1141.8,161.4 L1144.9,158.8 L1148.1,156.3 L1151.2,153.8 L1154.4,151.3 L1157.6,148.9 L1160.8,146.4 L1164.0,144.0 L1167.3,141.6 L1170.5,139.3 L1173.7,136.9 L1177.0,134.5 L1180.2,132.1 L1183.4,129.6 L1186.6,127.2 L1189.8,124.7 L1193.0,122.2 L1196.1,119.7 L1199.2,117.2 L1202.4,114.7 L1205.5,112.1 L1208.6,109.6 L1211.8,107.1 L1214.9,104.6 L1218.1,102.0 L1221.2,99.6 L1224.4,97.1 L1227.6,94.6 L1230.8,92.2 L1234.0,89.8 L1237.2,87.4 L1240.5,84.9 L1243.7,82.6 L1247.0,80.2 L1250.3,77.9 L1253.6,75.6 L1257.0,73.5 L1260.4,71.3 L1263.9,69.3 L1267.4,67.4 L1271.0,65.6 L1274.6,63.9 L1278.3,62.2 L1282.0,60.7 L1285.8,59.3 L1289.5,57.9 L1293.3,56.5 L1297.1,55.2 L1300.9,53.9 L1304.8,52.6 L1308.6,51.4 L1312.4,50.2 L1316.3,49.1 L1320.2,47.9 L1324.0,46.9 L1327.9,45.8 L1331.8,44.9 L1335.7,43.9 L1339.7,43.1 L1343.6,42.3 L1347.6,41.7 L1351.6,41.1 L1355.6,40.6 L1359.6,40.2 L1363.6,39.9 L1367.6,39.6 L1369.6,39.4 L1371.0,513.0 L1367.1,513.9 L1363.2,514.8 L1359.3,515.7 L1355.4,516.6 L1351.5,517.5 L1347.6,518.4 L1343.7,519.4 L1339.8,520.3 L1335.9,521.3 L1332.0,522.2 L1328.1,523.1 L1324.2,524.0 L1320.3,524.9 L1316.4,525.8 L1312.4,526.7 L1308.5,527.5 L1304.6,528.3 L1300.7,529.0 L1296.7,529.8 L1292.8,530.4 L1288.8,531.1 L1284.8,531.6 L1280.9,532.2 L1276.9,532.6 L1272.9,533.0 L1268.9,533.4 L1264.9,533.7 L1260.9,534.0 L1256.9,534.3 L1252.9,534.5 L1248.9,534.7 L1244.9,534.9 L1240.9,535.0 L1236.9,535.1 L1232.9,535.2 L1228.9,535.3 L1224.9,535.3 L1220.9,535.4 L1216.8,535.4 L1212.8,535.4 L1208.8,535.5 L1204.8,535.5 L1200.8,535.5 L1196.8,535.4 L1192.8,535.3 L1188.8,535.2 L1184.8,534.9 L1180.8,534.6 L1176.8,534.1 L1172.8,533.6 L1168.9,533.1 L1164.9,532.6 L1160.9,532.0 L1157.0,531.5 L1153.0,530.9 L1149.0,530.4 L1145.1,529.7 L1141.1,529.1 L1137.2,528.4 L1133.2,527.6 L1129.3,526.8 L1125.4,525.9 L1121.5,524.9 L1117.6,523.9 L1113.8,522.8 L1109.9,521.7 L1106.1,520.5 L1102.3,519.3 L1098.5,518.0 L1094.7,516.6 L1091.0,515.2 L1087.3,513.7 L1083.6,512.1 L1080.0,510.4 L1076.4,508.6 L1072.9,506.7 L1069.4,504.8 L1065.9,502.8 L1062.4,500.8 L1059.0,498.7 L1055.5,496.7 L1052.1,494.6 L1048.6,492.6 L1045.2,490.6 L1041.7,488.6 L1038.2,486.7 L1034.7,484.7 L1031.1,482.8 L1027.6,481.0 L1024.0,479.1 L1020.5,477.2 L1017.0,475.3 L1013.4,473.4 L1009.9,471.5 L1006.4,469.5 L1002.9,467.5 L999.5,465.5 L996.1,463.3 L992.8,461.1 L989.5,458.8 L986.2,456.5 L982.9,454.2 L979.6,452.0 L976.3,449.8 L972.9,447.6 L969.5,445.5 L966.0,443.5 L962.6,441.5 L959.1,439.5 L955.5,437.6 L952.0,435.7 L948.4,433.9 L944.9,432.1 L941.2,430.4 L937.6,428.7 L933.9,427.1 L930.2,425.6 L926.5,424.1 L922.8,422.6 L919.1,421.1 L915.4,419.6 L911.7,417.9 L908.1,416.2 L904.5,414.4 L901.0,412.5 L897.5,410.6 L894.0,408.6 L890.5,406.6 L887.0,404.6 L883.6,402.6 L880.1,400.6 L876.6,398.6 L873.1,396.6 L869.7,394.6 L866.2,392.7 L862.7,390.7 L859.2,388.7 L855.7,386.8 L852.2,384.8 L848.7,382.8 L845.2,380.8 L841.7,378.8 L838.3,376.8 L834.8,374.8 L831.4,372.8 L827.9,370.7 L824.5,368.7 L821.0,366.6 L817.6,364.5 L814.2,362.4 L810.8,360.4 L807.3,358.3 L803.9,356.3 L800.4,354.2 L796.9,352.2 L793.5,350.3 L789.9,348.3 L786.4,346.4 L782.9,344.5 L779.4,342.6 L775.9,340.7 L772.3,338.7 L768.8,336.8 L765.4,334.8 L762.0,332.7 L758.7,330.4 L755.4,328.1 L752.2,325.7 L749.0,323.3 L745.8,320.9 L742.6,318.6 L739.2,316.4 L735.9,314.2 L732.5,312.1 L729.0,310.0 L725.6,308.0 L722.1,306.0 L718.7,303.9 L715.2,301.9 L711.7,299.9 L708.3,297.9 L704.8,295.9 L701.3,293.8 L697.9,291.8 L694.4,289.8 L691.0,287.7 L687.5,285.7 L684.0,283.7 L680.6,281.7 L677.1,279.7 L673.7,277.6 L670.2,275.6 L666.8,273.6 L663.3,271.5 L659.9,269.4 L656.5,267.3 L653.0,265.2 L649.7,263.1 L646.3,261.0 L642.9,258.8 L639.5,256.6 L636.2,254.4 L632.9,252.2 L629.5,249.9 L626.2,247.7 L622.9,245.4 L619.6,243.1 L616.3,240.8 L613.1,238.5 L609.8,236.1 L606.6,233.8 L603.4,231.4 L600.2,228.9 L597.1,226.4 L594.0,223.8 L591.0,221.2 L588.0,218.5 L585.0,215.9 L581.9,213.3 L578.9,210.8 L575.7,208.3 L572.6,205.8 L569.4,203.4 L566.1,201.0 L562.9,198.6 L559.7,196.2 L556.5,193.8 L553.3,191.4 L550.1,189.0 L546.9,186.6 L543.7,184.1 L540.5,181.7 L537.4,179.2 L534.2,176.7 L531.1,174.2 L528.0,171.7 L524.9,169.2 L521.8,166.6 L518.7,164.1 L515.6,161.5 L512.6,158.9 L509.5,156.3 L506.5,153.7 L503.5,151.0 L500.5,148.4 L497.5,145.7 L494.5,143.0 L491.6,140.3 L488.7,137.5 L485.8,134.7 L483.0,131.9 L480.2,129.0 L477.4,126.1 L474.7,123.2 L471.9,120.2 L469.2,117.3 L466.6,114.3 L463.9,111.3 L461.2,108.3 L458.6,105.3 L456.0,102.2 L453.5,99.1 L451.0,96.0 L448.5,92.8 L446.1,89.6 L443.8,86.4 L441.5,83.1 L439.3,79.7 L437.1,76.4 L435.0,73.0 L432.8,69.6 L430.7,66.2 L428.6,62.8 L426.6,59.3 L424.5,55.9 L422.4,52.5 L420.2,49.1 L418.0,45.8 L415.8,42.4 L413.5,39.2 L411.1,35.9 L408.7,32.7 L406.2,29.6 L405.0,28.0Z" fill="url(#g1big)"/><path d="M405.0,16.8 L627.1,45.6 L629.4,48.9 L631.6,52.3 L633.9,55.6 L636.1,58.9 L638.4,62.3 L640.6,65.6 L642.9,68.9 L645.1,72.3 L647.4,75.6 L649.6,79.0 L651.9,82.3 L654.2,85.6 L656.4,88.9 L658.7,92.3 L660.9,95.6 L663.2,98.9 L665.5,102.2 L667.8,105.6 L670.1,108.9 L672.3,112.2 L674.6,115.5 L676.9,118.8 L679.2,122.1 L681.5,125.4 L683.8,128.7 L686.1,132.0 L688.4,135.3 L690.7,138.6 L693.1,141.9 L695.4,145.2 L697.8,148.4 L700.1,151.7 L702.5,154.9 L704.9,158.2 L707.3,161.4 L709.7,164.6 L712.1,167.9 L714.5,171.1 L716.9,174.3 L719.4,177.5 L721.8,180.7 L724.2,183.9 L726.6,187.2 L729.0,190.4 L731.4,193.6 L733.8,196.9 L736.1,200.1 L738.5,203.4 L740.9,206.7 L743.2,209.9 L745.6,213.2 L748.0,216.4 L750.4,219.6 L752.9,222.8 L755.4,225.9 L758.0,229.0 L760.6,232.1 L763.3,235.1 L766.1,238.0 L768.9,240.9 L771.8,243.7 L774.7,246.4 L777.6,249.2 L780.7,251.8 L783.7,254.5 L786.7,257.1 L789.8,259.7 L792.9,262.3 L796.0,264.9 L799.1,267.4 L802.2,270.0 L805.2,272.6 L808.3,275.2 L811.4,277.8 L814.4,280.5 L817.5,283.1 L820.6,285.7 L823.7,288.3 L826.7,290.9 L829.8,293.4 L832.9,296.0 L835.9,298.7 L839.0,301.3 L842.0,303.9 L845.1,306.5 L848.1,309.2 L851.2,311.8 L854.2,314.5 L857.2,317.1 L860.2,319.8 L863.3,322.5 L866.2,325.2 L869.2,327.9 L872.2,330.6 L875.1,333.4 L878.0,336.1 L881.0,338.9 L883.9,341.7 L886.8,344.5 L889.6,347.3 L892.5,350.1 L895.4,352.9 L898.3,355.7 L901.1,358.5 L904.0,361.4 L906.9,364.2 L909.7,367.0 L912.6,369.9 L915.4,372.7 L918.3,375.5 L921.2,378.4 L924.0,381.2 L926.9,384.1 L929.7,386.9 L932.6,389.7 L935.4,392.6 L938.3,395.4 L941.1,398.2 L944.0,401.1 L946.8,403.9 L949.7,406.8 L952.5,409.6 L955.4,412.4 L958.2,415.3 L961.1,418.1 L963.9,421.0 L966.8,423.8 L969.6,426.7 L972.5,429.5 L975.3,432.4 L978.2,435.2 L981.0,438.1 L983.8,440.9 L986.7,443.8 L989.5,446.6 L992.4,449.5 L995.2,452.3 L998.1,455.2 L1000.9,458.0 L1003.8,460.9 L1006.6,463.7 L1006.6,463.7 L1000.0,466.0 L998.4,464.8 L995.1,462.5 L991.8,460.2 L988.5,457.9 L985.2,455.6 L981.9,453.3 L978.6,451.1 L975.2,449.0 L971.8,446.9 L968.3,444.8 L964.9,442.8 L961.4,440.8 L957.9,438.9 L954.3,437.0 L950.8,435.1 L947.2,433.3 L943.6,431.5 L940.0,429.8 L936.3,428.2 L932.6,426.6 L928.9,425.1 L925.2,423.6 L921.5,422.1 L917.8,420.6 L914.1,419.0 L910.5,417.3 L906.8,415.6 L903.3,413.7 L899.7,411.8 L896.2,409.9 L892.7,407.9 L889.3,405.9 L885.8,403.9 L882.3,401.9 L878.8,399.9 L875.4,397.9 L871.9,395.9 L868.4,393.9 L864.9,392.0 L861.4,390.0 L857.9,388.0 L854.4,386.0 L850.9,384.1 L847.4,382.1 L843.9,380.1 L840.5,378.1 L837.0,376.1 L833.5,374.1 L830.1,372.0 L826.6,370.0 L823.2,367.9 L819.8,365.8 L816.3,363.7 L812.9,361.7 L809.5,359.6 L806.0,357.5 L802.6,355.5 L799.1,353.5 L795.6,351.5 L792.1,349.5 L788.6,347.6 L785.1,345.6 L781.5,343.7 L778.0,341.8 L774.5,339.9 L771.0,338.0 L767.5,336.0 L764.0,333.9 L760.7,331.8 L757.4,329.5 L754.1,327.2 L751.0,324.8 L747.8,322.3 L744.5,320.0 L741.3,317.7 L737.9,315.5 L734.5,313.4 L731.1,311.3 L727.6,309.2 L724.2,307.2 L720.7,305.1 L717.3,303.1 L713.8,301.1 L710.3,299.1 L706.9,297.1 L703.4,295.0 L699.9,293.0 L696.5,291.0 L693.0,288.9 L689.5,286.9 L686.1,284.9 L682.6,282.9 L679.2,280.8 L675.7,278.8 L672.2,276.8 L668.8,274.7 L665.3,272.7 L661.9,270.6 L658.4,268.6 L655.0,266.5 L651.6,264.4 L648.2,262.2 L644.8,260.0 L641.5,257.9 L638.1,255.7 L634.8,253.4 L631.4,251.2 L628.1,249.0 L624.8,246.7 L621.5,244.4 L618.2,242.1 L614.9,239.8 L611.7,237.5 L608.4,235.1 L605.2,232.7 L602.0,230.3 L598.9,227.8 L595.8,225.3 L592.7,222.7 L589.7,220.0 L586.7,217.4 L583.7,214.8 L580.6,212.2 L577.5,209.6 L574.3,207.2 L571.1,204.7 L567.9,202.3 L564.7,199.9 L561.5,197.6 L558.3,195.2 L555.0,192.8 L551.8,190.4 L548.6,187.9 L545.4,185.5 L542.3,183.0 L539.1,180.6 L536.0,178.1 L532.8,175.6 L529.7,173.1 L526.6,170.6 L523.5,168.0 L520.4,165.5 L517.3,162.9 L514.2,160.3 L511.2,157.7 L508.1,155.1 L505.1,152.5 L502.1,149.8 L499.1,147.1 L496.1,144.4 L493.2,141.7 L490.2,139.0 L487.4,136.2 L484.5,133.4 L481.7,130.5 L478.9,127.6 L476.1,124.7 L473.4,121.8 L470.7,118.8 L468.0,115.9 L465.3,112.9 L462.6,109.9 L460.0,106.9 L457.4,103.8 L454.8,100.7 L452.3,97.6 L449.8,94.5 L447.3,91.3 L445.0,88.1 L442.7,84.8 L440.4,81.4 L438.2,78.1 L436.1,74.7 L433.9,71.3 L431.8,67.9 L429.7,64.5 L427.6,61.1 L425.5,57.7 L423.4,54.2 L421.3,50.8 L419.1,47.4 L416.9,44.1 L414.7,40.8 L412.3,37.6 L409.9,34.3 L407.5,31.2 L405.0,28.0Z" fill="url(#qbn)"/><linearGradient id="g1n" gradientUnits="userSpaceOnUse" x1="640" y1="160" x2="1000" y2="460"><stop offset="0" stop-color="#000" stop-opacity="0"/><stop offset="1" stop-color="#1a100a" stop-opacity="0.42"/></linearGradient><path d="M405.0,16.8 L627.1,45.6 L629.4,48.9 L631.6,52.3 L633.9,55.6 L636.1,58.9 L638.4,62.3 L640.6,65.6 L642.9,68.9 L645.1,72.3 L647.4,75.6 L649.6,79.0 L651.9,82.3 L654.2,85.6 L656.4,88.9 L658.7,92.3 L660.9,95.6 L663.2,98.9 L665.5,102.2 L667.8,105.6 L670.1,108.9 L672.3,112.2 L674.6,115.5 L676.9,118.8 L679.2,122.1 L681.5,125.4 L683.8,128.7 L686.1,132.0 L688.4,135.3 L690.7,138.6 L693.1,141.9 L695.4,145.2 L697.8,148.4 L700.1,151.7 L702.5,154.9 L704.9,158.2 L707.3,161.4 L709.7,164.6 L712.1,167.9 L714.5,171.1 L716.9,174.3 L719.4,177.5 L721.8,180.7 L724.2,183.9 L726.6,187.2 L729.0,190.4 L731.4,193.6 L733.8,196.9 L736.1,200.1 L738.5,203.4 L740.9,206.7 L743.2,209.9 L745.6,213.2 L748.0,216.4 L750.4,219.6 L752.9,222.8 L755.4,225.9 L758.0,229.0 L760.6,232.1 L763.3,235.1 L766.1,238.0 L768.9,240.9 L771.8,243.7 L774.7,246.4 L777.6,249.2 L780.7,251.8 L783.7,254.5 L786.7,257.1 L789.8,259.7 L792.9,262.3 L796.0,264.9 L799.1,267.4 L802.2,270.0 L805.2,272.6 L808.3,275.2 L811.4,277.8 L814.4,280.5 L817.5,283.1 L820.6,285.7 L823.7,288.3 L826.7,290.9 L829.8,293.4 L832.9,296.0 L835.9,298.7 L839.0,301.3 L842.0,303.9 L845.1,306.5 L848.1,309.2 L851.2,311.8 L854.2,314.5 L857.2,317.1 L860.2,319.8 L863.3,322.5 L866.2,325.2 L869.2,327.9 L872.2,330.6 L875.1,333.4 L878.0,336.1 L881.0,338.9 L883.9,341.7 L886.8,344.5 L889.6,347.3 L892.5,350.1 L895.4,352.9 L898.3,355.7 L901.1,358.5 L904.0,361.4 L906.9,364.2 L909.7,367.0 L912.6,369.9 L915.4,372.7 L918.3,375.5 L921.2,378.4 L924.0,381.2 L926.9,384.1 L929.7,386.9 L932.6,389.7 L935.4,392.6 L938.3,395.4 L941.1,398.2 L944.0,401.1 L946.8,403.9 L949.7,406.8 L952.5,409.6 L955.4,412.4 L958.2,415.3 L961.1,418.1 L963.9,421.0 L966.8,423.8 L969.6,426.7 L972.5,429.5 L975.3,432.4 L978.2,435.2 L981.0,438.1 L983.8,440.9 L986.7,443.8 L989.5,446.6 L992.4,449.5 L995.2,452.3 L998.1,455.2 L1000.9,458.0 L1003.8,460.9 L1006.6,463.7 L1006.6,463.7 L1000.0,466.0 L998.4,464.8 L995.1,462.5 L991.8,460.2 L988.5,457.9 L985.2,455.6 L981.9,453.3 L978.6,451.1 L975.2,449.0 L971.8,446.9 L968.3,444.8 L964.9,442.8 L961.4,440.8 L957.9,438.9 L954.3,437.0 L950.8,435.1 L947.2,433.3 L943.6,431.5 L940.0,429.8 L936.3,428.2 L932.6,426.6 L928.9,425.1 L925.2,423.6 L921.5,422.1 L917.8,420.6 L914.1,419.0 L910.5,417.3 L906.8,415.6 L903.3,413.7 L899.7,411.8 L896.2,409.9 L892.7,407.9 L889.3,405.9 L885.8,403.9 L882.3,401.9 L878.8,399.9 L875.4,397.9 L871.9,395.9 L868.4,393.9 L864.9,392.0 L861.4,390.0 L857.9,388.0 L854.4,386.0 L850.9,384.1 L847.4,382.1 L843.9,380.1 L840.5,378.1 L837.0,376.1 L833.5,374.1 L830.1,372.0 L826.6,370.0 L823.2,367.9 L819.8,365.8 L816.3,363.7 L812.9,361.7 L809.5,359.6 L806.0,357.5 L802.6,355.5 L799.1,353.5 L795.6,351.5 L792.1,349.5 L788.6,347.6 L785.1,345.6 L781.5,343.7 L778.0,341.8 L774.5,339.9 L771.0,338.0 L767.5,336.0 L764.0,333.9 L760.7,331.8 L757.4,329.5 L754.1,327.2 L751.0,324.8 L747.8,322.3 L744.5,320.0 L741.3,317.7 L737.9,315.5 L734.5,313.4 L731.1,311.3 L727.6,309.2 L724.2,307.2 L720.7,305.1 L717.3,303.1 L713.8,301.1 L710.3,299.1 L706.9,297.1 L703.4,295.0 L699.9,293.0 L696.5,291.0 L693.0,288.9 L689.5,286.9 L686.1,284.9 L682.6,282.9 L679.2,280.8 L675.7,278.8 L672.2,276.8 L668.8,274.7 L665.3,272.7 L661.9,270.6 L658.4,268.6 L655.0,266.5 L651.6,264.4 L648.2,262.2 L644.8,260.0 L641.5,257.9 L638.1,255.7 L634.8,253.4 L631.4,251.2 L628.1,249.0 L624.8,246.7 L621.5,244.4 L618.2,242.1 L614.9,239.8 L611.7,237.5 L608.4,235.1 L605.2,232.7 L602.0,230.3 L598.9,227.8 L595.8,225.3 L592.7,222.7 L589.7,220.0 L586.7,217.4 L583.7,214.8 L580.6,212.2 L577.5,209.6 L574.3,207.2 L571.1,204.7 L567.9,202.3 L564.7,199.9 L561.5,197.6 L558.3,195.2 L555.0,192.8 L551.8,190.4 L548.6,187.9 L545.4,185.5 L542.3,183.0 L539.1,180.6 L536.0,178.1 L532.8,175.6 L529.7,173.1 L526.6,170.6 L523.5,168.0 L520.4,165.5 L517.3,162.9 L514.2,160.3 L511.2,157.7 L508.1,155.1 L505.1,152.5 L502.1,149.8 L499.1,147.1 L496.1,144.4 L493.2,141.7 L490.2,139.0 L487.4,136.2 L484.5,133.4 L481.7,130.5 L478.9,127.6 L476.1,124.7 L473.4,121.8 L470.7,118.8 L468.0,115.9 L465.3,112.9 L462.6,109.9 L460.0,106.9 L457.4,103.8 L454.8,100.7 L452.3,97.6 L449.8,94.5 L447.3,91.3 L445.0,88.1 L442.7,84.8 L440.4,81.4 L438.2,78.1 L436.1,74.7 L433.9,71.3 L431.8,67.9 L429.7,64.5 L427.6,61.1 L425.5,57.7 L423.4,54.2 L421.3,50.8 L419.1,47.4 L416.9,44.1 L414.7,40.8 L412.3,37.6 L409.9,34.3 L407.5,31.2 L405.0,28.0Z" fill="url(#g1n)"/><g clip-path="url(#c1)"><path d="M405.0,28.0 L407.5,31.2 L409.9,34.3 L412.3,37.6 L414.7,40.8 L416.9,44.1 L419.1,47.4 L421.3,50.8 L423.4,54.2 L425.5,57.7 L427.6,61.1 L429.7,64.5 L431.8,67.9 L433.9,71.3 L436.1,74.7 L438.2,78.1 L440.4,81.4 L442.7,84.8 L445.0,88.1 L447.3,91.3 L449.8,94.5 L452.3,97.6 L454.8,100.7 L457.4,103.8 L460.0,106.9 L462.6,109.9 L465.3,112.9 L468.0,115.9 L470.7,118.8 L473.4,121.8 L476.1,124.7 L478.9,127.6 L481.7,130.5 L484.5,133.4 L487.4,136.2 L490.2,139.0 L493.2,141.7 L496.1,144.4 L499.1,147.1 L502.1,149.8 L505.1,152.5 L508.1,155.1 L511.2,157.7 L514.2,160.3 L517.3,162.9 L520.4,165.5 L523.5,168.0 L526.6,170.6 L529.7,173.1 L532.8,175.6 L536.0,178.1 L539.1,180.6 L542.3,183.0 L545.4,185.5 L548.6,187.9 L551.8,190.4 L555.0,192.8 L558.3,195.2 L561.5,197.6 L564.7,199.9 L567.9,202.3 L571.1,204.7 L574.3,207.2 L577.5,209.6 L580.6,212.2 L583.7,214.8 L586.7,217.4 L589.7,220.0 L592.7,222.7 L595.8,225.3 L598.9,227.8 L602.0,230.3 L605.2,232.7 L608.4,235.1 L611.7,237.5 L614.9,239.8 L618.2,242.1 L621.5,244.4 L624.8,246.7 L628.1,249.0 L631.4,251.2 L634.8,253.4 L638.1,255.7 L641.5,257.9 L644.8,260.0 L648.2,262.2 L651.6,264.4 L655.0,266.5 L658.4,268.6 L661.9,270.6 L665.3,272.7 L668.8,274.7 L672.2,276.8 L675.7,278.8 L679.2,280.8 L682.6,282.9 L686.1,284.9 L689.5,286.9 L693.0,288.9 L696.5,291.0 L699.9,293.0 L703.4,295.0 L706.9,297.1 L710.3,299.1 L713.8,301.1 L717.3,303.1 L720.7,305.1 L724.2,307.2 L727.6,309.2 L731.1,311.3 L734.5,313.4 L737.9,315.5 L741.3,317.7 L744.5,320.0 L747.8,322.3 L751.0,324.8 L754.1,327.2 L757.4,329.5 L760.7,331.8 L764.0,333.9 L767.5,336.0 L771.0,338.0 L774.5,339.9 L778.0,341.8 L781.5,343.7 L785.1,345.6 L788.6,347.6 L792.1,349.5 L795.6,351.5 L799.1,353.5 L802.6,355.5 L806.0,357.5 L809.5,359.6 L812.9,361.7 L816.3,363.7 L819.8,365.8 L823.2,367.9 L826.6,370.0 L830.1,372.0 L833.5,374.1 L837.0,376.1 L840.5,378.1 L843.9,380.1 L847.4,382.1 L850.9,384.1 L854.4,386.0 L857.9,388.0 L861.4,390.0 L864.9,392.0 L868.4,393.9 L871.9,395.9 L875.4,397.9 L878.8,399.9 L882.3,401.9 L885.8,403.9 L889.3,405.9 L892.7,407.9 L896.2,409.9 L899.7,411.8 L903.3,413.7 L906.8,415.6 L910.5,417.3 L914.1,419.0 L917.8,420.6 L921.5,422.1 L925.2,423.6 L928.9,425.1 L932.6,426.6 L936.3,428.2 L940.0,429.8 L943.6,431.5 L947.2,433.3 L950.8,435.1 L954.3,437.0 L957.9,438.9 L961.4,440.8 L964.9,442.8 L968.3,444.8 L971.8,446.9 L975.2,449.0 L978.6,451.1 L981.9,453.3 L985.2,455.6 L988.5,457.9 L991.8,460.2 L995.1,462.5 L998.4,464.8 L1000.0,466.0 L1005.2,458.7 L1003.6,457.5 L1000.3,455.2 L997.0,452.8 L993.7,450.5 L990.3,448.2 L986.9,445.9 L983.5,443.6 L980.0,441.3 L976.5,439.2 L972.9,437.1 L969.3,435.0 L965.8,433.0 L962.2,431.0 L958.6,429.0 L954.9,427.1 L951.3,425.2 L947.5,423.4 L943.8,421.6 L939.9,419.9 L936.1,418.3 L932.3,416.7 L928.5,415.2 L924.9,413.8 L921.3,412.3 L917.8,410.8 L914.3,409.2 L910.9,407.5 L907.5,405.8 L904.1,403.9 L900.6,402.0 L897.2,400.1 L893.7,398.1 L890.3,396.1 L886.8,394.1 L883.3,392.1 L879.8,390.1 L876.3,388.1 L872.8,386.1 L869.3,384.1 L865.8,382.1 L862.3,380.2 L858.8,378.2 L855.3,376.2 L851.9,374.3 L848.4,372.3 L845.0,370.3 L841.5,368.3 L838.1,366.3 L834.7,364.3 L831.3,362.2 L827.8,360.2 L824.4,358.1 L821.0,356.0 L817.5,354.0 L814.1,351.9 L810.6,349.8 L807.1,347.7 L803.6,345.7 L800.0,343.6 L796.5,341.6 L792.9,339.7 L789.4,337.7 L785.8,335.8 L782.3,333.9 L778.8,332.0 L775.4,330.1 L772.0,328.2 L768.8,326.3 L765.6,324.3 L762.6,322.2 L759.5,320.0 L756.4,317.6 L753.2,315.1 L749.8,312.6 L746.3,310.2 L742.8,307.9 L739.3,305.7 L735.7,303.6 L732.2,301.5 L728.8,299.4 L725.3,297.4 L721.8,295.3 L718.3,293.3 L714.9,291.3 L711.4,289.3 L707.9,287.3 L704.5,285.2 L701.0,283.2 L697.6,281.2 L694.1,279.2 L690.6,277.1 L687.2,275.1 L683.7,273.1 L680.2,271.0 L676.8,269.0 L673.4,267.0 L669.9,265.0 L666.5,262.9 L663.1,260.9 L659.7,258.8 L656.4,256.7 L653.0,254.6 L649.7,252.5 L646.4,250.3 L643.1,248.2 L639.8,246.0 L636.5,243.7 L633.2,241.5 L629.9,239.3 L626.6,237.0 L623.4,234.7 L620.1,232.5 L616.9,230.2 L613.7,227.9 L610.6,225.5 L607.5,223.2 L604.5,220.8 L601.5,218.4 L598.6,215.9 L595.6,213.3 L592.6,210.6 L589.5,207.9 L586.3,205.2 L583.1,202.6 L579.8,200.1 L576.6,197.6 L573.3,195.1 L570.1,192.7 L566.8,190.3 L563.6,187.9 L560.4,185.6 L557.3,183.2 L554.1,180.8 L550.9,178.4 L547.8,175.9 L544.7,173.5 L541.5,171.0 L538.4,168.5 L535.3,166.1 L532.2,163.6 L529.2,161.1 L526.1,158.5 L523.1,156.0 L520.0,153.4 L517.0,150.9 L514.0,148.3 L511.0,145.7 L508.0,143.1 L505.1,140.4 L502.2,137.8 L499.3,135.1 L496.5,132.5 L493.6,129.7 L490.9,127.0 L488.1,124.2 L485.4,121.4 L482.7,118.5 L480.0,115.7 L477.3,112.8 L474.6,109.8 L472.0,106.9 L469.4,103.9 L466.8,101.0 L464.2,98.0 L461.7,95.0 L459.3,92.0 L456.9,89.0 L454.6,85.9 L452.3,82.8 L450.1,79.7 L447.9,76.5 L445.8,73.2 L443.7,69.9 L441.6,66.5 L439.5,63.2 L437.4,59.8 L435.3,56.4 L433.2,53.0 L431.1,49.5 L428.9,46.0 L426.7,42.5 L424.4,39.1 L422.0,35.6 L419.6,32.2 L417.1,28.9 L414.6,25.6 L412.1,22.5Z" fill="#545252"/><path d="M405.0,16.8 L627.1,45.6 L620.8,56.0 L405.0,27.0Z" fill="#8f8f8d"/><path d="M627.1,45.6 L629.4,48.9 L631.6,52.3 L633.9,55.6 L636.1,58.9 L638.4,62.3 L640.6,65.6 L642.9,68.9 L645.1,72.3 L647.4,75.6 L649.6,79.0 L651.9,82.3 L654.2,85.6 L656.4,88.9 L658.7,92.3 L660.9,95.6 L663.2,98.9 L665.5,102.2 L667.8,105.6 L670.1,108.9 L672.3,112.2 L674.6,115.5 L676.9,118.8 L679.2,122.1 L681.5,125.4 L683.8,128.7 L686.1,132.0 L688.4,135.3 L690.7,138.6 L693.1,141.9 L695.4,145.2 L697.8,148.4 L700.1,151.7 L702.5,154.9 L704.9,158.2 L707.3,161.4 L709.7,164.6 L712.1,167.9 L714.5,171.1 L716.9,174.3 L719.4,177.5 L721.8,180.7 L724.2,183.9 L726.6,187.2 L729.0,190.4 L731.4,193.6 L733.8,196.9 L736.1,200.1 L738.5,203.4 L740.9,206.7 L743.2,209.9 L745.6,213.2 L748.0,216.4 L750.4,219.6 L752.9,222.8 L755.4,225.9 L758.0,229.0 L760.6,232.1 L763.3,235.1 L766.1,238.0 L768.9,240.9 L771.8,243.7 L774.7,246.4 L777.6,249.2 L780.7,251.8 L783.7,254.5 L786.7,257.1 L789.8,259.7 L792.9,262.3 L796.0,264.9 L799.1,267.4 L802.2,270.0 L805.2,272.6 L808.3,275.2 L811.4,277.8 L814.4,280.5 L817.5,283.1 L820.6,285.7 L823.7,288.3 L826.7,290.9 L829.8,293.4 L832.9,296.0 L835.9,298.7 L839.0,301.3 L842.0,303.9 L845.1,306.5 L848.1,309.2 L851.2,311.8 L854.2,314.5 L857.2,317.1 L860.2,319.8 L863.3,322.5 L866.2,325.2 L869.2,327.9 L872.2,330.6 L875.1,333.4 L878.0,336.1 L881.0,338.9 L883.9,341.7 L886.8,344.5 L889.6,347.3 L892.5,350.1 L895.4,352.9 L898.3,355.7 L901.1,358.5 L904.0,361.4 L906.9,364.2 L909.7,367.0 L912.6,369.9 L915.4,372.7 L918.3,375.5 L921.2,378.4 L924.0,381.2 L926.9,384.1 L929.7,386.9 L932.6,389.7 L935.4,392.6 L938.3,395.4 L941.1,398.2 L944.0,401.1 L946.8,403.9 L949.7,406.8 L952.5,409.6 L955.4,412.4 L958.2,415.3 L961.1,418.1 L963.9,421.0 L966.8,423.8 L969.6,426.7 L972.5,429.5 L975.3,432.4 L978.2,435.2 L981.0,438.1 L983.8,440.9 L986.7,443.8 L989.5,446.6 L992.4,449.5 L995.2,452.3 L998.1,455.2 L1000.9,458.0 L1003.8,460.9 L1006.6,463.7 L1006.6,463.7 L1006.6,474.7 L998.8,471.5 L996.0,468.6 L993.1,465.8 L990.3,462.9 L987.4,460.1 L984.6,457.2 L981.7,454.4 L978.9,451.5 L976.1,448.7 L973.2,445.8 L970.4,443.0 L967.5,440.1 L964.7,437.3 L961.8,434.4 L959.0,431.6 L956.2,428.8 L953.3,425.9 L950.5,423.1 L947.6,420.2 L944.8,417.4 L941.9,414.6 L939.1,411.7 L936.2,408.9 L933.4,406.0 L930.5,403.2 L927.7,400.4 L924.8,397.5 L922.0,394.7 L919.1,391.8 L916.3,389.0 L913.4,386.2 L910.5,383.3 L907.7,380.5 L904.8,377.7 L902.0,374.8 L899.1,372.0 L896.3,369.2 L893.4,366.4 L890.6,363.6 L887.7,360.8 L884.8,358.0 L882.0,355.2 L879.1,352.4 L876.2,349.6 L873.4,346.8 L870.5,344.1 L867.6,341.4 L864.7,338.7 L861.8,336.0 L858.8,333.3 L855.9,330.6 L852.9,328.0 L850.0,325.4 L847.0,322.7 L844.0,320.1 L840.9,317.5 L837.9,314.9 L834.8,312.2 L831.8,309.6 L828.8,307.0 L825.8,304.4 L822.7,301.8 L819.6,299.3 L816.6,296.7 L813.5,294.1 L810.4,291.5 L807.3,288.8 L804.2,286.2 L801.2,283.6 L798.1,281.0 L795.1,278.5 L792.0,275.9 L788.9,273.3 L785.8,270.7 L782.7,268.1 L779.6,265.5 L776.5,262.8 L773.4,260.1 L770.3,257.3 L767.2,254.5 L764.1,251.6 L761.1,248.7 L758.1,245.6 L755.2,242.5 L752.4,239.4 L749.6,236.1 L746.9,232.9 L744.3,229.6 L741.7,226.3 L739.2,223.0 L736.7,219.7 L734.3,216.4 L731.9,213.1 L729.6,209.8 L727.2,206.6 L724.9,203.3 L722.5,200.1 L720.2,196.9 L717.8,193.8 L715.4,190.6 L713.0,187.4 L710.6,184.1 L708.1,180.9 L705.7,177.7 L703.3,174.5 L700.9,171.2 L698.4,168.0 L696.0,164.7 L693.6,161.4 L691.2,158.2 L688.9,154.9 L686.5,151.6 L684.1,148.3 L681.8,145.0 L679.4,141.7 L677.1,138.4 L674.8,135.0 L672.5,131.7 L670.2,128.4 L667.9,125.1 L665.6,121.8 L663.3,118.4 L661.0,115.1 L658.7,111.8 L656.4,108.5 L654.1,105.1 L651.9,101.8 L649.6,98.5 L647.3,95.1 L645.0,91.8 L642.8,88.5 L640.5,85.1 L638.3,81.8 L636.0,78.4 L633.8,75.1 L631.5,71.8 L629.3,68.4 L627.0,65.1 L624.7,61.8 L622.5,58.4 L620.2,55.1 L618.0,51.8Z" fill="#939391"/><path d="M1371.0,513.0 L1367.1,513.9 L1363.2,514.8 L1359.2,515.7 L1355.3,516.6 L1351.4,517.5 L1347.5,518.5 L1343.6,519.4 L1339.7,520.3 L1335.8,521.3 L1331.8,522.2 L1327.9,523.1 L1324.0,524.1 L1320.1,525.0 L1316.2,525.8 L1312.2,526.7 L1308.3,527.5 L1304.4,528.3 L1300.4,529.1 L1296.5,529.8 L1292.5,530.5 L1288.5,531.1 L1284.5,531.7 L1280.6,532.2 L1276.6,532.7 L1272.6,533.1 L1268.6,533.4 L1264.5,533.8 L1260.5,534.1 L1256.5,534.3 L1252.5,534.5 L1248.5,534.7 L1244.5,534.9 L1240.4,535.0 L1236.4,535.1 L1232.4,535.2 L1228.4,535.3 L1224.4,535.3 L1220.3,535.4 L1216.3,535.4 L1212.3,535.4 L1208.3,535.5 L1204.2,535.5 L1200.2,535.4 L1196.2,535.4 L1192.2,535.3 L1188.2,535.1 L1184.2,534.9 L1180.2,534.5 L1176.2,534.1 L1172.2,533.6 L1168.2,533.0 L1164.2,532.5 L1160.2,531.9 L1156.2,531.4 L1152.3,530.8 L1148.3,530.2 L1144.3,529.6 L1140.3,528.9 L1136.4,528.2 L1132.4,527.4 L1128.5,526.6 L1124.6,525.7 L1120.7,524.7 L1116.8,523.7 L1112.9,522.6 L1109.1,521.5 L1105.2,520.3 L1101.4,519.0 L1097.6,517.7 L1093.8,516.3 L1090.1,514.8 L1086.4,513.3 L1082.7,511.6 L1079.1,509.9 L1075.5,508.1 L1072.0,506.2 L1068.4,504.3 L1065.0,502.3 L1061.5,500.2 L1058.0,498.2 L1054.6,496.1 L1051.1,494.1 L1047.7,492.0 L1044.2,490.0 L1040.7,488.0 L1037.2,486.1 L1033.6,484.1 L1030.1,482.2 L1026.6,480.3 L1023.0,478.4 L1019.5,476.5 L1016.0,474.6 L1012.4,472.7 L1008.9,470.8 L1005.3,468.9 L1001.8,467.0 L1000.0,466.0 L1005.2,456.3 L1007.0,457.3 L1010.5,459.2 L1014.1,461.1 L1017.6,463.0 L1021.2,464.9 L1024.7,466.8 L1028.3,468.7 L1031.8,470.6 L1035.4,472.5 L1038.9,474.5 L1042.5,476.4 L1046.1,478.4 L1049.6,480.5 L1053.2,482.5 L1056.7,484.6 L1060.2,486.7 L1063.7,488.7 L1067.1,490.8 L1070.5,492.8 L1073.9,494.7 L1077.2,496.6 L1080.6,498.3 L1083.9,500.0 L1087.3,501.6 L1090.8,503.2 L1094.2,504.6 L1097.8,506.0 L1101.3,507.3 L1104.9,508.6 L1108.6,509.8 L1112.3,510.9 L1116.0,512.0 L1119.7,513.1 L1123.4,514.0 L1127.2,515.0 L1130.9,515.8 L1134.7,516.7 L1138.5,517.4 L1142.3,518.1 L1146.1,518.8 L1149.9,519.4 L1153.8,519.9 L1157.8,520.5 L1161.7,521.0 L1165.7,521.6 L1169.7,522.1 L1173.6,522.6 L1177.5,523.1 L1181.3,523.6 L1185.0,523.9 L1188.8,524.1 L1192.6,524.3 L1196.4,524.4 L1200.3,524.4 L1204.3,524.5 L1208.2,524.5 L1212.2,524.4 L1216.2,524.4 L1220.2,524.4 L1224.2,524.3 L1228.2,524.3 L1232.2,524.2 L1236.1,524.1 L1240.1,524.0 L1244.1,523.9 L1248.0,523.7 L1252.0,523.5 L1255.9,523.3 L1259.8,523.1 L1263.7,522.8 L1267.6,522.5 L1271.5,522.1 L1275.4,521.7 L1279.2,521.3 L1283.0,520.8 L1286.9,520.2 L1290.7,519.6 L1294.5,519.0 L1298.4,518.3 L1302.2,517.5 L1306.1,516.8 L1309.9,515.9 L1313.8,515.1 L1317.7,514.2 L1321.5,513.3 L1325.4,512.4 L1329.3,511.5 L1333.2,510.6 L1337.1,509.6 L1341.0,508.7 L1344.9,507.8 L1348.9,506.8 L1352.8,505.9 L1356.7,505.0 L1360.7,504.1 L1364.6,503.2 L1368.6,502.3Z" fill="#8f8f8e"/></g><circle cx="409.5" cy="22.5" r="20.6" fill="#939393" stroke="#7d7d7d" stroke-width="0.8"/><circle cx="409.5" cy="22.5" r="11" fill="#1e1a18"/><circle cx="325.6" cy="188.2" r="20.6" fill="#939393" stroke="#7d7d7d" stroke-width="0.8"/><circle cx="325.6" cy="188.2" r="11" fill="#1e1a18"/><circle cx="230.2" cy="437.5" r="20.6" fill="#939393" stroke="#7d7d7d" stroke-width="0.8"/><circle cx="230.2" cy="437.5" r="11" fill="#1e1a18"/><circle cx="244.6" cy="620" r="20.6" fill="#939393" stroke="#7d7d7d" stroke-width="0.8"/><circle cx="244.6" cy="620" r="11" fill="#1e1a18"/><circle cx="235.3" cy="825" r="20.6" fill="#939393" stroke="#7d7d7d" stroke-width="0.8"/><circle cx="235.3" cy="825" r="11" fill="#1e1a18"/></svg>
<div class="lab" style="left:229.3px;top:5.5px;letter-spacing:0.4px">Layer 1</div>
<div class="lab" style="left:134.0px;top:171.1px;letter-spacing:1.2px">Layer 2</div>
<div class="lab" style="left:62.4px;top:420.3px;letter-spacing:1.2px">Layer 3</div>
<div class="lab" style="left:62.7px;top:603.4px;letter-spacing:1.1px">Layer 4</div>
<div class="lab" style="left:62.7px;top:807.8px;letter-spacing:1.2px">Layer 5</div>

<div class="ttl">About Structure:</div>
<div class="box"></div>
<div class="ln" style="top:1134.8px;transform:scaleX(0.7225)">Layer 1: Plain &amp; Geometric Embroidery &amp; Waterproof Process &amp; Reversible, Meet your more Experience Requirements</div>
<div class="ln" style="top:1197.3px;transform:scaleX(0.779)">Layer 2: Thickened Encrypted Fiber Cotton to Increase Softness and Cushioning</div>
<div class="ln" style="top:1261.4px;transform:scaleX(0.7763)">Layer 3+4: Combined with Non-woven Fabric and Waterproof Membrane to Further Filter Liquids and Stains</div>
<div class="ln" style="top:1324.1px;transform:scaleX(0.7225)">Layer 5: Plain &amp; Geometric Embroidery &amp; Waterproof Process &amp; Reversible, Meet your more Experience Requirements</div>

</body></html>
